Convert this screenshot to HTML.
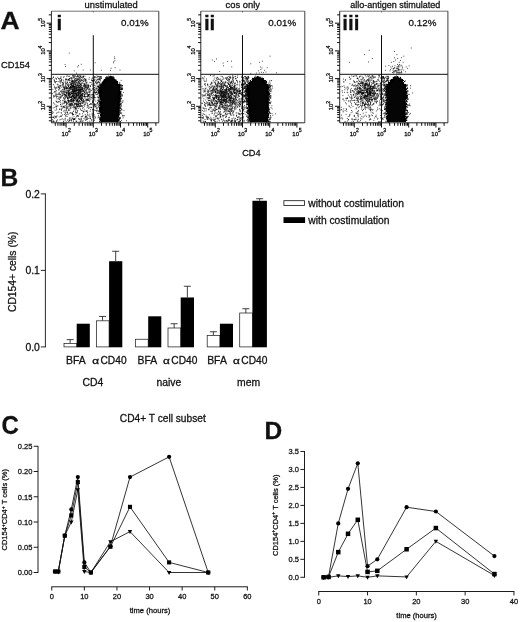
<!DOCTYPE html>
<html><head><meta charset="utf-8"><title>figure</title>
<style>html,body{margin:0;padding:0;background:#fff;}svg{display:block;will-change:transform;filter:blur(0.3px);}text{font-family:'Liberation Sans', sans-serif;fill:#111;}.t text{stroke:#111;stroke-width:0.28px;}</style>
</head><body>
<svg width="520" height="622" viewBox="0 0 520 622">
<rect width="520" height="622" fill="#fff"/>
<g class="t">
<text transform="translate(0.5 28.8) scale(1.09 1)" font-size="24.3" font-weight="bold" fill="#000">A</text>
<text x="0.4" y="186.2" font-size="24.6" text-anchor="start" font-weight="bold" fill="#000">B</text>
<text transform="translate(1.6 434.2) scale(0.945 1)" font-size="25.4" font-weight="bold" fill="#000">C</text>
<text transform="translate(264.6 438.8) scale(1.04 1)" font-size="23.5" font-weight="bold" fill="#000">D</text>
<path d="M111 77.5h1M106 78.5h1M108 78.5h6M104 79.5h11M104 80.5h12M103 81.5h15M102 82.5h16M102 83.5h16M101 84.5h18M101 85.5h19M101 86.5h19M100 87.5h20M99 88.5h21M100 89.5h19M100 90.5h20M100 91.5h20M99 92.5h22M100 93.5h20M100 94.5h20M99 95.5h21M100 96.5h19M100 97.5h20M100 98.5h20M100 99.5h20M101 100.5h18M100 101.5h20M100 102.5h19M100 103.5h19M100 104.5h20M100 105.5h20M101 106.5h18M99 107.5h20M99 108.5h20M101 109.5h18M100 110.5h19M100 111.5h19M101 112.5h18M101 113.5h18M100 114.5h19M101 115.5h18M101 116.5h18M101 117.5h17M100 118.5h18M100 119.5h19M100 120.5h19M101 121.5h17" stroke="#050505" stroke-width="1" fill="none" shape-rendering="crispEdges"/>
<path d="M89.5 92.3h0M73.2 88.2h0M71.6 87.5h0M54.3 96.1h0M75.4 80.6h0M71.2 86.9h0M78.0 93.9h0M67.0 103.6h0M68.4 92.2h0M71.7 96.6h0M81.0 83.8h0M80.0 91.0h0M65.1 107.9h0M66.5 108.3h0M81.4 97.1h0M88.1 88.9h0M75.3 90.5h0M70.0 103.4h0M84.3 85.0h0M73.0 83.0h0M81.3 90.2h0M87.9 99.7h0M80.5 81.6h0M76.1 94.6h0M81.4 94.7h0M70.4 92.5h0M74.1 89.9h0M70.9 99.8h0M73.9 96.5h0M71.6 78.0h0M74.0 105.8h0M72.5 95.4h0M76.2 94.1h0M76.0 87.9h0M77.9 88.5h0M63.1 89.0h0M85.9 96.4h0M73.6 96.6h0M65.6 84.8h0M76.2 80.7h0M84.0 88.1h0M67.0 102.6h0M77.2 76.2h0M76.4 91.1h0M62.0 96.3h0M66.0 96.6h0M80.3 90.1h0M84.2 96.5h0M79.8 92.1h0M78.7 95.9h0M76.5 82.4h0M85.2 86.6h0M68.8 104.7h0M74.4 90.2h0M78.6 91.0h0M62.9 84.6h0M86.0 102.6h0M69.2 76.2h0M74.9 86.4h0M92.8 95.1h0M68.9 90.9h0M71.3 99.3h0M88.0 95.1h0M66.9 104.4h0M72.0 89.3h0M79.6 90.2h0M79.1 93.9h0M78.5 104.3h0M86.3 83.2h0M83.6 101.8h0M80.3 104.7h0M70.0 100.8h0M69.8 93.4h0M60.2 85.8h0M60.9 96.8h0M82.5 89.5h0M90.3 107.3h0M67.0 89.0h0M70.0 97.4h0M71.7 88.0h0M82.1 95.6h0M68.6 88.5h0M74.5 90.2h0M73.5 85.2h0M85.8 90.3h0M67.8 103.4h0M76.1 94.2h0M77.7 80.6h0M82.4 106.2h0M65.4 95.0h0M84.4 101.9h0M79.0 83.5h0M76.1 84.7h0M62.4 82.4h0M70.3 94.2h0M82.0 77.6h0M75.8 83.6h0M75.1 79.2h0M89.8 93.0h0M93.1 83.3h0M75.2 104.3h0M91.0 99.0h0M59.6 99.5h0M59.1 89.9h0M82.4 94.0h0M73.4 99.8h0M80.1 84.1h0M79.6 103.3h0M74.8 91.2h0M81.0 103.5h0M76.7 112.5h0M63.2 106.2h0M77.3 82.1h0M77.0 103.1h0M90.2 89.1h0M66.5 88.1h0M75.6 89.8h0M72.1 81.2h0M74.4 94.2h0M88.8 85.4h0M78.5 102.1h0M71.8 94.9h0M81.6 83.1h0M67.5 82.7h0M73.4 85.6h0M87.8 85.8h0M82.3 93.8h0M75.1 90.4h0M71.7 81.9h0M74.3 95.9h0M63.1 100.2h0M83.0 92.0h0M78.2 102.6h0M76.6 95.8h0M65.1 86.8h0M69.8 88.3h0M79.6 91.9h0M77.6 96.7h0M71.5 93.5h0M79.5 100.8h0M83.0 102.4h0M70.1 82.7h0M71.3 81.3h0M68.5 90.9h0M66.3 96.0h0M81.9 100.2h0M79.6 97.8h0M78.2 97.5h0M66.1 83.4h0M67.1 95.3h0M75.0 86.0h0M72.2 95.7h0M76.5 100.1h0M69.9 85.8h0M80.7 89.7h0M89.9 114.2h0M87.9 85.1h0M88.4 87.3h0M76.1 82.0h0M82.9 78.8h0M72.5 101.0h0M82.9 85.8h0M72.5 86.3h0M71.6 84.6h0M81.1 98.7h0M77.7 86.9h0M77.0 91.4h0M66.4 104.3h0M76.6 90.6h0M64.0 93.0h0M87.3 93.5h0M74.4 103.5h0M77.1 79.6h0M74.7 86.8h0M64.5 92.1h0M75.3 97.8h0M87.4 88.1h0M66.6 110.1h0M69.9 100.9h0M75.1 109.8h0M62.0 93.6h0M61.9 108.6h0M72.2 87.5h0M75.1 96.0h0M72.4 93.4h0M87.8 88.4h0M74.2 107.3h0M78.4 104.3h0M88.3 86.1h0M89.1 98.7h0M62.8 93.3h0M72.5 93.9h0M84.8 98.0h0M64.5 88.0h0M68.1 94.3h0M65.1 95.3h0M64.6 87.1h0M66.4 88.0h0M76.9 100.5h0M85.7 92.9h0M87.7 114.1h0M75.6 112.0h0M59.7 85.9h0M75.0 95.3h0M78.3 86.4h0M74.5 84.1h0M61.1 85.2h0M59.0 94.5h0M70.0 93.4h0M78.0 84.7h0M78.3 91.3h0M88.1 100.4h0M56.6 106.6h0M78.2 79.9h0M81.0 106.4h0M72.9 76.4h0M80.6 84.5h0M66.7 88.4h0M80.8 106.0h0M79.8 97.5h0M67.6 97.3h0M70.2 106.1h0M74.0 94.0h0M70.3 87.9h0M83.9 105.3h0M76.9 90.0h0M86.0 80.4h0M84.9 76.2h0M76.0 93.4h0M74.0 108.9h0M67.9 98.7h0M69.1 92.4h0M69.1 103.0h0M78.3 78.4h0M68.4 95.9h0M76.1 87.1h0M77.0 104.5h0M71.5 84.3h0M74.0 99.2h0M87.1 93.8h0M88.4 92.1h0M69.2 98.3h0M73.9 90.8h0M72.5 105.0h0M73.3 90.1h0M81.0 105.1h0M85.6 104.1h0M89.7 96.6h0M72.0 104.6h0M74.0 98.2h0M75.8 84.4h0M74.8 82.5h0M80.7 89.4h0M84.8 96.7h0M84.8 79.0h0M79.1 83.7h0M69.2 105.7h0M63.1 85.6h0M84.5 85.3h0M79.2 83.3h0M68.0 106.7h0M71.5 99.1h0M71.9 100.0h0M62.1 106.9h0M77.5 100.7h0M69.2 104.1h0M73.1 95.3h0M81.4 99.9h0M74.7 97.7h0M79.8 98.3h0M78.9 81.3h0M75.8 90.0h0M75.9 88.6h0M90.4 86.0h0M74.1 91.5h0M88.5 108.3h0M68.2 100.5h0M81.3 92.8h0M76.9 95.0h0M69.7 104.7h0M54.3 80.9h0M88.3 95.4h0M66.3 106.9h0M67.8 108.2h0M76.5 100.0h0M76.0 96.9h0M77.7 75.4h0M73.5 85.4h0M63.5 91.4h0M82.4 95.3h0M68.3 95.5h0M80.1 86.9h0M85.0 94.3h0M73.8 84.8h0M73.1 89.7h0M73.6 96.4h0M60.7 94.5h0M69.5 93.4h0M67.5 98.4h0M66.3 102.0h0M76.8 89.1h0M73.0 82.3h0M88.3 85.5h0M87.4 87.3h0M60.4 91.4h0M76.5 78.2h0M67.5 84.9h0M79.9 89.5h0M76.8 104.1h0M82.9 96.5h0M78.0 90.5h0M81.6 99.8h0M73.1 93.5h0M55.4 94.0h0M66.0 101.5h0M68.7 94.9h0M71.6 93.3h0M67.4 98.4h0M88.6 87.0h0M74.2 92.3h0M72.8 88.1h0M88.7 105.8h0M65.9 88.7h0M80.3 91.9h0M64.9 88.1h0M79.0 82.7h0M88.2 96.4h0M62.4 91.8h0M68.5 101.8h0M77.5 84.0h0M74.0 92.3h0M64.5 88.9h0M84.8 86.7h0M75.9 101.7h0M85.8 85.4h0M78.0 85.5h0M66.3 114.8h0M71.7 91.4h0M86.6 90.2h0M64.4 96.2h0M71.8 83.0h0M80.3 95.2h0M83.6 81.4h0M82.1 87.7h0M63.7 86.9h0M92.2 104.2h0M74.2 97.7h0M75.6 108.7h0M75.5 107.1h0M73.6 85.9h0M67.8 96.8h0M72.9 88.1h0M86.1 86.3h0M64.6 102.8h0M56.0 105.0h0M79.8 93.2h0M78.2 95.1h0M81.3 94.7h0M89.3 95.0h0M69.7 95.2h0M76.9 82.9h0M79.5 97.6h0M85.4 85.9h0M83.7 81.3h0M68.8 90.8h0M64.5 94.5h0M73.3 99.6h0M62.6 95.5h0M84.4 94.7h0M72.3 86.0h0M72.7 95.6h0M68.4 93.9h0M87.7 94.6h0M77.8 85.3h0M72.2 107.3h0M80.4 98.8h0M74.8 98.1h0M80.2 92.9h0M86.1 89.4h0M73.4 100.4h0M79.6 80.1h0M79.3 87.8h0M84.6 89.4h0M80.3 97.1h0M75.8 89.2h0M70.4 104.8h0M77.9 76.1h0M67.1 106.1h0M80.7 94.8h0M76.0 100.4h0M79.9 87.3h0M71.3 101.3h0M69.1 89.0h0M68.2 94.3h0M84.4 78.6h0M73.7 96.9h0M73.7 93.0h0M75.0 91.0h0M86.4 99.3h0M73.6 85.8h0M75.7 93.7h0M64.1 103.6h0M66.7 84.0h0M80.3 108.9h0M73.8 94.1h0M78.9 89.9h0M85.7 79.6h0M80.8 75.9h0M60.3 100.5h0M67.6 87.7h0M66.4 86.3h0M68.2 101.5h0M58.9 98.0h0M59.1 93.0h0M69.5 78.6h0M79.6 100.4h0M72.9 91.5h0M86.9 89.5h0M60.9 109.2h0M64.4 88.1h0M77.5 95.2h0M73.3 111.4h0M67.6 97.5h0M81.6 87.0h0M84.2 84.3h0M86.0 103.0h0M72.3 80.8h0M75.4 99.5h0M77.3 106.6h0M75.9 91.1h0M83.6 99.5h0M71.6 92.7h0M78.4 104.9h0M57.8 94.6h0M81.5 85.7h0M88.6 95.3h0M75.3 93.4h0M83.8 86.5h0M62.2 89.9h0M72.8 81.2h0M63.1 84.5h0M78.0 97.9h0M79.7 75.4h0M64.5 94.6h0M68.7 92.2h0M70.8 86.8h0M94.9 104.8h0M74.9 98.3h0M76.4 86.7h0M78.4 93.9h0M77.9 100.4h0M73.6 77.9h0M64.8 94.0h0M70.1 89.9h0M88.6 95.7h0M77.5 111.2h0M72.5 86.2h0M64.7 89.0h0M75.0 81.2h0M75.7 94.1h0M70.3 97.7h0M70.8 105.4h0M74.1 106.5h0M77.3 78.4h0M84.5 96.4h0M73.7 93.0h0M72.0 102.8h0M79.2 89.6h0M77.2 103.9h0M85.0 79.8h0M78.7 96.0h0M75.3 88.3h0M79.1 88.0h0M80.7 76.2h0M66.5 88.6h0M74.4 104.7h0M72.8 86.4h0M85.1 90.2h0M71.6 93.5h0M84.0 83.6h0M65.4 94.7h0M75.1 97.4h0M84.0 90.2h0M73.4 75.5h0M84.7 106.2h0M59.3 92.8h0M75.7 92.2h0M76.8 90.5h0M74.5 87.0h0M63.4 77.3h0M80.8 92.0h0M56.9 93.8h0M83.1 101.4h0M77.8 107.2h0M83.4 85.8h0M73.5 107.0h0M66.6 93.2h0M71.4 97.7h0M71.8 83.2h0M80.3 95.6h0M73.0 83.9h0M78.8 98.6h0M79.4 81.1h0M86.9 92.8h0M59.6 88.7h0M72.3 95.7h0M81.0 94.8h0M81.1 93.9h0M71.1 87.9h0M73.5 100.3h0M74.8 97.7h0M76.6 85.5h0M71.1 99.3h0M70.5 86.7h0M66.7 93.4h0M72.6 91.7h0M86.7 91.8h0M68.0 99.8h0M83.3 76.3h0M91.2 104.2h0M77.3 76.6h0M94.5 103.9h0M74.6 97.8h0M89.0 79.3h0M75.3 96.0h0M66.0 89.9h0M78.5 82.1h0M90.8 103.8h0M71.1 103.0h0M79.6 96.3h0M67.8 108.1h0M68.7 94.3h0M79.4 90.5h0M74.3 104.9h0M80.3 86.3h0M86.0 100.3h0M66.4 103.2h0M70.4 95.1h0M76.2 94.0h0M94.4 97.5h0M73.3 95.3h0M72.0 86.8h0M92.8 88.5h0M71.3 79.8h0M73.5 102.0h0M76.3 89.0h0M82.0 95.3h0M93.5 100.0h0M66.1 102.5h0M62.8 84.7h0M77.3 112.8h0M80.4 101.6h0M58.3 99.0h0M71.2 84.9h0M83.8 111.6h0M71.9 99.2h0M80.0 103.4h0M77.6 90.5h0M81.4 110.5h0M79.7 106.6h0M78.3 92.3h0M86.2 111.4h0M71.7 83.5h0M77.2 101.1h0M85.3 99.1h0M71.8 99.4h0M73.3 86.6h0M70.3 89.7h0M68.8 101.7h0M92.5 102.6h0M80.1 92.4h0M91.3 90.4h0M82.2 88.0h0M77.0 104.9h0M74.1 91.3h0M78.5 87.6h0M83.6 76.2h0M69.4 82.2h0M80.0 88.5h0M74.5 89.4h0M74.5 83.0h0M80.7 88.2h0M80.8 91.2h0M75.5 76.0h0M76.2 98.5h0M80.8 109.8h0M75.4 78.5h0M63.8 92.3h0M73.8 88.7h0M81.2 95.4h0M78.5 85.1h0M69.2 96.9h0M82.1 77.6h0M81.0 98.9h0M81.1 89.4h0M88.4 95.4h0M73.5 101.3h0M80.9 81.1h0M74.1 86.5h0M84.0 85.1h0M85.4 91.0h0M80.0 93.5h0M82.0 98.6h0M69.5 93.9h0M81.0 90.5h0M66.5 96.9h0M93.3 101.3h0M85.2 100.8h0M63.7 111.1h0M54.6 86.2h0M86.3 94.1h0M69.0 79.7h0M80.1 85.7h0M65.4 97.6h0M76.3 103.4h0M70.6 87.5h0M80.5 96.3h0M73.0 92.7h0M87.6 96.6h0M69.6 94.0h0M85.9 87.7h0M79.8 78.4h0M62.9 95.5h0M61.6 91.2h0M84.0 111.0h0M65.8 92.5h0M72.9 100.3h0M73.0 81.3h0M68.4 79.3h0M77.2 93.9h0M64.3 107.2h0M66.1 95.7h0M83.0 89.1h0M69.1 95.7h0M81.5 97.6h0M80.9 96.1h0M87.7 92.2h0M79.2 82.4h0M60.9 81.7h0M70.3 87.4h0M72.2 90.8h0M85.4 80.1h0M78.3 106.5h0M71.6 97.4h0M79.0 87.2h0M72.7 99.0h0M79.9 114.1h0M76.7 94.3h0M84.4 94.1h0M78.2 101.4h0M83.5 79.8h0M75.4 86.9h0M81.2 85.1h0M74.3 99.0h0M80.6 76.8h0M77.3 95.0h0M74.5 87.7h0M72.1 89.5h0M73.3 87.0h0M79.3 105.4h0M57.2 84.3h0M85.4 81.2h0M56.6 94.8h0M74.0 86.8h0M72.9 96.7h0M81.4 91.5h0M77.4 92.4h0M75.2 92.5h0M76.2 76.7h0M94.2 110.2h0M78.5 81.4h0M59.0 96.7h0M72.1 81.8h0M78.9 91.2h0M69.4 105.1h0M72.5 90.1h0M80.0 78.1h0M78.1 79.1h0M64.9 94.7h0M83.1 99.8h0M65.0 110.1h0M73.4 111.2h0M86.1 79.1h0M64.9 90.9h0M72.7 80.9h0M88.9 94.5h0M73.4 99.2h0M67.1 75.4h0M70.8 99.7h0M82.2 98.5h0M62.9 89.7h0M70.4 86.5h0M63.8 107.0h0M66.2 90.6h0M85.8 82.1h0M74.8 93.0h0M72.0 101.3h0M78.9 98.2h0M65.9 79.7h0M84.7 88.2h0M82.5 93.3h0M68.7 93.3h0M81.1 80.6h0M87.2 100.2h0M79.4 96.2h0M79.5 77.7h0M65.5 83.3h0M74.4 90.9h0M60.5 78.2h0M84.4 92.2h0M74.1 93.5h0M86.1 88.0h0M69.3 97.2h0M82.5 108.3h0M62.8 86.0h0M72.2 96.3h0M79.9 87.9h0M78.3 105.9h0M75.0 103.3h0M62.2 92.0h0M86.1 86.4h0M80.8 99.1h0M84.7 91.4h0M84.6 80.9h0M72.5 82.9h0M78.6 90.5h0M96.8 111.6h0M68.7 101.9h0M78.8 104.5h0M71.0 100.5h0M89.6 104.5h0M76.9 105.6h0M67.1 82.0h0M70.6 97.5h0M64.1 97.7h0M57.1 96.5h0M53.6 95.8h0M66.3 93.7h0M76.7 79.8h0M68.8 100.7h0M77.3 87.3h0M89.8 89.5h0M66.0 91.5h0M83.4 90.4h0M94.5 80.5h0M68.4 100.6h0M61.8 87.2h0M73.1 81.7h0M72.2 103.2h0M81.2 89.3h0M66.9 83.2h0M73.3 91.0h0M72.9 90.2h0M62.7 94.1h0M62.7 82.9h0M79.1 101.6h0M79.9 94.9h0M69.0 106.6h0M88.1 97.0h0M83.0 83.1h0M79.2 101.5h0M80.4 89.7h0M78.3 92.9h0M82.5 80.7h0M76.0 104.4h0M58.8 101.9h0M74.1 76.2h0M68.7 95.0h0M65.8 95.1h0M80.3 103.3h0M61.0 82.2h0M82.2 76.3h0M70.2 94.8h0M65.4 86.1h0M68.3 86.7h0M94.4 84.0h0M87.4 103.3h0M73.1 84.3h0M84.1 100.8h0M89.9 97.7h0M68.3 86.2h0M73.1 100.9h0M82.9 103.5h0M78.7 95.4h0M72.4 90.0h0M88.7 99.0h0M79.6 85.4h0M81.9 96.6h0M95.0 106.0h0M79.4 80.0h0M97.0 75.9h0M77.9 98.7h0M74.1 84.2h0M76.5 88.0h0M82.6 93.5h0M80.8 86.5h0M78.5 93.3h0M63.3 83.3h0M66.5 87.3h0M73.3 91.3h0M81.4 97.1h0M87.2 88.4h0M55.8 95.2h0M74.2 97.6h0M71.7 96.7h0M74.5 91.1h0M77.1 103.9h0M68.4 85.2h0M64.6 101.6h0M83.7 101.1h0M81.5 100.2h0M72.0 87.5h0M74.4 100.9h0M69.7 96.5h0M63.8 82.1h0M80.7 89.4h0M69.9 80.4h0M66.2 95.6h0M70.4 104.8h0M88.8 100.5h0M79.0 83.2h0M77.3 83.2h0M76.1 90.5h0M82.4 90.9h0M81.3 98.9h0M64.7 89.3h0M73.4 102.4h0M70.0 87.5h0M77.1 101.6h0M74.8 79.2h0M59.0 87.3h0M84.7 92.6h0M77.4 99.7h0M61.1 97.0h0M84.6 84.5h0M76.3 80.6h0M79.1 92.1h0M75.5 91.5h0M76.6 88.8h0M71.1 92.1h0M61.6 80.4h0M70.1 96.9h0M76.6 101.2h0M75.5 84.3h0M80.5 84.6h0M74.3 103.4h0M56.8 101.9h0M81.1 85.2h0M68.5 86.2h0M64.1 76.6h0M72.4 96.7h0M63.9 94.1h0M77.9 92.6h0M67.4 112.6h0M90.8 90.7h0M72.9 91.3h0M70.4 94.6h0M69.6 90.6h0M57.3 102.3h0M67.8 90.8h0M68.7 93.5h0M72.2 112.6h0M56.8 87.2h0M75.2 81.6h0M85.4 93.8h0M71.4 86.8h0M74.5 86.7h0M78.4 94.4h0M68.4 100.0h0M71.4 78.6h0M82.8 90.6h0M65.0 100.6h0M60.5 83.0h0M93.7 98.0h0M78.7 108.4h0M62.2 104.3h0M76.4 96.0h0M76.2 109.1h0M59.9 88.4h0M90.0 99.3h0M80.1 87.6h0M73.7 89.9h0M80.9 106.6h0M73.5 77.1h0M72.6 81.0h0M82.6 89.4h0M59.2 101.6h0M78.6 103.4h0M81.6 88.3h0M82.9 98.3h0M88.1 115.7h0M87.2 96.7h0M82.7 101.9h0M72.4 104.5h0M81.2 89.4h0M71.7 93.4h0M67.8 90.6h0M79.3 94.0h0M78.5 89.4h0M85.3 87.4h0M58.2 86.6h0M80.5 99.0h0M81.1 80.1h0M76.6 93.0h0M87.8 104.4h0M68.6 79.5h0M78.5 76.2h0M72.7 98.1h0M75.6 84.8h0M67.9 85.4h0M74.6 97.8h0M81.3 94.8h0M76.8 85.9h0M78.6 89.0h0M69.6 78.7h0M88.7 86.7h0M70.1 91.3h0M76.0 97.0h0M80.6 97.3h0M74.3 107.7h0M82.0 91.4h0M77.4 101.0h0M89.7 94.5h0M80.3 83.2h0M79.1 94.9h0M69.3 95.2h0M79.6 98.1h0M84.0 96.5h0M79.2 93.2h0M68.3 84.0h0M71.4 89.3h0M73.9 94.6h0M76.0 97.9h0M64.6 99.4h0M91.0 95.3h0M75.0 97.8h0M76.7 104.9h0M72.2 93.9h0M75.4 87.2h0M91.3 79.2h0M68.0 92.3h0M71.5 97.6h0M67.3 88.6h0M71.2 105.3h0M88.1 84.2h0M70.6 88.6h0M72.0 91.6h0M61.0 80.8h0M72.7 101.0h0M77.5 85.1h0M71.7 81.2h0M72.4 75.4h0M82.1 100.1h0M79.9 103.3h0M74.8 82.7h0M69.3 78.9h0M63.5 87.7h0M89.2 91.6h0M63.2 86.9h0M80.9 96.0h0M74.1 82.1h0M69.8 110.3h0M82.8 95.0h0M69.7 100.9h0M85.8 88.1h0M67.4 100.4h0M79.7 106.8h0M86.0 85.3h0M67.9 93.0h0M92.6 100.9h0M82.6 95.6h0M57.9 84.3h0M86.9 87.7h0M91.1 97.2h0M73.6 94.9h0M74.1 86.0h0M78.7 94.9h0M76.9 92.6h0M83.2 100.6h0M71.3 100.3h0M84.6 88.1h0M93.4 94.2h0M59.9 94.0h0M61.1 90.8h0M70.0 84.5h0M80.8 78.9h0M78.7 86.2h0M68.3 80.4h0M69.8 101.9h0M89.3 77.7h0M68.0 84.7h0M71.0 84.6h0M73.5 93.0h0M87.2 105.7h0M78.4 77.0h0M70.1 82.4h0M72.6 88.0h0M83.2 88.2h0M72.8 89.4h0M77.8 99.7h0M82.9 102.1h0M83.8 111.8h0M61.0 80.9h0M71.8 101.6h0M73.1 98.4h0M76.6 89.7h0M82.0 80.6h0M85.2 114.4h0M72.2 103.6h0M66.9 76.5h0M77.4 106.5h0M71.1 97.0h0M89.8 94.9h0M78.8 99.9h0M76.4 87.2h0M83.9 91.5h0M70.6 101.4h0M73.2 82.1h0M74.5 80.2h0M81.2 77.2h0M86.4 99.4h0M82.3 82.9h0M82.0 89.3h0M74.2 87.9h0M79.0 97.8h0M74.1 95.6h0M85.3 85.0h0M70.9 105.1h0M75.4 96.2h0M77.9 95.5h0M82.3 88.4h0M70.1 89.2h0M74.1 90.0h0M69.4 92.4h0M65.2 96.1h0M84.7 96.2h0M79.6 89.9h0M63.9 91.1h0M68.1 98.6h0M80.4 103.1h0M71.1 103.6h0M67.5 92.0h0M86.0 80.7h0M72.0 93.7h0M72.9 93.7h0M80.4 93.0h0M70.2 96.9h0M76.0 87.7h0M77.2 93.3h0M69.9 108.3h0M84.5 92.5h0M78.6 89.3h0M90.2 96.9h0M77.6 89.9h0M71.5 85.5h0M71.5 99.7h0M66.7 92.7h0M75.7 85.9h0M75.2 98.4h0M82.9 96.1h0M76.4 95.5h0M69.0 89.4h0M84.0 101.9h0M72.2 83.9h0M77.8 99.7h0M87.4 105.9h0M85.9 83.8h0M69.8 94.1h0M74.7 75.8h0M86.4 92.3h0M83.6 76.5h0M80.0 79.9h0M82.8 93.8h0M58.3 101.8h0M73.2 96.6h0M64.0 90.0h0M70.4 84.9h0M72.4 92.1h0M79.3 113.9h0M84.9 104.8h0M81.8 79.9h0M77.6 85.5h0M72.5 78.9h0M85.6 97.0h0M77.5 89.3h0M61.1 78.0h0M74.7 90.3h0M79.3 87.5h0M67.5 82.3h0M77.0 88.7h0M87.4 99.8h0M73.1 83.5h0M74.7 88.6h0M74.8 79.0h0M67.2 88.2h0M71.2 104.3h0M66.9 96.9h0M72.7 85.5h0M68.5 86.5h0M82.7 103.4h0M74.0 90.8h0M81.8 87.4h0M64.8 102.5h0M74.8 88.5h0M79.6 85.6h0M80.5 95.9h0M69.9 80.5h0M74.1 88.4h0M78.4 86.9h0M55.9 88.2h0M58.1 85.2h0M91.4 107.4h0M82.5 110.8h0M73.6 92.4h0M76.1 96.8h0M92.3 78.1h0M69.6 120.9h0M92.6 116.7h0M90.5 109.7h0M82.3 116.4h0M84.5 86.4h0M77.7 100.2h0M61.7 113.1h0M86.5 119.7h0M58.9 78.6h0M78.9 86.5h0M71.8 121.1h0M76.2 113.2h0M93.4 97.4h0M72.4 113.6h0M83.2 120.9h0M53.1 117.0h0M67.3 80.1h0M57.9 112.4h0M65.7 113.6h0M81.7 84.1h0M71.1 113.3h0M90.2 116.6h0M81.1 118.4h0M72.8 113.4h0M81.9 116.6h0M88.8 106.9h0M90.4 118.7h0M61.1 115.6h0M82.5 88.0h0M73.4 121.3h0M56.4 81.5h0M80.8 93.0h0M88.1 100.0h0M60.8 97.8h0M65.8 102.7h0M61.8 79.7h0M71.1 119.8h0M72.0 77.5h0M73.5 87.7h0M52.6 78.2h0M63.7 97.8h0M94.3 91.6h0M89.8 121.2h0M76.5 93.9h0M81.5 118.9h0M58.9 112.1h0M79.3 119.0h0M94.6 99.9h0M77.5 104.8h0M84.7 83.7h0M62.9 100.7h0M78.8 96.2h0M85.5 116.2h0M63.2 83.5h0M75.9 108.1h0M74.5 118.6h0M76.0 109.0h0M65.5 101.2h0M65.3 81.1h0M60.4 104.5h0M65.2 118.3h0M55.7 91.7h0M77.0 115.8h0M56.3 79.1h0M84.5 95.8h0M93.6 93.0h0M55.1 110.2h0M58.4 89.7h0M71.3 119.1h0M90.1 85.8h0M86.2 119.1h0M64.7 101.7h0M69.6 118.8h0M95.3 117.2h0M59.3 97.9h0M87.5 112.7h0M56.0 92.0h0M95.2 118.0h0M76.7 116.4h0M63.8 119.9h0M74.7 77.1h0M84.3 109.2h0M59.8 87.6h0M71.7 85.1h0M87.2 117.3h0M60.0 86.0h0M56.0 101.0h0M91.7 119.6h0M94.7 115.0h0M86.2 116.0h0M77.5 115.9h0M68.2 91.7h0M58.8 86.9h0M92.8 109.8h0M87.8 122.0h0M56.4 101.6h0M59.5 109.6h0M86.3 111.3h0M77.0 102.1h0M66.0 105.5h0M66.2 121.9h0M89.7 101.1h0M89.1 89.7h0M82.4 97.5h0M80.8 98.9h0M77.4 115.5h0M54.5 91.6h0M71.0 106.8h0M90.0 117.9h0M75.0 93.5h0M65.2 85.8h0M87.4 95.8h0M92.0 114.9h0M65.0 110.8h0M80.9 119.8h0M71.0 100.7h0M86.9 84.4h0M75.1 118.8h0M64.5 114.4h0M59.6 79.2h0M91.2 94.4h0M68.4 97.4h0M82.3 121.2h0M76.2 106.2h0M74.8 86.6h0M63.3 94.1h0M79.3 119.6h0M80.4 121.0h0M55.4 82.9h0M83.3 94.1h0M89.7 116.0h0M86.1 110.8h0M81.8 121.2h0M70.9 77.6h0M76.9 80.2h0M53.3 121.0h0M58.6 78.6h0M56.5 113.2h0M88.8 94.5h0M66.3 92.2h0M60.5 104.3h0M91.7 107.7h0M83.5 90.9h0M65.0 112.4h0M94.5 77.3h0M70.2 78.5h0M53.4 77.5h0M52.4 93.7h0M76.0 110.8h0M84.4 85.0h0M80.7 87.0h0M68.3 102.2h0M56.7 116.6h0M78.1 105.8h0M74.0 116.7h0M57.1 96.3h0M82.0 100.5h0M57.0 98.8h0M53.5 103.0h0M76.7 91.1h0M72.5 114.9h0M90.9 82.5h0M76.7 105.6h0M53.9 96.2h0M56.4 108.1h0M81.2 116.9h0M85.1 117.6h0M66.3 79.8h0M87.1 82.2h0M65.1 119.0h0M56.7 109.8h0M70.3 86.8h0M68.0 79.5h0M69.9 120.6h0M85.8 117.1h0M86.7 100.9h0M60.4 116.3h0M68.3 110.2h0M76.2 121.6h0M54.5 118.2h0M67.0 107.3h0M85.0 119.2h0M74.6 95.8h0M64.3 101.5h0M59.2 116.9h0M66.7 94.9h0M75.6 112.1h0M66.5 109.9h0M67.3 120.1h0M81.4 105.7h0M70.1 118.9h0M64.8 107.1h0M56.5 78.9h0M56.5 120.7h0M61.4 106.2h0M56.3 90.6h0M87.1 110.3h0M59.3 81.9h0M64.9 106.0h0M73.6 100.6h0M89.8 91.0h0M87.9 98.9h0M77.6 87.5h0M55.3 78.1h0M70.3 83.5h0M63.3 103.0h0M72.5 85.9h0M62.2 103.2h0M67.9 93.5h0M75.5 103.5h0M93.0 97.3h0M69.3 113.2h0M56.1 117.7h0M56.9 121.7h0M86.3 116.7h0M74.6 119.5h0M81.3 101.0h0M93.3 114.2h0M86.1 85.3h0M60.5 86.0h0M73.4 114.6h0M57.0 106.1h0M68.1 119.9h0M81.1 119.8h0M79.1 121.9h0M90.1 111.3h0M55.3 89.7h0M77.7 110.7h0M83.1 93.4h0M64.5 91.9h0M54.4 80.9h0M56.1 96.1h0M67.7 113.9h0M79.6 97.1h0M61.7 109.7h0M70.6 107.6h0M61.2 92.3h0M93.2 114.7h0M81.2 79.9h0M68.7 110.2h0M68.1 114.6h0M80.2 76.7h0M63.4 98.2h0M66.7 108.1h0M65.1 88.3h0M88.1 85.2h0M82.5 113.7h0M87.2 107.4h0M55.4 81.7h0M73.4 119.9h0M83.1 91.2h0M67.1 112.0h0M77.0 104.3h0M87.5 99.2h0M83.4 111.8h0M66.0 78.4h0M87.9 86.5h0M92.9 117.4h0M52.4 111.9h0M79.0 97.2h0M78.3 102.2h0M90.3 92.0h0M53.4 76.9h0M86.8 96.7h0M54.3 87.7h0M95.1 94.2h0M71.0 103.5h0M60.4 102.1h0M58.7 94.0h0M59.9 80.6h0M73.7 83.1h0M86.6 82.4h0M94.8 116.6h0M71.2 103.9h0M61.3 79.4h0M87.6 119.1h0M65.8 116.3h0M57.9 105.7h0M70.0 117.6h0M72.1 117.4h0M65.1 98.7h0M68.1 90.2h0M70.4 112.6h0M71.5 120.4h0M76.1 120.9h0M74.7 119.6h0M74.3 77.1h0M54.1 92.6h0M78.5 118.7h0M61.5 110.3h0M83.2 107.6h0M91.5 84.2h0M78.4 92.1h0M79.9 106.1h0M69.0 76.5h0M93.9 106.6h0M79.7 89.3h0M53.9 97.1h0M65.2 120.2h0M67.9 98.3h0M79.6 85.2h0M77.3 95.2h0M60.2 98.2h0M63.8 107.2h0M91.5 120.8h0M54.3 81.1h0M66.0 112.2h0M64.9 98.6h0M67.4 112.2h0M77.1 100.1h0M55.5 116.5h0M61.0 119.4h0M78.4 115.9h0M61.3 116.5h0M91.8 97.6h0M75.8 114.3h0M75.3 83.0h0M93.1 96.8h0M92.2 113.1h0M93.4 114.3h0M63.4 122.1h0M56.4 97.2h0M78.3 116.3h0M53.5 117.5h0M90.5 118.3h0M91.5 80.5h0M69.8 120.3h0M89.8 100.9h0M58.6 87.7h0M82.5 87.9h0M73.4 80.9h0M89.9 82.4h0M68.9 109.4h0M79.3 91.1h0M75.0 107.7h0M56.2 121.8h0M90.5 86.5h0M88.5 89.9h0M86.5 118.0h0M68.8 87.4h0M57.0 115.8h0M74.7 119.3h0M73.5 119.4h0M53.7 122.0h0M80.6 90.6h0M94.3 120.4h0M76.0 80.7h0M61.0 76.6h0M54.1 121.4h0M55.9 106.6h0M85.6 120.3h0M65.4 115.3h0M76.6 97.3h0M74.8 81.4h0M87.8 115.0h0M83.1 115.8h0M73.7 119.0h0M57.0 87.9h0M80.2 91.6h0M93.7 109.0h0M53.2 112.3h0M84.3 104.2h0M62.8 108.0h0M92.8 115.4h0M83.5 77.3h0M75.9 117.9h0M59.9 94.8h0M80.0 100.0h0M53.2 117.3h0M61.2 95.4h0M63.4 106.6h0M76.9 108.7h0M87.0 100.6h0M89.5 88.2h0M69.7 87.5h0M70.9 108.6h0M77.6 79.3h0M54.4 104.0h0M54.2 116.0h0M78.4 93.1h0M89.8 107.9h0M86.6 87.2h0M73.3 97.5h0M66.3 79.5h0M88.9 118.5h0M72.0 105.7h0M87.7 118.9h0M52.9 117.4h0M79.2 77.1h0M59.9 119.8h0M73.9 119.2h0M63.4 80.2h0M52.9 121.4h0M94.3 118.9h0M92.5 109.8h0M93.2 113.7h0M75.7 107.6h0M52.7 119.6h0M70.3 104.5h0M77.1 76.6h0M53.2 107.9h0M72.5 118.7h0M87.7 111.9h0M82.4 88.7h0M70.8 88.0h0M69.6 88.5h0M72.6 114.5h0M71.2 88.1h0M60.2 78.5h0M66.1 92.6h0M94.4 104.1h0M54.8 107.4h0M67.1 116.5h0M55.0 82.5h0M73.6 105.1h0M52.7 113.6h0M74.7 100.5h0M74.1 80.6h0M80.3 104.9h0M85.3 116.6h0M77.0 98.4h0M55.0 96.0h0M73.8 119.3h0M57.6 119.9h0M62.3 118.9h0M53.5 84.7h0M82.2 105.9h0M65.7 87.4h0M76.1 107.8h0M78.6 79.5h0M72.9 118.8h0M76.1 106.6h0M65.3 82.2h0M94.0 105.1h0M72.1 113.2h0M91.1 103.7h0M55.7 117.2h0M60.7 97.0h0M83.9 118.6h0M93.1 94.2h0M58.1 81.5h0M76.8 121.4h0M60.9 106.3h0M52.9 89.3h0M54.1 79.4h0M65.6 79.3h0M85.5 79.4h0M67.0 87.8h0M61.1 112.7h0M94.0 97.5h0M84.4 95.9h0M80.6 121.8h0M59.7 109.0h0M62.6 114.9h0M81.4 102.7h0M63.7 121.6h0M73.7 114.7h0M90.5 104.0h0M76.9 96.1h0M55.2 87.8h0M93.6 112.4h0M57.8 77.3h0M68.5 121.4h0M53.0 121.1h0M55.8 88.2h0M93.0 113.8h0M101.3 88.5h0M120.0 113.0h0M118.7 87.2h0M100.4 115.0h0M98.5 89.9h0M119.3 89.9h0M99.0 95.8h0M101.6 112.5h0M101.4 86.8h0M117.2 115.6h0M100.7 112.8h0M118.2 114.6h0M120.9 89.5h0M97.8 110.6h0M118.2 107.0h0M101.3 108.9h0M118.4 87.2h0M99.4 121.7h0M101.0 96.7h0M120.5 96.2h0M120.2 92.0h0M118.0 121.5h0M117.9 111.5h0M101.3 119.0h0M99.3 96.6h0M120.2 93.9h0M101.5 93.1h0M117.9 101.1h0M101.5 118.3h0M117.3 115.9h0M118.7 107.2h0M117.7 109.3h0M120.0 106.8h0M119.1 121.4h0M119.1 105.3h0M118.3 103.2h0M99.1 84.7h0M100.9 104.5h0M100.9 89.3h0M98.5 100.2h0M118.9 91.8h0M118.7 114.3h0M120.3 99.3h0M119.2 104.9h0M100.0 90.3h0M100.9 115.2h0M101.2 101.8h0M100.7 105.3h0M119.4 84.3h0M118.9 94.6h0M119.6 114.0h0M120.2 93.5h0M98.6 113.4h0M100.1 91.0h0M117.4 117.3h0M119.5 94.1h0M100.7 104.9h0M100.8 92.1h0M101.9 116.5h0M120.1 101.4h0M101.3 106.8h0M118.6 93.9h0M101.3 95.7h0M120.9 89.2h0M118.3 103.8h0M119.6 94.3h0M100.1 84.4h0M101.1 101.8h0M100.2 101.2h0M120.4 85.1h0M101.5 112.6h0M118.4 101.1h0M99.3 87.2h0M121.6 89.6h0M120.7 93.6h0M99.9 97.7h0M101.3 93.5h0M100.5 89.0h0M100.9 112.1h0M101.1 107.3h0M101.6 104.7h0M99.3 110.1h0M100.6 113.2h0M117.1 120.6h0M99.0 93.6h0M100.3 93.0h0M99.7 90.6h0M100.7 111.0h0M119.6 113.0h0M118.3 108.0h0M118.5 100.9h0M100.5 99.7h0M100.0 105.5h0M117.7 121.5h0M118.8 107.6h0M117.9 115.0h0M100.5 91.9h0M120.7 92.3h0M119.8 98.9h0M120.5 89.7h0M101.7 107.4h0M119.3 84.7h0M120.0 88.2h0M118.9 101.1h0M98.6 91.1h0M118.6 85.9h0M99.8 103.9h0M99.5 103.2h0M100.4 89.4h0M117.7 119.0h0M120.4 113.3h0M99.7 98.2h0M121.1 108.3h0M118.5 118.1h0M119.1 102.2h0M122.4 88.2h0M120.6 108.0h0M119.0 103.3h0M118.8 92.5h0M118.2 100.2h0M99.8 121.5h0M117.7 107.7h0M118.3 101.0h0M99.5 95.0h0M118.7 91.4h0M101.6 118.2h0M118.8 97.6h0M121.0 103.5h0M119.3 96.6h0M119.8 104.4h0M99.5 92.7h0M117.5 121.3h0M117.3 112.7h0M100.1 89.0h0M101.3 92.5h0M120.3 87.1h0M119.8 94.3h0M118.1 107.5h0M121.2 88.5h0M99.7 88.1h0M100.4 97.1h0M100.1 94.9h0M118.4 86.5h0M101.4 119.6h0M100.7 93.9h0M117.9 103.0h0M118.9 98.0h0M101.2 87.8h0M120.7 110.6h0M101.2 88.4h0M122.6 89.1h0M118.3 111.9h0M98.1 99.2h0M101.0 85.4h0M120.8 91.5h0M99.3 111.4h0M118.8 84.7h0M119.3 100.3h0M101.8 111.7h0M119.2 107.8h0M117.1 121.8h0M100.4 115.7h0M118.7 90.5h0M117.5 111.8h0M121.0 85.4h0M100.5 115.4h0M99.4 90.6h0M118.8 104.5h0M118.8 108.2h0M100.5 85.4h0M120.4 101.0h0M98.0 107.5h0M119.0 91.7h0M117.5 121.9h0M100.5 115.8h0M119.4 115.0h0M117.1 121.2h0M100.1 91.5h0M101.2 98.9h0M101.6 116.1h0M100.2 119.2h0M119.1 85.5h0M99.8 117.4h0M101.1 85.0h0M119.3 108.3h0M99.5 88.9h0M120.6 85.0h0M118.9 107.8h0M118.9 93.7h0M118.7 86.4h0M101.0 100.6h0M100.2 85.3h0M100.2 119.1h0M121.5 109.2h0M101.8 117.1h0M120.4 94.4h0M100.5 102.5h0M101.4 99.7h0M119.1 100.7h0M119.8 101.9h0M101.8 105.1h0M101.0 90.1h0M101.1 87.1h0M101.3 121.8h0M119.9 98.5h0M119.3 102.8h0M118.4 97.0h0M101.4 115.5h0M118.6 109.5h0M118.9 98.6h0M99.6 113.3h0M100.3 112.1h0M117.9 108.8h0M101.5 102.4h0M99.6 118.6h0M117.9 119.0h0M121.0 101.4h0M117.9 115.5h0M120.0 103.9h0M98.8 106.7h0M119.2 108.3h0M118.1 98.4h0M118.0 108.5h0M119.1 84.7h0M119.7 88.2h0M120.3 122.1h0M117.4 111.7h0M101.6 107.7h0M119.8 107.0h0M99.6 105.3h0M101.4 92.7h0M119.0 111.2h0M118.4 97.5h0M101.0 102.8h0M99.5 89.5h0M117.4 119.9h0M100.8 86.1h0M119.5 117.4h0M122.0 109.6h0M118.6 107.0h0M121.6 106.1h0M120.4 104.3h0M101.7 121.4h0M117.9 121.1h0M119.7 102.4h0M99.3 96.6h0M119.7 90.7h0M119.5 93.0h0M118.5 91.8h0M118.4 117.4h0M120.8 99.9h0M100.6 118.1h0M101.2 94.8h0M120.1 106.7h0M118.3 107.0h0M119.9 96.2h0M101.0 111.8h0M119.0 90.5h0M100.0 101.3h0M100.6 87.0h0M119.0 85.3h0M117.5 113.4h0M98.6 115.7h0M117.4 114.7h0M100.6 105.4h0M118.9 89.5h0M99.4 100.8h0M96.0 106.4h0M120.4 98.2h0M117.6 119.7h0M101.3 92.3h0M117.2 114.6h0M98.9 101.6h0M101.9 112.3h0M117.5 114.9h0M118.8 97.0h0M117.6 106.0h0M119.1 97.2h0M101.5 103.7h0M99.2 94.5h0M117.3 119.4h0M119.8 97.9h0M118.3 99.1h0M119.0 105.7h0M101.2 107.3h0M101.3 115.4h0M99.3 90.7h0M121.5 103.2h0M122.1 88.4h0M101.4 90.8h0M118.5 111.2h0M99.1 91.3h0M120.4 98.7h0M99.7 110.1h0M101.8 106.5h0M121.5 89.6h0M122.1 88.0h0M101.2 107.4h0M120.0 95.7h0M117.0 120.6h0M118.6 84.4h0M120.0 110.8h0M100.3 101.9h0M97.6 102.7h0M100.2 108.7h0M99.0 105.0h0M102.0 120.0h0M101.0 98.7h0M120.7 108.5h0M118.2 111.7h0M100.0 105.9h0M118.2 109.8h0M99.9 121.3h0M117.1 122.0h0M101.9 113.3h0M99.6 88.8h0M118.6 108.1h0M118.4 91.3h0M101.9 113.6h0M117.5 118.8h0M101.0 112.5h0M120.3 121.5h0M122.5 85.6h0M98.9 89.6h0M119.4 97.6h0M101.4 87.7h0M101.1 111.8h0M100.9 95.5h0M119.7 98.1h0M100.2 91.9h0M121.1 89.6h0M100.6 96.5h0M99.5 87.8h0M120.4 117.4h0M100.9 121.9h0M100.5 110.1h0M98.1 91.8h0M101.6 91.8h0M119.5 84.4h0M119.8 111.3h0M98.3 93.1h0M117.9 115.0h0M117.2 120.0h0M120.3 96.8h0M118.4 96.9h0M96.9 105.3h0M101.3 116.7h0M101.6 115.2h0M120.1 105.3h0M118.4 120.8h0M119.4 107.4h0M101.0 102.8h0M117.8 115.8h0M101.1 118.1h0M119.6 112.7h0M119.1 94.3h0M98.7 98.0h0M99.5 92.8h0M117.8 105.2h0M100.3 95.8h0M118.2 114.2h0M118.7 98.9h0M119.7 102.9h0M101.4 116.9h0M99.1 93.4h0M119.4 92.7h0M118.9 117.5h0M101.0 85.3h0M100.7 105.4h0M119.7 119.4h0M118.6 100.0h0M119.5 109.2h0M121.3 98.7h0M101.5 85.0h0M120.8 95.1h0M118.7 87.6h0M117.6 112.1h0M98.2 93.1h0M117.7 118.8h0M118.2 96.4h0M97.9 102.6h0M120.0 88.4h0M121.7 112.8h0M100.5 109.1h0M101.2 104.9h0M101.2 91.9h0M98.2 116.9h0M117.6 108.0h0M120.9 87.1h0M118.9 88.6h0M121.2 91.8h0M101.6 121.1h0M100.2 97.5h0M99.8 99.6h0M100.7 106.6h0M100.3 102.5h0M119.1 99.8h0M98.1 89.9h0M98.9 113.9h0M101.1 85.1h0M118.2 108.9h0M118.4 114.1h0M100.2 86.0h0M120.4 108.0h0M121.2 93.9h0M118.5 92.0h0M101.3 111.0h0M118.4 116.8h0M118.4 102.2h0M120.0 91.8h0M121.5 120.6h0M99.5 111.9h0M100.2 101.1h0M119.8 90.8h0M117.6 120.7h0M100.0 86.6h0M100.5 87.6h0M118.8 106.8h0M101.6 117.6h0M118.8 96.5h0M101.1 94.6h0M119.7 84.6h0M118.9 106.9h0M120.1 85.9h0M118.8 84.8h0M101.1 98.5h0M119.5 99.9h0M119.1 91.6h0M95.1 107.2h0M100.6 111.1h0M102.0 120.8h0M100.6 114.3h0M100.8 103.7h0M121.8 86.9h0M99.4 110.4h0M101.9 122.0h0M101.4 103.3h0M121.1 110.1h0M120.5 100.8h0M100.3 101.8h0M120.0 102.9h0M99.5 111.9h0M100.2 97.7h0M118.5 110.8h0M119.2 97.4h0M118.6 99.8h0M100.8 116.4h0M119.3 100.0h0M100.7 93.6h0M100.5 103.8h0M119.1 88.8h0M120.7 85.2h0M117.1 121.9h0M119.8 89.6h0M99.7 90.9h0M120.0 93.4h0M101.1 106.6h0M119.9 99.5h0M118.2 120.8h0M120.8 104.5h0M99.5 92.8h0M99.5 91.4h0M101.1 97.0h0M119.9 87.2h0M99.7 103.4h0M118.4 105.8h0M118.4 84.6h0M99.8 95.8h0M119.0 118.4h0M98.1 87.5h0M119.7 119.0h0M97.9 86.5h0M101.2 108.3h0M100.4 97.6h0M117.6 107.9h0M101.7 106.5h0M118.1 108.4h0M121.5 105.1h0M101.4 86.4h0M119.2 90.1h0M117.6 107.5h0M118.8 87.7h0M118.7 89.4h0M100.8 84.5h0M100.8 110.3h0M99.6 107.6h0M101.0 91.1h0M118.3 119.8h0M118.9 101.7h0M101.5 105.1h0M101.9 121.6h0M101.3 90.1h0M119.7 84.7h0M99.6 93.7h0M96.7 92.4h0M120.0 94.4h0M118.4 114.7h0M97.9 100.5h0M119.0 116.9h0M119.0 91.7h0M98.7 92.3h0M101.6 110.4h0M99.2 117.2h0M101.3 110.3h0M100.1 96.7h0M118.8 94.8h0M120.2 112.2h0M100.9 95.1h0M100.0 109.3h0M101.0 117.7h0M120.2 96.2h0M101.5 113.3h0M121.3 96.2h0M117.9 115.8h0M100.7 94.5h0M120.0 105.0h0M101.6 118.0h0M120.2 99.8h0M100.1 102.8h0M101.3 108.3h0M101.3 101.0h0M121.8 88.7h0M101.2 95.6h0M100.0 87.5h0M101.8 121.8h0M122.9 102.0h0M118.3 106.5h0M101.1 97.8h0M119.0 90.6h0M118.0 103.8h0M100.6 122.1h0M117.6 106.5h0M101.7 106.9h0M119.1 90.8h0M98.9 101.2h0M99.0 110.7h0M118.0 119.3h0M101.2 106.8h0M120.0 111.9h0M117.0 118.0h0M99.4 90.6h0M119.6 99.0h0M119.9 118.0h0M100.2 108.8h0M100.1 86.9h0M100.6 109.5h0M99.4 103.9h0M101.0 109.8h0M100.5 85.4h0M118.0 104.9h0M120.3 93.1h0M99.1 106.4h0M118.8 108.8h0M117.8 111.5h0M119.3 106.3h0M122.3 96.0h0M101.4 109.1h0M118.8 111.7h0M101.1 114.0h0M121.9 85.3h0M120.3 97.1h0M101.1 114.6h0M118.3 99.8h0M100.8 108.6h0M121.7 85.0h0M98.6 89.5h0M120.5 121.7h0M122.6 89.4h0M100.8 112.7h0M119.2 86.4h0M100.7 96.8h0M120.5 94.9h0M100.6 117.5h0M117.8 115.0h0M118.7 106.2h0M122.5 85.9h0M99.9 84.9h0M119.4 103.8h0M101.4 102.5h0M119.8 110.0h0M119.4 101.3h0M100.7 115.0h0M99.5 109.4h0M119.2 109.7h0M118.9 84.4h0M119.6 90.5h0M101.6 104.3h0M120.6 104.0h0M118.5 98.8h0M101.4 110.2h0M99.3 94.0h0M100.6 93.5h0M99.8 85.5h0M101.1 112.5h0M97.5 90.5h0M117.5 111.8h0M119.1 89.9h0M121.9 94.3h0M100.8 87.3h0M118.8 120.4h0M119.9 86.6h0M98.2 117.8h0M118.3 112.8h0M101.5 120.7h0M99.5 95.5h0M98.7 111.6h0M119.0 103.3h0M99.6 109.5h0M101.5 91.4h0M99.4 108.8h0M100.8 95.7h0M123.3 92.4h0M99.5 119.9h0M119.2 105.3h0M99.2 87.9h0M100.0 99.7h0M118.0 111.0h0M101.4 88.6h0M121.6 98.6h0M99.7 105.2h0M119.2 111.0h0M101.8 110.7h0M117.4 117.5h0M119.0 108.9h0M98.2 104.0h0M101.5 115.4h0M101.6 111.9h0M117.2 117.3h0M101.3 118.7h0M100.9 96.6h0M100.8 92.5h0M98.9 101.9h0M101.0 103.5h0M118.9 100.2h0M117.9 115.3h0M117.1 116.5h0M117.8 103.6h0M117.7 121.8h0M119.8 96.4h0M119.0 114.5h0M100.4 106.3h0M100.3 89.8h0M118.4 96.4h0M101.1 121.0h0M120.1 87.9h0M101.0 95.3h0M100.1 97.8h0M119.5 89.4h0M119.0 102.8h0M118.2 97.9h0M120.0 106.9h0M99.6 101.7h0M101.3 109.2h0M119.5 99.9h0M119.4 120.8h0M118.9 85.7h0M101.4 92.5h0M120.3 94.2h0M100.8 95.8h0M99.7 110.5h0M98.9 92.7h0M99.9 108.6h0M118.4 99.6h0M99.7 87.7h0M117.9 115.6h0M119.0 119.2h0M99.5 105.3h0M100.5 119.9h0M120.7 92.0h0M99.4 119.3h0M120.1 96.3h0M120.1 93.5h0M101.0 86.2h0M118.9 90.8h0M117.6 110.4h0M112.2 78.9h0M112.0 77.1h0M106.3 78.4h0M113.7 77.8h0M102.5 82.5h0M101.7 83.2h0M113.9 79.5h0M113.3 79.2h0M112.0 76.8h0M117.9 84.8h0M117.9 85.0h0M110.3 79.2h0M105.5 77.5h0M116.6 81.9h0M113.3 78.6h0M107.5 77.5h0M109.0 77.6h0M108.9 78.3h0M105.9 79.3h0M107.5 79.3h0M110.8 77.7h0M109.6 78.7h0M115.6 81.8h0M117.0 81.8h0M115.6 82.0h0M116.8 83.8h0M113.8 79.5h0M116.0 82.4h0M103.9 82.3h0M114.9 80.7h0M110.3 77.2h0M111.5 77.3h0M109.0 77.7h0M106.6 79.7h0M107.3 78.4h0M117.2 83.6h0M107.3 77.8h0M102.9 83.0h0M117.8 82.7h0M109.6 78.2h0M106.9 79.7h0M111.6 77.8h0M104.9 81.4h0M110.2 76.4h0M110.5 78.7h0M111.5 78.2h0M106.3 80.0h0M118.0 85.4h0M108.6 79.0h0M102.5 84.9h0M111.6 76.5h0M107.9 79.0h0M104.6 81.2h0M111.9 77.1h0M113.1 79.5h0M114.0 77.6h0M105.1 80.8h0M105.1 80.9h0M111.7 78.7h0M103.9 80.7h0M104.2 81.0h0M108.0 79.2h0M116.2 82.6h0M112.0 77.5h0M113.9 78.1h0M113.8 79.4h0M110.5 77.6h0M116.4 82.7h0M101.6 86.3h0M116.8 82.2h0M110.7 78.1h0M104.6 81.3h0M115.4 80.9h0M102.6 83.7h0M112.9 79.5h0M104.3 80.9h0M102.2 84.0h0M113.0 79.1h0M116.5 80.1h0M108.5 79.0h0M110.1 76.7h0M107.3 78.5h0M102.3 85.1h0M102.1 82.9h0M117.6 84.3h0M117.7 84.2h0M103.9 82.6h0M106.6 79.9h0M112.3 78.1h0M117.9 85.2h0M111.7 78.1h0M113.4 78.1h0M102.6 82.8h0M101.9 85.6h0M109.4 77.9h0M108.4 78.4h0M107.0 79.5h0M102.5 84.5h0M106.4 79.0h0M103.4 82.8h0M111.9 78.8h0M114.6 80.0h0M111.9 77.8h0M108.8 78.6h0M117.0 83.5h0M110.0 78.2h0M106.4 79.8h0M106.4 78.6h0M113.4 78.0h0M110.8 79.0h0M106.4 76.7h0M107.0 79.5h0M111.8 78.9h0M110.2 79.0h0M115.4 80.5h0M115.4 81.7h0M107.3 76.8h0M113.2 79.8h0M104.5 80.5h0M108.4 79.3h0M107.3 79.5h0M105.0 79.7h0M109.8 78.2h0M115.4 79.9h0M104.5 80.0h0M114.7 80.8h0M115.5 81.7h0M114.1 79.7h0M107.0 78.1h0M112.3 78.7h0M103.7 82.7h0M110.3 76.6h0M106.9 78.8h0M111.5 79.2h0M111.4 77.9h0M111.1 77.4h0M114.8 80.8h0M102.8 82.4h0M111.4 79.1h0M105.3 78.7h0M110.8 79.1h0M109.2 78.8h0M110.0 77.0h0M112.7 79.3h0M109.4 78.8h0M108.4 76.1h0M110.5 78.3h0M111.7 78.2h0M112.0 78.6h0M106.8 77.5h0M106.7 78.4h0M104.0 81.9h0M115.7 81.8h0M102.5 83.9h0M107.9 77.3h0M116.1 81.9h0M102.4 84.0h0M104.5 80.9h0M111.5 78.6h0M105.4 78.9h0M114.5 78.9h0M110.1 77.5h0M107.3 78.5h0M110.9 78.2h0M112.6 79.0h0M117.3 82.9h0M101.7 85.0h0M110.6 76.9h0M102.6 81.8h0M112.6 77.8h0M108.6 79.0h0M111.5 78.7h0M116.2 81.9h0M113.8 79.5h0M104.1 79.9h0M102.6 84.7h0M106.6 79.8h0M110.7 78.1h0M108.2 78.1h0M116.0 81.9h0M105.2 80.8h0M114.6 79.5h0M107.9 77.9h0M103.6 81.7h0M111.8 78.2h0M113.3 78.6h0M110.3 76.1h0M103.2 83.4h0M107.7 79.4h0M112.0 78.3h0M102.7 84.1h0M109.3 78.5h0M107.0 79.5h0M109.0 78.7h0M111.9 76.4h0M110.2 78.6h0M104.6 81.4h0M110.1 78.7h0M116.3 80.6h0M104.6 80.4h0M115.6 80.3h0M110.8 77.1h0M106.7 78.9h0M109.7 76.6h0M106.3 79.9h0M116.8 81.6h0M109.8 78.1h0M105.8 80.0h0M108.4 79.3h0M106.5 78.7h0M114.2 80.5h0M102.9 84.1h0M118.1 84.5h0M118.1 85.6h0M105.2 80.8h0M108.7 77.2h0M103.3 82.2h0M110.5 78.0h0M103.7 82.7h0M104.8 80.6h0M107.3 79.3h0M113.6 79.3h0M113.7 76.4h0M109.5 77.7h0M102.1 83.6h0M109.0 79.2h0M115.4 81.8h0M117.8 84.0h0M102.3 82.5h0M112.5 79.4h0M109.6 77.0h0M118.0 84.7h0M102.8 83.5h0M115.3 79.9h0M114.3 79.7h0M102.2 84.4h0M106.7 79.9h0M112.3 77.4h0M112.8 79.5h0M101.9 85.6h0M113.4 79.1h0M103.8 80.4h0M112.7 78.7h0M106.5 77.4h0M108.4 78.6h0M104.2 82.2h0M114.1 79.7h0M113.3 78.5h0M116.3 81.3h0M106.4 79.5h0M111.9 78.6h0M106.1 79.0h0M114.5 80.5h0M110.1 79.0h0M110.5 77.8h0M109.0 79.2h0M106.7 79.4h0M115.2 81.5h0M107.5 78.8h0M112.3 77.2h0M98.3 79.6h0M93.0 78.1h0M99.1 76.6h0M95.9 82.7h0M93.1 80.3h0M98.2 101.0h0M95.7 104.5h0M94.3 95.7h0M98.3 87.2h0M97.1 77.8h0M96.7 91.7h0M99.1 78.4h0M100.2 88.8h0M98.4 87.8h0M97.4 113.4h0M97.0 92.5h0M94.5 89.5h0M97.2 83.0h0M96.3 88.9h0M96.8 81.2h0M93.1 111.5h0M99.7 78.8h0M95.1 77.3h0M97.5 94.4h0M93.0 89.6h0M99.2 88.9h0M99.8 93.0h0M98.2 82.5h0M99.9 79.9h0M96.5 88.2h0M93.7 95.2h0M98.3 97.5h0M94.4 85.5h0M95.9 79.7h0M100.4 102.8h0M100.3 77.1h0M93.5 95.6h0M98.5 90.8h0M94.2 79.5h0M92.9 102.1h0M95.7 106.3h0M94.6 104.5h0M94.5 87.6h0M101.3 95.0h0M100.4 78.9h0M96.1 82.8h0M101.2 78.0h0M100.4 78.1h0M93.8 94.9h0M99.9 83.1h0M95.7 89.1h0M93.7 85.1h0M99.2 82.6h0M97.3 86.3h0M99.1 96.1h0M99.7 90.1h0M98.3 86.4h0M93.0 86.1h0M100.1 83.5h0M100.3 76.6h0M99.5 79.6h0M94.1 97.0h0M100.9 85.2h0M100.6 96.1h0M101.5 96.7h0M93.2 94.4h0M97.1 85.9h0M93.3 109.6h0M99.1 76.9h0M98.2 76.4h0M99.4 94.7h0M95.8 97.5h0M101.3 76.9h0M96.6 94.6h0M97.5 88.7h0M95.2 110.3h0M99.3 102.4h0M98.9 89.1h0M93.7 93.8h0M98.4 92.2h0M99.2 82.2h0M94.3 96.3h0M100.4 80.8h0M100.1 85.9h0M96.0 77.6h0M95.4 92.5h0M98.4 86.0h0M96.4 83.8h0M94.0 106.2h0M93.7 88.1h0M101.3 88.8h0M98.6 86.7h0M94.8 98.8h0M97.1 83.8h0M97.6 103.6h0M92.4 94.6h0M101.6 96.1h0M92.9 96.9h0M98.0 79.7h0M99.0 78.9h0M97.6 97.0h0M96.9 107.9h0M95.7 81.8h0M96.9 110.2h0M98.1 86.6h0M99.1 87.8h0M95.1 90.5h0M94.3 92.0h0M94.5 92.5h0M98.4 97.6h0M100.4 88.4h0M101.3 76.9h0M93.7 82.2h0M93.5 93.8h0M93.6 84.0h0M98.5 91.7h0M97.1 108.7h0M101.2 88.3h0M92.6 101.2h0M101.2 118.8h0M92.8 80.5h0M95.3 86.0h0M100.1 79.7h0M95.2 93.6h0M96.0 88.0h0M94.1 89.4h0M93.7 79.9h0M95.8 92.2h0M92.7 84.9h0M101.6 78.4h0M96.2 103.9h0M101.4 94.7h0M94.0 87.9h0M96.7 108.1h0M96.2 110.4h0M92.9 80.9h0M95.8 101.1h0M98.2 104.9h0M99.9 109.5h0M99.4 101.2h0M100.5 103.8h0M95.0 76.5h0M97.7 82.7h0M98.7 81.4h0M94.1 76.7h0M100.4 91.3h0M98.1 81.9h0M93.3 92.8h0M97.9 76.7h0M99.4 77.1h0M99.3 91.9h0M94.8 105.4h0M100.8 87.1h0M94.7 90.8h0M94.3 78.1h0M92.8 81.1h0M92.4 80.8h0M96.1 92.5h0M93.9 81.5h0M97.4 79.3h0M100.4 95.5h0M92.5 98.7h0M100.4 97.7h0M99.8 88.3h0M97.2 94.0h0M92.9 102.1h0M95.7 82.2h0M96.8 90.1h0M96.8 80.4h0M99.6 86.0h0M119.5 110.6h0M120.0 96.8h0M121.7 113.8h0M119.6 114.8h0M119.9 113.2h0M120.0 85.3h0M119.5 82.9h0M123.0 100.6h0M123.1 117.9h0M118.6 109.8h0M118.5 116.3h0M121.0 97.7h0M119.9 104.5h0M119.9 118.6h0M126.6 120.7h0M122.6 115.3h0M122.5 95.1h0M121.1 80.4h0M120.7 92.2h0M121.4 86.0h0M121.8 95.4h0M120.7 96.5h0M124.3 115.7h0M118.5 97.2h0M122.3 102.3h0M123.5 115.8h0M119.9 82.9h0M119.9 118.3h0M118.9 107.9h0M120.0 118.4h0M121.4 88.4h0M121.1 87.8h0M119.0 100.3h0M124.0 110.6h0M122.3 116.1h0M69.2 53.1h0M65.1 64.6h0M65.4 66.5h0M74.2 70.8h0M77.7 66.9h0M78.5 65.7h0M81.2 64.3h0M83.1 70.0h0M90.3 70.0h0M95.1 62.8h0M101.2 70.3h0M110.5 70.3h0M111.1 68.2h0M113.5 62.8h0M114.9 60.3h0M114.6 56.9h0M115.1 67.7h0M120.0 70.0h0M76.5 73.1h0M113.9 61.6h0M114.8 58.5h0" stroke="#000" stroke-width="0.95" stroke-linecap="round" fill="none" opacity="0.9"/>
<path d="M51.4 11.2H158.8" stroke="#444" stroke-width="0.75" fill="none"/>
<path d="M158.8 11.2V122.8" stroke="#1a1a1a" stroke-width="0.85" fill="none"/>
<path d="M51.4 11.2V122.8H158.8" stroke="#111" stroke-width="0.9" fill="none"/>
<path d="M51.4 74.3L158.8 74.3" stroke="#000" stroke-width="0.95" fill="none"/>
<path d="M93.3 35.2L93.3 122.8" stroke="#000" stroke-width="0.95" fill="none"/>
<path d="M93.3 11.2L93.3 12.4" stroke="#333" stroke-width="0.8" fill="none"/>
<path d="M51.4 120.78h-2.6M55.28 122.8v3M51.4 117.32h-2.6M57.91 122.8v3M51.4 114.64h-2.6M60.07 122.8v3M51.4 112.45h-2.6M61.89 122.8v3M51.4 110.59h-2.6M63.46 122.8v3M51.4 108.98h-2.6M64.86 122.8v3M51.4 107.57h-2.6M66.1 122.8v4.7M51.4 106.3h-4.7M74.29 122.8v3M51.4 97.96h-2.6M79.08 122.8v3M51.4 93.08h-2.6M82.48 122.8v3M51.4 89.62h-2.6M85.11 122.8v3M51.4 86.94h-2.6M87.27 122.8v3M51.4 84.75h-2.6M89.09 122.8v3M51.4 82.89h-2.6M90.66 122.8v3M51.4 81.28h-2.6M92.06 122.8v3M51.4 79.87h-2.6M93.3 122.8v4.7M51.4 78.6h-4.7M101.49 122.8v3M51.4 70.26h-2.6M106.28 122.8v3M51.4 65.38h-2.6M109.68 122.8v3M51.4 61.92h-2.6M112.31 122.8v3M51.4 59.24h-2.6M114.47 122.8v3M51.4 57.05h-2.6M116.29 122.8v3M51.4 55.19h-2.6M117.86 122.8v3M51.4 53.58h-2.6M119.26 122.8v3M51.4 52.17h-2.6M120.5 122.8v4.7M51.4 50.9h-4.7M128.69 122.8v3M51.4 42.56h-2.6M133.48 122.8v3M51.4 37.68h-2.6M136.88 122.8v3M51.4 34.22h-2.6M139.51 122.8v3M51.4 31.54h-2.6M141.67 122.8v3M51.4 29.35h-2.6M143.49 122.8v3M51.4 27.49h-2.6M145.06 122.8v3M51.4 25.88h-2.6M146.46 122.8v3M51.4 24.47h-2.6M147.7 122.8v4.7M51.4 23.2h-4.7M155.89 122.8v3M51.4 14.86h-2.6" stroke="#000" stroke-width="0.95" fill="none"/>
<text x="64.9" y="136.2" font-size="6" text-anchor="middle" font-weight="normal" stroke="#111" stroke-width="0.25">10</text>
<text x="67.9" y="132" font-size="5.2" text-anchor="start" font-weight="normal" stroke="#111" stroke-width="0.1">2</text>
<g transform="translate(45.1 106.9) rotate(-90)" stroke="#111" stroke-width="0.25">
<text x="0" y="0" font-size="6" text-anchor="middle" font-weight="normal">10</text>
<text x="3.1" y="-3.6" font-size="5.2" text-anchor="start" font-weight="normal" stroke-width="0.1">2</text>
</g>
<text x="92.1" y="136.2" font-size="6" text-anchor="middle" font-weight="normal" stroke="#111" stroke-width="0.25">10</text>
<text x="95.1" y="132" font-size="5.2" text-anchor="start" font-weight="normal" stroke="#111" stroke-width="0.1">3</text>
<g transform="translate(45.1 79.2) rotate(-90)" stroke="#111" stroke-width="0.25">
<text x="0" y="0" font-size="6" text-anchor="middle" font-weight="normal">10</text>
<text x="3.1" y="-3.6" font-size="5.2" text-anchor="start" font-weight="normal" stroke-width="0.1">3</text>
</g>
<text x="119.3" y="136.2" font-size="6" text-anchor="middle" font-weight="normal" stroke="#111" stroke-width="0.25">10</text>
<text x="122.3" y="132" font-size="5.2" text-anchor="start" font-weight="normal" stroke="#111" stroke-width="0.1">4</text>
<g transform="translate(45.1 51.5) rotate(-90)" stroke="#111" stroke-width="0.25">
<text x="0" y="0" font-size="6" text-anchor="middle" font-weight="normal">10</text>
<text x="3.1" y="-3.6" font-size="5.2" text-anchor="start" font-weight="normal" stroke-width="0.1">4</text>
</g>
<text x="146.5" y="136.2" font-size="6" text-anchor="middle" font-weight="normal" stroke="#111" stroke-width="0.25">10</text>
<text x="149.5" y="132" font-size="5.2" text-anchor="start" font-weight="normal" stroke="#111" stroke-width="0.1">5</text>
<g transform="translate(45.1 23.8) rotate(-90)" stroke="#111" stroke-width="0.25">
<text x="0" y="0" font-size="6" text-anchor="middle" font-weight="normal">10</text>
<text x="3.1" y="-3.6" font-size="5.2" text-anchor="start" font-weight="normal" stroke-width="0.1">5</text>
</g>
<text x="56.6" y="30.3" font-size="20.5" text-anchor="start" font-weight="bold" stroke="#000" stroke-width="0.25" fill="#000">i</text>
<text x="148.8" y="25.8" font-size="9.8" text-anchor="end" font-weight="normal">0.01%</text>
<text x="111.2" y="8.3" font-size="9.4" text-anchor="middle" font-weight="normal">unstimulated</text>
<path d="M257 76.5h1M257 77.5h1M259 77.5h1M252 78.5h2M255 78.5h5M262 78.5h2M254 79.5h9M250 80.5h1M252 80.5h14M251 81.5h14M266 81.5h1M249 82.5h18M248 83.5h18M249 84.5h19M247 85.5h20M247 86.5h21M247 87.5h22M247 88.5h22M247 89.5h21M247 90.5h21M246 91.5h23M247 92.5h22M247 93.5h22M247 94.5h20M268 94.5h2M248 95.5h21M248 96.5h20M248 97.5h20M247 98.5h21M248 99.5h21M248 100.5h20M247 101.5h21M248 102.5h20M248 103.5h20M247 104.5h21M249 105.5h19M248 106.5h20M249 107.5h19M247 108.5h1M249 108.5h20M249 109.5h20M248 110.5h20M249 111.5h19M249 112.5h18M248 113.5h20M249 114.5h19M249 115.5h20M249 116.5h19M250 117.5h19M249 118.5h18M249 119.5h19M250 120.5h18M250 121.5h17M268 121.5h1" stroke="#050505" stroke-width="1" fill="none" shape-rendering="crispEdges"/>
<path d="M224.6 100.7h0M211.6 101.8h0M235.8 89.8h0M223.2 96.4h0M220.8 89.7h0M216.0 97.7h0M234.2 84.0h0M215.0 97.5h0M231.5 82.0h0M220.2 112.9h0M225.8 81.3h0M223.3 95.9h0M231.1 106.5h0M232.6 93.6h0M215.4 100.4h0M235.5 85.3h0M232.6 103.5h0M235.6 106.7h0M239.9 106.0h0M211.4 92.1h0M243.2 108.3h0M210.3 98.9h0M219.4 96.1h0M228.7 89.6h0M235.4 102.4h0M231.5 100.1h0M228.9 90.6h0M230.8 88.3h0M215.2 95.7h0M225.7 82.4h0M201.8 103.3h0M223.3 105.4h0M224.6 92.2h0M217.1 121.8h0M224.2 99.7h0M226.5 109.3h0M223.1 102.7h0M224.8 105.7h0M215.2 89.1h0M231.2 108.4h0M219.4 91.8h0M215.0 82.2h0M245.5 94.6h0M220.1 109.4h0M220.9 103.2h0M207.2 98.9h0M229.3 86.2h0M215.5 106.3h0M218.9 99.0h0M232.6 88.7h0M230.6 101.8h0M218.5 90.9h0M230.8 86.9h0M229.6 97.2h0M224.2 98.4h0M216.6 85.4h0M230.1 111.7h0M210.9 90.2h0M229.3 99.6h0M225.6 90.6h0M213.8 89.7h0M215.5 92.3h0M206.1 93.6h0M226.4 98.2h0M222.5 84.1h0M230.2 100.7h0M228.9 101.8h0M234.5 93.2h0M232.7 101.0h0M225.6 100.1h0M212.4 104.0h0M222.9 97.4h0M230.7 91.9h0M230.6 89.8h0M236.5 93.6h0M223.9 94.5h0M214.3 101.9h0M220.3 89.2h0M228.1 90.6h0M234.8 92.0h0M235.1 108.8h0M232.9 120.7h0M213.6 87.1h0M221.5 83.9h0M230.7 82.3h0M228.6 96.0h0M233.7 97.8h0M213.8 98.0h0M231.4 93.3h0M220.8 99.6h0M226.2 120.8h0M222.2 96.0h0M233.8 101.7h0M223.4 91.9h0M225.7 97.4h0M232.1 98.1h0M217.1 118.4h0M239.7 88.1h0M219.4 93.3h0M231.2 88.3h0M227.5 98.9h0M221.5 96.5h0M226.5 85.9h0M228.5 97.5h0M221.1 97.5h0M246.4 95.9h0M215.9 92.4h0M225.5 102.3h0M236.2 96.9h0M230.3 96.9h0M235.8 96.7h0M210.9 90.7h0M223.3 94.3h0M225.9 95.8h0M237.5 89.9h0M217.7 101.8h0M225.0 85.2h0M243.4 101.4h0M229.1 90.6h0M229.6 88.6h0M224.9 95.1h0M236.8 93.3h0M207.7 102.4h0M217.8 87.4h0M220.1 86.5h0M226.7 96.8h0M225.5 110.8h0M205.3 85.6h0M226.6 106.0h0M217.4 115.1h0M222.9 106.9h0M235.6 95.2h0M220.2 91.7h0M223.2 92.8h0M217.4 92.8h0M233.6 87.2h0M238.1 95.3h0M213.5 90.4h0M230.4 112.8h0M232.9 108.1h0M238.7 95.3h0M221.0 95.2h0M240.6 104.4h0M215.2 119.5h0M228.9 110.7h0M222.4 102.6h0M224.2 111.7h0M237.4 81.7h0M232.1 82.0h0M226.3 88.9h0M220.0 96.5h0M238.3 94.3h0M229.5 97.8h0M222.9 99.1h0M239.6 93.1h0M241.0 92.5h0M213.0 104.1h0M223.5 95.4h0M238.5 93.4h0M219.9 93.1h0M243.3 88.9h0M225.9 86.4h0M231.2 108.9h0M228.8 84.5h0M216.7 97.4h0M225.6 95.5h0M220.5 94.3h0M223.1 99.7h0M237.5 119.8h0M233.5 111.8h0M224.9 93.6h0M229.8 81.8h0M241.6 98.2h0M226.8 94.6h0M223.2 88.1h0M234.1 102.8h0M221.7 93.1h0M215.3 91.8h0M245.0 111.8h0M216.4 104.9h0M228.5 93.9h0M231.2 109.6h0M224.0 98.4h0M245.2 91.8h0M245.6 91.1h0M231.1 92.6h0M212.3 93.2h0M230.8 87.8h0M210.3 91.8h0M232.5 83.4h0M235.2 82.9h0M230.1 98.7h0M239.2 101.2h0M228.8 94.4h0M218.1 85.2h0M222.5 92.8h0M237.4 82.8h0M205.4 83.8h0M228.8 89.0h0M213.7 98.8h0M211.0 100.7h0M203.2 90.8h0M234.3 86.0h0M233.5 99.7h0M217.6 102.9h0M222.9 91.4h0M211.1 103.2h0M222.3 104.6h0M232.3 94.1h0M227.0 94.4h0M223.6 87.3h0M218.4 81.8h0M235.4 92.9h0M242.4 95.0h0M239.2 89.0h0M212.5 89.4h0M227.4 101.6h0M217.6 92.3h0M222.5 115.5h0M230.0 97.9h0M229.3 91.3h0M226.4 91.1h0M221.3 89.0h0M232.2 85.6h0M210.3 105.8h0M233.4 102.1h0M235.1 89.6h0M217.2 96.6h0M242.2 96.6h0M218.9 95.7h0M234.4 87.0h0M221.8 95.2h0M219.7 100.7h0M234.8 92.9h0M229.9 105.3h0M213.8 100.7h0M211.5 82.2h0M228.6 97.3h0M212.3 93.3h0M213.8 91.8h0M223.9 83.1h0M221.6 101.8h0M230.2 86.4h0M246.1 101.4h0M214.0 99.9h0M241.1 105.1h0M212.8 90.8h0M227.0 104.4h0M237.0 87.3h0M209.9 98.2h0M243.3 94.7h0M225.6 96.2h0M228.1 102.4h0M232.0 87.7h0M245.3 95.8h0M230.7 95.2h0M220.7 88.5h0M218.8 95.7h0M204.7 102.8h0M210.9 87.7h0M236.9 94.8h0M209.2 104.4h0M213.9 98.4h0M220.4 105.0h0M219.1 84.0h0M217.2 87.8h0M215.9 95.8h0M220.0 104.9h0M240.3 90.7h0M233.1 103.9h0M227.4 87.5h0M219.1 108.4h0M227.4 86.6h0M228.9 108.8h0M217.6 90.6h0M214.8 92.0h0M228.6 87.6h0M218.8 93.5h0M218.4 114.5h0M225.6 99.8h0M225.1 93.0h0M216.0 91.1h0M241.7 102.1h0M228.8 83.6h0M224.0 100.1h0M233.0 99.7h0M239.5 92.8h0M226.0 97.2h0M213.6 99.8h0M225.0 95.4h0M227.0 102.3h0M239.6 91.2h0M230.8 98.1h0M223.0 95.5h0M234.0 88.4h0M219.6 86.4h0M235.4 104.7h0M210.4 75.5h0M224.2 101.5h0M234.3 103.5h0M223.5 103.1h0M212.1 109.3h0M223.7 100.5h0M226.2 103.0h0M228.1 96.1h0M227.0 100.5h0M229.8 111.3h0M220.3 99.4h0M209.1 87.1h0M221.4 84.1h0M212.2 102.7h0M223.9 83.9h0M222.9 89.5h0M226.3 88.5h0M220.5 114.8h0M231.9 92.9h0M231.5 91.7h0M232.6 102.1h0M229.6 97.0h0M233.3 77.7h0M235.1 90.6h0M204.4 95.3h0M219.8 100.0h0M241.6 92.8h0M204.8 110.2h0M220.3 107.1h0M240.5 91.3h0M230.0 95.4h0M223.5 88.7h0M226.3 93.9h0M209.8 97.5h0M245.6 82.5h0M233.3 88.7h0M217.4 85.5h0M220.6 84.6h0M231.7 97.5h0M219.6 92.4h0M218.1 99.4h0M234.6 93.0h0M225.1 96.1h0M230.3 114.3h0M235.5 103.6h0M218.5 86.1h0M241.7 87.6h0M235.6 97.9h0M216.4 101.7h0M214.0 88.7h0M227.7 83.2h0M229.7 92.7h0M219.5 107.1h0M224.0 97.9h0M224.4 90.8h0M223.2 93.5h0M230.2 88.3h0M241.5 100.1h0M245.0 81.5h0M218.9 91.8h0M226.2 99.5h0M221.0 91.2h0M226.1 101.4h0M222.8 102.5h0M239.9 109.5h0M236.0 94.2h0M221.1 85.3h0M239.8 82.9h0M220.1 94.0h0M228.1 78.8h0M232.4 104.1h0M223.3 86.2h0M219.5 86.0h0M230.0 89.3h0M234.6 96.5h0M225.4 89.5h0M244.0 96.6h0M233.7 90.9h0M221.6 99.0h0M233.9 106.6h0M223.9 87.5h0M231.3 94.4h0M233.3 80.4h0M231.9 93.5h0M242.1 108.7h0M228.8 102.8h0M231.7 111.5h0M224.1 96.7h0M212.4 86.2h0M221.3 103.9h0M227.9 113.3h0M201.8 94.8h0M229.7 88.5h0M230.4 83.3h0M237.3 97.2h0M230.2 107.0h0M237.2 84.8h0M226.4 91.3h0M222.2 89.2h0M231.6 101.9h0M216.3 92.1h0M239.2 106.8h0M215.1 87.8h0M240.2 93.7h0M220.7 94.8h0M221.5 92.6h0M215.8 96.1h0M224.0 94.8h0M227.1 101.2h0M211.6 93.3h0M209.0 94.7h0M225.6 90.2h0M211.5 102.8h0M231.8 100.6h0M237.0 80.6h0M220.6 101.9h0M225.4 85.3h0M215.3 92.0h0M243.6 101.8h0M230.1 98.9h0M220.6 93.4h0M225.1 108.9h0M239.1 93.8h0M241.2 99.5h0M225.4 109.1h0M215.4 92.2h0M220.4 101.8h0M232.3 87.3h0M226.0 91.3h0M229.0 97.5h0M229.1 91.7h0M240.9 93.1h0M222.4 93.5h0M224.4 89.6h0M205.3 100.0h0M224.1 109.5h0M208.6 91.3h0M218.1 78.4h0M226.3 90.0h0M219.6 90.0h0M224.3 101.3h0M203.8 98.7h0M221.5 84.0h0M227.2 97.2h0M225.6 82.3h0M229.5 100.1h0M218.7 107.2h0M232.0 85.2h0M220.1 99.3h0M222.9 91.0h0M235.1 89.6h0M239.4 96.4h0M233.7 98.6h0M214.9 90.9h0M222.5 89.6h0M221.0 91.0h0M226.5 99.8h0M241.1 113.5h0M236.8 102.9h0M214.1 75.6h0M229.0 96.4h0M228.2 76.5h0M219.4 105.4h0M222.0 100.3h0M237.0 104.2h0M224.3 104.8h0M224.3 97.2h0M221.4 94.7h0M226.9 93.7h0M234.7 101.4h0M245.6 89.3h0M216.5 101.2h0M225.9 93.4h0M220.9 91.9h0M228.8 100.5h0M228.7 84.2h0M232.3 93.6h0M232.1 107.6h0M229.8 102.7h0M235.8 100.0h0M223.9 90.3h0M221.9 99.2h0M225.4 93.0h0M223.1 82.0h0M229.6 86.2h0M236.1 112.8h0M224.9 96.4h0M209.4 95.7h0M209.9 103.2h0M230.0 103.6h0M231.7 96.6h0M231.0 95.3h0M233.4 115.0h0M225.7 98.0h0M223.8 97.7h0M236.7 89.2h0M218.9 107.4h0M215.8 118.1h0M237.4 91.1h0M216.8 97.8h0M232.5 112.8h0M220.8 95.7h0M223.0 85.8h0M217.2 79.7h0M230.7 101.6h0M225.3 94.1h0M224.4 103.8h0M221.6 88.0h0M220.3 104.3h0M236.4 95.6h0M233.8 82.6h0M235.2 100.2h0M214.7 97.2h0M229.9 85.4h0M209.7 100.5h0M240.8 90.8h0M243.1 87.6h0M239.3 90.0h0M230.5 89.6h0M231.3 96.7h0M224.3 91.6h0M217.9 88.9h0M234.3 91.2h0M235.8 97.1h0M221.6 98.3h0M212.2 89.9h0M220.3 95.0h0M221.5 88.1h0M218.8 78.9h0M207.5 94.9h0M210.9 108.2h0M225.4 95.2h0M243.1 95.3h0M211.1 85.1h0M226.6 89.9h0M221.9 103.1h0M228.2 88.2h0M225.7 91.7h0M235.8 88.7h0M225.5 113.4h0M218.5 108.4h0M227.0 105.5h0M226.1 112.0h0M233.2 101.1h0M230.6 98.6h0M230.8 100.5h0M225.3 102.8h0M223.4 107.0h0M222.5 82.4h0M227.0 78.3h0M236.8 102.6h0M239.6 93.5h0M219.3 98.8h0M223.3 100.1h0M242.9 95.2h0M217.0 89.6h0M226.2 88.1h0M202.8 88.7h0M228.8 120.9h0M216.4 95.6h0M225.3 86.3h0M234.3 103.6h0M212.2 100.7h0M203.0 107.8h0M229.3 93.0h0M219.2 102.3h0M230.4 87.6h0M239.7 103.2h0M215.8 91.7h0M212.7 97.6h0M216.9 90.2h0M208.5 90.3h0M217.4 95.6h0M235.7 92.9h0M217.3 85.8h0M210.7 111.2h0M229.1 96.1h0M230.4 87.7h0M204.9 81.2h0M226.1 95.9h0M220.3 100.0h0M229.1 79.8h0M217.6 91.1h0M221.0 97.2h0M214.4 90.1h0M246.8 91.2h0M230.9 102.6h0M232.8 81.2h0M232.8 77.7h0M227.0 86.4h0M238.6 88.8h0M231.3 102.6h0M234.7 86.5h0M241.7 94.2h0M213.2 88.7h0M220.8 90.5h0M221.8 104.6h0M211.8 87.7h0M220.9 103.3h0M221.3 94.1h0M215.1 103.2h0M233.8 88.9h0M220.4 80.8h0M227.1 111.5h0M211.2 120.2h0M223.8 112.3h0M218.5 98.0h0M218.6 98.9h0M236.0 99.5h0M229.8 98.5h0M215.9 116.5h0M216.9 103.4h0M233.4 112.0h0M218.5 99.7h0M223.9 108.5h0M239.4 91.3h0M238.1 91.6h0M226.3 90.0h0M225.7 105.6h0M228.4 111.5h0M224.2 94.6h0M226.4 99.0h0M238.0 90.6h0M230.0 90.8h0M228.5 83.2h0M224.5 107.4h0M235.2 88.7h0M221.7 86.6h0M230.8 92.2h0M215.6 91.2h0M222.9 92.0h0M229.0 89.0h0M220.1 106.6h0M228.4 95.3h0M226.8 97.3h0M221.4 94.0h0M232.1 87.4h0M228.3 94.7h0M221.8 91.5h0M227.4 98.3h0M234.1 96.1h0M216.2 88.4h0M214.0 98.4h0M234.1 90.0h0M216.1 101.2h0M219.8 87.8h0M203.9 92.2h0M222.3 92.0h0M227.0 87.5h0M211.1 93.9h0M228.2 89.7h0M212.4 90.8h0M220.7 109.0h0M235.7 98.4h0M239.8 85.9h0M223.3 97.4h0M236.9 88.7h0M218.5 83.2h0M233.6 86.7h0M209.5 103.2h0M229.1 80.3h0M222.2 87.2h0M214.9 86.4h0M222.7 89.6h0M221.4 102.5h0M223.2 93.7h0M231.0 103.9h0M217.2 89.7h0M217.5 103.4h0M224.2 92.5h0M219.4 101.2h0M224.0 92.4h0M212.8 105.6h0M232.0 110.2h0M215.1 89.5h0M233.1 90.7h0M232.6 100.7h0M217.8 97.6h0M230.9 83.5h0M237.7 92.0h0M222.3 99.9h0M228.8 110.3h0M216.1 89.8h0M235.0 87.1h0M226.8 98.2h0M239.8 93.4h0M234.0 90.0h0M224.9 92.4h0M216.6 88.4h0M233.5 99.6h0M235.9 78.4h0M222.1 92.8h0M234.2 98.6h0M229.3 96.3h0M218.1 91.1h0M224.4 84.2h0M234.3 108.4h0M216.2 107.0h0M223.9 97.2h0M224.0 91.5h0M218.2 101.3h0M215.9 100.5h0M228.9 78.9h0M235.0 107.2h0M222.6 95.0h0M214.0 82.0h0M225.1 102.1h0M221.6 81.6h0M227.0 96.9h0M214.2 105.1h0M231.8 105.9h0M219.4 97.6h0M234.4 87.7h0M223.4 102.0h0M219.3 101.9h0M221.8 107.5h0M229.0 82.9h0M228.8 93.9h0M233.2 95.0h0M211.9 90.8h0M217.8 90.7h0M222.2 94.1h0M204.4 84.3h0M220.5 92.7h0M228.8 97.5h0M218.2 79.4h0M224.2 94.8h0M219.1 90.3h0M224.1 96.8h0M214.8 105.9h0M234.3 90.0h0M232.8 84.8h0M227.2 106.0h0M242.1 94.8h0M229.6 79.4h0M223.9 99.8h0M206.1 97.1h0M215.5 83.3h0M231.4 94.2h0M239.9 98.8h0M220.4 83.8h0M233.3 95.8h0M218.6 92.5h0M222.6 97.1h0M219.3 103.6h0M221.7 93.3h0M220.7 91.6h0M228.1 102.3h0M214.1 97.9h0M240.7 111.2h0M231.8 90.9h0M207.5 84.1h0M211.2 107.5h0M246.4 94.5h0M215.5 91.6h0M230.8 96.1h0M215.9 109.2h0M241.6 84.9h0M229.7 84.5h0M221.9 101.2h0M222.4 89.9h0M216.6 95.2h0M205.4 91.7h0M230.8 82.4h0M244.0 102.5h0M222.9 96.3h0M230.1 106.0h0M234.3 92.5h0M211.9 82.6h0M221.1 97.9h0M210.7 105.4h0M231.8 95.2h0M215.8 84.1h0M239.8 91.5h0M234.7 104.7h0M217.1 105.8h0M230.1 86.0h0M227.8 89.4h0M224.2 93.7h0M226.7 94.8h0M237.1 94.2h0M219.7 108.4h0M218.1 96.2h0M231.8 89.7h0M216.4 101.3h0M241.4 107.9h0M236.9 84.7h0M226.3 98.9h0M239.6 103.9h0M241.3 84.9h0M222.6 96.8h0M208.6 95.4h0M211.5 99.8h0M219.8 112.8h0M234.3 89.6h0M232.7 89.3h0M226.3 101.6h0M246.2 97.5h0M225.0 95.6h0M233.7 77.6h0M216.2 96.4h0M220.8 95.5h0M227.5 93.6h0M236.7 90.1h0M204.8 91.2h0M239.4 91.0h0M216.4 106.3h0M236.6 99.3h0M224.9 101.6h0M213.4 98.0h0M218.3 101.0h0M246.3 89.7h0M225.1 107.6h0M222.0 100.5h0M212.2 105.2h0M216.0 95.9h0M238.6 99.2h0M241.1 101.4h0M245.5 96.0h0M231.2 88.1h0M222.1 98.1h0M215.5 108.1h0M239.9 101.5h0M221.6 88.1h0M213.0 99.6h0M222.7 104.0h0M224.9 99.5h0M236.7 90.9h0M224.3 85.4h0M239.0 105.7h0M234.0 99.1h0M227.7 121.5h0M203.5 101.1h0M204.7 102.6h0M226.3 90.9h0M232.4 101.3h0M242.4 111.3h0M209.3 98.2h0M232.5 94.5h0M231.6 81.9h0M235.5 96.1h0M224.1 100.9h0M225.5 103.6h0M229.5 86.3h0M236.8 91.2h0M217.6 93.3h0M220.7 79.1h0M217.6 84.1h0M226.0 90.5h0M239.1 100.7h0M226.7 100.2h0M215.5 94.5h0M222.9 100.3h0M221.6 81.5h0M218.9 95.1h0M223.7 96.2h0M205.3 94.9h0M226.5 102.7h0M227.7 92.2h0M213.2 80.7h0M221.6 92.5h0M221.5 91.5h0M224.0 84.2h0M208.8 98.6h0M212.7 103.4h0M233.0 102.7h0M231.0 98.6h0M232.0 97.2h0M231.5 82.8h0M214.6 86.9h0M230.9 102.2h0M221.2 80.4h0M233.5 89.6h0M222.1 106.5h0M230.3 84.9h0M216.8 96.7h0M238.1 104.4h0M223.7 85.7h0M227.6 77.6h0M216.1 84.8h0M238.0 97.7h0M233.6 91.5h0M239.7 106.4h0M215.8 106.7h0M230.3 86.0h0M223.9 99.9h0M221.6 95.7h0M228.5 99.1h0M220.4 90.8h0M236.4 88.4h0M212.9 92.5h0M215.8 103.3h0M216.3 95.7h0M230.9 98.7h0M214.5 99.7h0M207.5 97.7h0M226.5 92.6h0M235.0 83.6h0M216.8 96.0h0M226.4 100.7h0M218.8 97.4h0M225.8 91.2h0M227.8 106.2h0M205.0 90.0h0M240.0 102.6h0M222.0 106.2h0M232.9 102.8h0M231.9 103.2h0M213.2 98.7h0M238.9 92.1h0M219.6 83.5h0M214.4 98.9h0M228.6 100.1h0M245.3 83.8h0M238.8 113.8h0M220.1 101.1h0M224.8 99.3h0M218.8 97.3h0M214.7 103.1h0M218.0 100.9h0M213.1 88.3h0M238.6 96.2h0M225.7 102.0h0M213.6 94.3h0M225.6 108.2h0M238.4 102.7h0M220.3 101.7h0M235.1 101.3h0M211.8 105.6h0M225.0 92.7h0M211.7 86.7h0M239.0 90.3h0M222.2 87.0h0M235.0 76.5h0M224.0 99.8h0M209.5 104.0h0M241.9 95.4h0M224.5 85.6h0M209.7 88.4h0M237.3 107.1h0M226.4 92.3h0M236.9 101.0h0M228.3 106.4h0M208.7 100.5h0M208.6 97.2h0M223.1 94.8h0M209.5 89.8h0M226.0 93.0h0M235.2 97.5h0M229.6 90.0h0M239.4 103.5h0M234.5 95.6h0M229.4 100.9h0M221.1 102.3h0M217.2 81.9h0M221.9 102.1h0M225.0 96.3h0M237.3 106.2h0M222.2 96.1h0M215.9 95.5h0M214.9 86.0h0M214.1 79.2h0M215.8 96.8h0M243.8 96.3h0M235.9 92.9h0M227.0 109.3h0M230.2 95.3h0M222.3 96.3h0M215.0 112.8h0M211.5 94.3h0M226.5 89.4h0M236.3 105.7h0M219.1 114.1h0M230.4 92.9h0M213.4 101.1h0M227.5 108.3h0M221.6 90.7h0M228.6 93.4h0M209.0 91.3h0M225.5 104.9h0M223.6 93.1h0M220.2 91.0h0M234.8 88.2h0M230.3 93.6h0M232.2 106.8h0M240.2 81.8h0M215.8 101.8h0M233.1 102.8h0M207.3 95.5h0M223.3 91.5h0M213.1 92.2h0M216.8 109.5h0M229.0 106.8h0M234.4 102.1h0M230.7 100.5h0M234.7 90.2h0M233.6 81.7h0M223.8 91.8h0M230.7 97.8h0M222.9 101.7h0M215.4 80.7h0M234.9 83.8h0M221.7 85.4h0M208.5 103.0h0M209.4 95.1h0M228.2 94.2h0M224.1 84.7h0M221.4 99.4h0M227.6 91.3h0M221.0 87.8h0M220.3 86.9h0M213.4 89.1h0M228.5 105.9h0M237.6 90.9h0M215.9 84.5h0M217.0 94.0h0M230.1 100.4h0M225.3 78.3h0M211.1 95.6h0M223.6 115.6h0M220.6 116.8h0M214.0 115.1h0M225.0 109.8h0M234.5 85.7h0M206.5 116.1h0M229.7 90.2h0M237.3 75.9h0M237.6 117.5h0M212.4 95.8h0M213.0 91.4h0M227.5 80.4h0M231.5 89.3h0M213.0 76.2h0M226.2 107.0h0M216.9 93.5h0M218.8 111.7h0M226.3 116.5h0M240.7 93.9h0M238.4 121.9h0M233.2 79.0h0M216.0 109.8h0M220.3 96.1h0M230.3 92.8h0M207.3 89.8h0M218.2 99.1h0M243.6 113.6h0M233.9 92.8h0M218.8 111.1h0M230.0 94.9h0M216.1 97.7h0M221.1 76.3h0M231.8 120.4h0M242.7 115.3h0M234.3 101.1h0M223.8 120.5h0M243.8 113.9h0M230.8 105.5h0M235.1 118.7h0M203.9 114.2h0M210.6 105.0h0M226.0 121.0h0M231.7 98.4h0M205.1 90.0h0M223.8 78.9h0M231.1 88.4h0M202.6 115.5h0M208.3 117.9h0M203.9 111.5h0M229.7 77.4h0M213.1 110.6h0M216.8 80.2h0M211.0 120.6h0M209.3 118.9h0M208.9 98.1h0M210.9 93.2h0M235.3 121.4h0M240.5 102.2h0M205.6 106.0h0M234.0 92.4h0M209.4 104.6h0M214.8 110.9h0M205.7 103.9h0M220.3 82.5h0M241.5 113.3h0M202.7 110.5h0M203.0 118.7h0M234.7 100.0h0M207.6 93.9h0M207.2 103.1h0M235.3 121.8h0M209.6 102.9h0M242.4 78.4h0M225.1 89.5h0M231.7 121.1h0M233.8 101.9h0M236.4 80.3h0M208.2 92.6h0M232.5 79.0h0M221.1 101.4h0M236.9 92.6h0M226.4 79.3h0M224.8 111.3h0M218.0 95.9h0M242.7 82.5h0M226.7 115.9h0M215.5 92.9h0M212.2 101.9h0M220.4 116.0h0M202.8 77.6h0M240.4 101.2h0M216.7 98.2h0M232.1 87.7h0M226.4 114.3h0M214.7 121.6h0M213.8 117.8h0M221.4 104.8h0M240.5 120.6h0M221.7 114.2h0M205.1 108.4h0M244.4 96.1h0M209.2 114.8h0M212.4 113.2h0M225.4 100.4h0M213.2 110.0h0M230.9 122.1h0M232.3 98.6h0M235.9 78.6h0M218.9 118.7h0M210.5 88.0h0M205.2 95.2h0M216.4 88.7h0M214.6 108.8h0M213.5 109.2h0M211.6 120.6h0M238.2 116.4h0M219.7 79.6h0M213.9 95.7h0M230.7 114.9h0M205.6 121.7h0M210.8 117.3h0M242.7 111.4h0M218.2 118.2h0M225.4 97.4h0M205.5 121.6h0M203.4 108.2h0M217.5 113.1h0M239.8 104.0h0M243.3 84.4h0M206.1 110.9h0M202.6 95.0h0M239.4 119.8h0M230.0 103.8h0M240.1 104.6h0M244.3 100.5h0M211.0 83.8h0M206.6 79.0h0M231.0 109.8h0M232.8 110.4h0M236.9 103.9h0M243.2 121.2h0M235.9 98.0h0M204.4 104.5h0M217.9 109.3h0M236.1 108.8h0M240.0 90.5h0M219.3 93.8h0M228.1 96.1h0M222.6 83.2h0M217.7 86.8h0M235.4 76.4h0M244.2 82.2h0M236.5 115.8h0M206.1 88.1h0M207.8 84.5h0M225.1 83.4h0M225.9 77.7h0M232.0 118.5h0M221.5 86.5h0M208.2 104.3h0M238.2 105.1h0M240.4 114.8h0M243.1 92.9h0M208.5 105.0h0M207.8 104.3h0M203.9 80.1h0M239.1 114.2h0M218.3 97.3h0M229.3 79.5h0M223.4 119.1h0M207.2 118.9h0M230.9 122.1h0M231.5 110.8h0M238.3 122.0h0M232.9 91.9h0M224.9 122.1h0M232.0 111.4h0M241.4 117.7h0M242.7 101.9h0M242.2 118.6h0M209.0 109.4h0M208.0 94.5h0M242.1 101.8h0M217.6 118.2h0M218.7 82.2h0M221.9 92.8h0M230.6 77.1h0M234.9 107.4h0M207.9 85.8h0M233.5 100.3h0M229.8 108.6h0M226.9 120.4h0M232.7 105.0h0M203.4 121.9h0M243.5 80.9h0M231.9 120.3h0M215.0 82.3h0M227.5 85.6h0M212.3 111.3h0M227.3 104.9h0M228.4 91.0h0M239.5 110.9h0M239.6 121.4h0M230.9 114.1h0M244.4 105.5h0M227.0 110.2h0M214.6 110.8h0M217.1 86.6h0M222.9 116.9h0M209.8 100.8h0M206.7 117.7h0M215.6 110.2h0M208.3 100.7h0M229.0 119.9h0M234.0 110.8h0M214.4 95.4h0M232.7 79.9h0M224.9 92.5h0M224.0 108.1h0M222.4 107.9h0M239.9 121.1h0M236.2 93.9h0M208.7 98.8h0M232.7 122.0h0M213.5 87.3h0M243.6 97.2h0M222.7 106.2h0M203.1 121.0h0M216.4 78.6h0M240.2 117.6h0M236.7 80.7h0M227.7 114.2h0M208.1 92.1h0M221.3 100.9h0M214.4 107.3h0M243.3 116.9h0M240.2 118.7h0M236.8 119.9h0M220.7 103.1h0M204.3 76.8h0M239.5 122.1h0M220.4 111.4h0M237.3 100.7h0M213.5 88.9h0M235.5 120.7h0M214.4 113.9h0M209.6 107.9h0M233.9 99.0h0M201.9 117.5h0M210.0 97.0h0M238.3 117.4h0M225.6 94.4h0M216.1 116.7h0M242.5 106.4h0M230.4 109.2h0M205.4 106.1h0M227.1 82.5h0M221.4 96.4h0M242.6 120.8h0M203.4 116.9h0M229.3 117.3h0M224.6 109.9h0M235.2 105.0h0M228.0 89.3h0M232.5 108.0h0M205.9 116.1h0M202.6 103.3h0M226.9 108.2h0M211.8 102.3h0M217.4 99.4h0M239.8 113.4h0M229.9 120.2h0M202.3 117.7h0M229.7 111.7h0M214.8 77.8h0M207.3 91.1h0M222.6 121.2h0M232.8 88.1h0M234.9 87.7h0M223.1 116.0h0M229.1 113.6h0M224.0 106.1h0M243.3 117.9h0M236.9 90.7h0M205.4 88.4h0M222.3 106.9h0M239.3 117.0h0M215.8 105.5h0M206.2 103.4h0M235.3 78.8h0M219.2 106.1h0M231.8 92.5h0M230.5 78.2h0M232.1 108.7h0M212.3 103.0h0M206.5 101.9h0M223.1 77.7h0M222.2 91.2h0M233.3 118.0h0M231.8 115.3h0M228.3 84.5h0M218.8 108.2h0M219.4 120.8h0M213.6 104.2h0M230.7 91.5h0M214.5 103.8h0M228.1 120.3h0M210.6 96.4h0M205.0 119.5h0M243.0 101.3h0M214.8 90.2h0M229.7 77.3h0M218.8 99.4h0M226.8 79.3h0M235.7 122.0h0M211.9 113.2h0M228.9 117.7h0M240.1 118.6h0M237.9 119.2h0M216.5 96.2h0M221.9 119.7h0M224.0 107.6h0M232.9 76.2h0M220.6 102.5h0M216.5 98.6h0M226.3 101.7h0M231.4 87.5h0M229.1 101.0h0M240.7 111.0h0M216.3 104.4h0M220.4 114.4h0M229.7 105.5h0M242.3 110.1h0M223.4 101.1h0M240.7 104.1h0M207.7 84.9h0M216.6 109.4h0M239.6 81.3h0M203.0 113.8h0M202.8 96.7h0M210.5 119.3h0M242.1 114.8h0M208.3 117.4h0M231.3 86.8h0M207.8 119.5h0M242.9 98.5h0M239.7 99.0h0M221.4 119.3h0M228.7 119.3h0M232.5 120.0h0M228.8 81.3h0M232.8 113.7h0M208.9 109.9h0M239.2 84.8h0M234.2 93.2h0M242.2 79.9h0M211.7 111.4h0M203.0 117.4h0M235.8 92.1h0M230.5 98.8h0M239.5 109.3h0M215.0 110.9h0M224.5 94.0h0M234.7 120.8h0M226.9 93.1h0M229.0 120.4h0M226.1 107.7h0M224.5 121.0h0M225.9 117.2h0M229.3 108.9h0M218.5 111.7h0M221.6 104.2h0M234.8 85.7h0M225.0 96.6h0M204.1 108.7h0M224.7 100.9h0M234.5 119.9h0M217.0 103.1h0M238.4 113.1h0M216.4 115.8h0M208.8 94.1h0M204.8 84.1h0M224.1 82.2h0M213.8 120.4h0M211.3 121.2h0M236.6 116.0h0M204.7 105.7h0M226.8 121.1h0M224.3 115.2h0M210.3 84.6h0M203.5 95.4h0M227.4 92.1h0M234.6 121.7h0M226.9 110.5h0M217.6 77.4h0M210.7 94.7h0M218.0 84.0h0M222.3 97.5h0M211.5 90.8h0M211.8 119.5h0M203.8 78.6h0M237.4 119.5h0M243.6 109.6h0M230.6 98.3h0M207.8 118.1h0M204.9 121.3h0M225.6 85.9h0M244.4 121.1h0M230.0 113.2h0M230.2 104.5h0M211.3 83.4h0M219.8 114.9h0M233.9 115.1h0M216.4 86.4h0M231.7 121.1h0M227.7 95.8h0M203.9 88.9h0M211.0 104.6h0M229.4 96.5h0M213.0 85.8h0M212.0 83.4h0M242.1 83.5h0M225.8 113.6h0M232.1 77.9h0M223.5 95.6h0M202.0 86.6h0M215.1 104.1h0M220.1 117.3h0M217.0 77.4h0M229.1 120.0h0M207.0 116.7h0M230.9 86.2h0M230.0 76.2h0M214.9 98.5h0M220.3 116.7h0M222.0 85.3h0M237.1 107.2h0M229.3 90.5h0M227.9 98.7h0M237.2 92.2h0M232.2 89.0h0M203.1 118.2h0M215.7 115.9h0M234.0 93.0h0M217.7 83.9h0M242.7 91.6h0M223.7 100.1h0M213.0 119.3h0M207.2 117.2h0M225.3 105.9h0M221.5 98.3h0M217.4 103.9h0M207.6 91.9h0M218.1 119.9h0M212.8 97.7h0M242.4 110.4h0M244.0 120.2h0M221.9 80.3h0M214.8 120.5h0M202.2 78.6h0M243.5 80.7h0M210.9 101.3h0M231.5 81.1h0M238.1 102.1h0M215.1 83.8h0M230.2 110.3h0M220.1 90.1h0M238.7 91.6h0M225.3 99.3h0M214.7 119.4h0M244.2 95.0h0M213.7 104.4h0M244.2 106.9h0M209.8 86.5h0M204.6 91.2h0M213.3 120.1h0M225.5 114.8h0M225.4 117.3h0M235.2 118.3h0M243.1 110.9h0M227.2 107.7h0M229.7 99.7h0M242.3 97.7h0M213.9 105.5h0M222.8 79.3h0M219.9 113.2h0M241.3 94.3h0M230.3 113.1h0M219.1 99.9h0M222.4 76.6h0M216.0 89.1h0M228.3 80.0h0M222.3 105.2h0M222.2 102.4h0M207.7 105.7h0M244.0 109.5h0M204.1 96.0h0M220.8 86.0h0M206.3 108.8h0M231.5 104.9h0M230.3 77.7h0M218.3 82.5h0M237.0 113.1h0M230.8 99.3h0M235.2 92.7h0M234.4 93.5h0M209.4 105.4h0M237.5 77.5h0M208.6 109.4h0M226.9 87.9h0M238.9 95.9h0M204.8 114.6h0M205.0 81.3h0M217.9 102.4h0M239.4 114.4h0M210.3 107.3h0M229.6 86.1h0M215.4 121.7h0M226.6 77.9h0M206.6 81.0h0M240.6 120.8h0M241.3 98.3h0M236.6 99.8h0M232.6 75.8h0M214.8 86.9h0M230.0 109.5h0M207.1 118.9h0M211.2 118.4h0M231.2 97.6h0M242.9 116.6h0M209.5 96.1h0M234.9 109.4h0M231.8 121.3h0M216.4 103.2h0M241.0 119.7h0M232.0 104.4h0M236.5 115.2h0M224.9 95.6h0M220.9 116.9h0M230.9 121.3h0M223.0 86.6h0M209.6 93.7h0M207.9 117.3h0M226.6 89.0h0M216.1 113.0h0M268.4 102.9h0M267.7 107.0h0M270.5 91.5h0M267.3 92.5h0M248.8 91.3h0M249.4 97.8h0M267.8 112.5h0M246.9 92.8h0M249.2 94.6h0M266.1 112.2h0M268.3 116.8h0M248.2 119.0h0M250.3 117.2h0M250.0 112.7h0M246.7 103.9h0M267.2 86.2h0M269.3 93.3h0M266.8 114.6h0M250.1 114.9h0M267.0 112.9h0M267.1 116.0h0M269.4 85.3h0M249.8 103.5h0M246.8 116.4h0M248.7 100.2h0M267.6 99.0h0M268.6 99.7h0M249.3 107.0h0M249.3 112.8h0M268.0 113.6h0M250.0 103.1h0M245.7 93.1h0M248.4 116.9h0M247.8 88.6h0M267.3 107.6h0M267.9 97.5h0M266.7 108.3h0M249.2 117.7h0M247.0 100.7h0M266.8 99.4h0M249.2 109.5h0M250.0 108.9h0M249.1 107.6h0M249.0 121.0h0M244.5 101.2h0M250.2 115.4h0M269.5 94.8h0M247.1 96.9h0M248.2 115.4h0M248.1 107.5h0M266.8 113.2h0M266.5 122.1h0M248.3 92.2h0M247.9 96.6h0M270.8 95.6h0M250.0 106.9h0M247.8 103.0h0M268.3 120.4h0M266.9 116.2h0M247.5 87.1h0M269.2 119.3h0M249.8 106.8h0M247.3 98.8h0M267.8 105.5h0M246.1 87.0h0M266.6 106.0h0M250.1 117.9h0M269.5 90.7h0M267.1 103.9h0M251.1 115.2h0M267.5 112.7h0M249.5 108.7h0M267.0 92.1h0M245.1 97.2h0M267.6 94.6h0M267.2 121.6h0M267.7 102.3h0M250.1 116.2h0M269.5 93.6h0M267.0 109.2h0M246.3 96.0h0M248.6 90.9h0M266.7 102.0h0M269.1 102.3h0M269.2 99.5h0M248.2 88.5h0M269.1 102.6h0M266.6 104.9h0M251.6 121.6h0M268.7 84.8h0M266.9 88.0h0M248.6 99.4h0M249.1 93.6h0M269.3 102.9h0M247.5 87.3h0M247.2 109.0h0M248.2 111.4h0M250.9 117.3h0M248.5 101.2h0M268.0 98.9h0M268.2 98.0h0M267.4 117.3h0M250.5 110.1h0M267.4 96.4h0M249.0 103.7h0M267.3 91.6h0M266.6 101.7h0M268.4 115.9h0M248.8 93.4h0M269.4 84.6h0M268.6 107.3h0M246.6 89.7h0M247.4 91.3h0M266.9 97.0h0M267.9 90.3h0M248.9 88.9h0M246.1 95.1h0M268.2 88.7h0M247.9 85.8h0M267.3 92.8h0M268.0 115.7h0M270.0 98.5h0M268.1 114.0h0M269.4 112.6h0M244.2 88.4h0M248.2 85.7h0M267.8 88.3h0M248.2 106.6h0M246.8 98.0h0M266.4 106.8h0M268.7 105.4h0M248.6 89.2h0M267.0 91.7h0M247.9 90.1h0M268.6 109.6h0M247.1 112.2h0M267.3 110.2h0M247.4 88.2h0M245.3 87.4h0M267.9 113.8h0M249.6 99.7h0M247.3 111.8h0M267.1 98.2h0M268.4 95.4h0M266.5 116.5h0M268.2 114.6h0M246.6 98.2h0M249.2 94.2h0M266.4 115.1h0M249.2 111.4h0M267.1 106.0h0M248.5 93.1h0M267.5 89.7h0M267.1 116.3h0M267.9 106.2h0M268.5 121.4h0M267.6 114.3h0M248.5 89.3h0M269.0 110.3h0M268.4 85.3h0M269.3 121.4h0M266.9 86.8h0M268.9 113.9h0M245.8 89.1h0M244.3 88.0h0M249.1 103.0h0M266.5 110.9h0M269.3 112.6h0M267.6 95.4h0M267.6 108.5h0M267.3 102.1h0M266.4 121.2h0M248.4 117.6h0M267.0 104.6h0M266.4 104.1h0M266.1 118.2h0M266.3 107.2h0M250.4 114.3h0M244.9 108.6h0M266.7 101.0h0M267.9 119.5h0M247.1 104.6h0M266.8 85.6h0M269.0 105.7h0M267.0 108.2h0M245.6 98.7h0M247.3 99.9h0M248.1 89.7h0M248.3 119.0h0M268.6 91.8h0M266.8 97.3h0M250.8 115.8h0M267.6 111.3h0M246.6 98.9h0M246.1 98.2h0M267.1 92.1h0M266.5 115.3h0M267.1 107.8h0M250.3 112.0h0M266.5 111.9h0M248.7 103.8h0M248.5 95.2h0M269.3 121.1h0M247.5 95.4h0M247.5 116.1h0M267.1 95.2h0M267.5 120.8h0M267.0 102.4h0M246.7 92.2h0M268.2 108.2h0M248.2 99.2h0M269.2 87.3h0M245.2 98.7h0M268.6 95.5h0M269.0 101.9h0M266.8 104.4h0M267.3 91.8h0M268.6 105.1h0M266.9 107.7h0M268.2 87.0h0M249.7 117.8h0M247.9 99.9h0M249.1 115.5h0M268.1 86.4h0M249.2 108.4h0M249.7 112.8h0M246.2 102.2h0M249.3 105.9h0M251.2 120.1h0M249.0 96.5h0M250.2 107.0h0M268.8 110.9h0M269.8 85.8h0M266.7 109.9h0M247.3 93.6h0M266.1 111.2h0M267.4 98.1h0M268.0 118.0h0M250.9 120.4h0M247.1 95.2h0M244.4 95.4h0M268.5 104.0h0M267.7 103.1h0M249.9 105.5h0M249.4 107.9h0M267.5 87.4h0M246.1 86.5h0M266.9 84.6h0M268.0 117.1h0M267.1 92.9h0M267.5 112.8h0M248.2 94.8h0M266.5 115.2h0M249.8 101.3h0M247.9 92.6h0M266.2 121.7h0M248.0 117.4h0M249.7 106.2h0M267.6 90.1h0M249.5 99.4h0M247.3 102.3h0M248.7 106.3h0M247.8 98.5h0M246.7 112.5h0M267.9 121.1h0M267.4 89.7h0M268.9 90.8h0M248.4 95.8h0M246.7 84.7h0M266.9 96.2h0M268.4 94.2h0M249.5 110.6h0M268.1 107.8h0M247.3 94.8h0M246.9 90.8h0M246.5 99.5h0M266.5 114.5h0M246.4 100.6h0M267.6 95.4h0M269.0 96.5h0M247.4 110.6h0M269.7 118.2h0M269.6 92.9h0M247.5 104.2h0M247.5 101.4h0M247.2 104.2h0M267.5 121.8h0M267.1 115.4h0M248.8 116.3h0M249.0 102.6h0M267.8 101.1h0M267.8 94.0h0M249.5 114.7h0M267.7 90.4h0M270.2 117.4h0M267.8 93.2h0M266.3 118.6h0M246.4 89.6h0M250.3 109.2h0M244.3 87.9h0M249.3 99.1h0M248.6 95.1h0M267.5 93.5h0M267.5 118.5h0M248.8 102.9h0M250.1 105.6h0M268.9 86.8h0M248.8 93.6h0M248.3 120.0h0M268.7 98.0h0M267.5 101.3h0M266.9 112.1h0M267.1 86.0h0M248.0 87.0h0M249.7 118.6h0M249.3 105.2h0M268.0 117.0h0M268.1 93.6h0M248.5 87.5h0M268.0 114.8h0M268.4 101.3h0M250.3 111.6h0M249.5 109.8h0M269.7 119.5h0M267.2 119.4h0M248.4 106.1h0M248.8 106.1h0M248.0 113.0h0M245.8 101.6h0M249.1 102.6h0M270.7 96.8h0M267.2 85.2h0M266.5 112.6h0M246.6 101.9h0M270.2 113.0h0M266.9 94.6h0M244.2 86.6h0M267.8 96.4h0M249.0 103.4h0M249.2 118.5h0M248.4 98.5h0M267.3 88.7h0M266.5 106.8h0M247.5 89.4h0M246.7 87.5h0M267.0 107.0h0M247.3 84.4h0M248.0 91.2h0M270.3 115.9h0M267.8 104.9h0M267.2 94.1h0M249.1 106.5h0M266.6 106.4h0M247.5 117.6h0M249.6 121.0h0M266.6 106.9h0M249.2 102.5h0M270.5 121.7h0M268.5 102.1h0M246.9 93.7h0M249.5 120.1h0M248.5 114.5h0M272.2 86.2h0M249.3 112.0h0M266.3 113.4h0M268.7 89.3h0M248.7 118.1h0M270.5 115.7h0M248.5 90.5h0M248.3 99.7h0M268.4 97.5h0M269.3 86.8h0M266.7 113.2h0M248.7 102.7h0M250.0 112.0h0M251.4 119.3h0M249.7 116.4h0M248.4 89.3h0M249.4 99.9h0M247.1 100.3h0M246.5 95.6h0M267.5 90.2h0M248.8 85.9h0M268.9 98.7h0M247.7 111.3h0M268.1 113.0h0M246.0 101.0h0M248.0 88.2h0M267.0 97.1h0M247.0 94.6h0M268.6 100.8h0M268.0 114.5h0M246.6 116.0h0M250.3 109.7h0M249.0 109.1h0M248.0 121.1h0M266.1 117.2h0M247.1 108.3h0M266.5 105.9h0M250.4 112.9h0M271.8 85.5h0M267.6 98.6h0M267.8 86.6h0M246.8 104.3h0M246.6 86.3h0M249.1 96.4h0M266.5 108.3h0M246.0 90.8h0M246.2 88.3h0M270.5 118.3h0M267.3 98.3h0M248.9 96.9h0M249.5 111.6h0M267.6 97.2h0M268.5 93.5h0M248.2 88.5h0M250.0 120.7h0M267.1 88.5h0M267.2 101.4h0M266.9 89.4h0M267.2 106.1h0M249.6 102.9h0M268.5 111.3h0M268.8 100.5h0M267.9 90.9h0M269.3 87.5h0M267.0 101.4h0M250.1 114.0h0M247.7 87.6h0M268.2 91.9h0M245.1 90.8h0M246.9 92.8h0M251.0 119.8h0M248.8 104.9h0M268.3 103.5h0M249.7 105.0h0M246.0 91.3h0M267.8 112.4h0M268.8 107.6h0M268.9 96.4h0M246.3 102.2h0M269.4 100.3h0M267.2 92.7h0M249.7 106.2h0M250.2 114.6h0M250.8 113.7h0M248.9 109.7h0M266.5 105.1h0M267.5 84.7h0M268.5 102.2h0M267.0 89.7h0M268.9 89.1h0M268.2 110.4h0M249.3 119.1h0M268.3 91.1h0M267.8 86.2h0M267.8 94.9h0M250.4 111.4h0M270.3 97.4h0M267.2 100.6h0M266.3 120.8h0M248.0 122.0h0M248.6 98.9h0M247.3 100.3h0M247.7 98.3h0M248.4 95.3h0M267.0 90.2h0M247.6 98.8h0M268.4 110.9h0M248.6 91.2h0M267.4 110.5h0M249.7 111.2h0M268.0 114.6h0M268.2 93.2h0M267.4 95.1h0M267.3 86.8h0M247.6 98.3h0M267.1 88.1h0M248.6 105.1h0M249.4 120.8h0M267.9 94.3h0M267.8 94.7h0M247.6 91.9h0M267.1 120.9h0M268.8 85.2h0M269.0 121.8h0M267.2 121.1h0M267.6 95.4h0M268.6 104.5h0M250.8 117.6h0M265.8 117.5h0M267.2 102.1h0M271.0 96.0h0M246.2 107.5h0M266.7 104.0h0M265.8 120.5h0M266.8 102.8h0M250.9 117.9h0M247.3 93.6h0M267.9 114.6h0M249.9 115.2h0M248.3 88.5h0M268.8 92.1h0M251.1 119.9h0M249.2 105.4h0M266.9 116.8h0M250.7 121.4h0M268.0 93.6h0M270.5 87.8h0M250.0 112.1h0M266.7 120.4h0M268.6 106.9h0M269.2 86.0h0M249.3 96.5h0M247.3 100.8h0M249.7 103.3h0M271.0 89.4h0M267.5 87.5h0M268.1 85.0h0M247.0 97.3h0M249.0 101.1h0M266.8 93.7h0M270.4 119.3h0M249.7 105.6h0M267.5 99.6h0M248.3 87.2h0M267.5 97.1h0M249.4 116.1h0M249.0 102.4h0M270.6 102.6h0M270.8 90.7h0M268.1 95.4h0M248.2 90.4h0M248.6 99.1h0M247.5 86.3h0M247.7 91.4h0M267.5 110.8h0M266.5 112.0h0M248.7 102.3h0M267.1 95.7h0M247.5 113.7h0M247.9 103.6h0M268.2 109.5h0M268.3 121.3h0M266.9 86.2h0M245.9 114.4h0M267.2 87.4h0M250.3 111.3h0M268.6 109.8h0M269.7 109.5h0M268.7 111.7h0M248.5 111.6h0M246.9 95.8h0M267.5 104.2h0M267.1 108.5h0M267.2 100.6h0M266.7 105.1h0M267.5 111.2h0M268.3 113.6h0M247.9 113.2h0M268.7 89.8h0M269.1 87.6h0M268.3 98.5h0M246.2 106.7h0M266.8 96.6h0M249.1 98.6h0M248.4 94.9h0M250.7 115.0h0M248.4 105.9h0M266.3 113.3h0M250.7 114.2h0M249.8 106.7h0M268.2 95.1h0M250.7 118.0h0M246.9 90.2h0M248.0 98.9h0M248.6 105.9h0M250.7 117.3h0M248.2 86.0h0M267.0 122.0h0M251.3 119.6h0M267.3 99.4h0M267.1 87.0h0M268.6 94.7h0M250.7 111.7h0M247.7 89.5h0M249.4 110.3h0M266.8 104.7h0M248.6 97.0h0M267.8 114.5h0M269.3 111.5h0M267.5 84.9h0M266.7 96.2h0M269.5 90.1h0M267.2 95.3h0M249.0 112.8h0M248.7 101.9h0M248.1 92.0h0M267.6 96.2h0M245.9 86.6h0M248.2 102.6h0M248.5 96.4h0M247.6 107.5h0M267.8 113.6h0M246.7 91.8h0M250.3 115.9h0M248.6 100.6h0M250.2 121.5h0M270.7 97.3h0M269.4 89.0h0M248.9 92.5h0M269.0 91.8h0M248.0 88.0h0M267.6 109.7h0M271.0 89.0h0M268.8 114.4h0M268.8 99.3h0M250.6 120.2h0M249.7 102.7h0M270.7 86.3h0M270.3 89.0h0M267.3 102.9h0M266.4 110.1h0M267.0 98.3h0M267.8 87.7h0M270.6 85.4h0M266.8 97.4h0M250.0 113.3h0M270.3 113.5h0M267.4 92.7h0M249.1 112.3h0M249.2 110.8h0M248.2 109.6h0M267.5 98.9h0M250.4 110.0h0M249.4 96.3h0M269.3 96.2h0M269.0 113.4h0M250.1 117.5h0M248.4 110.2h0M267.1 92.7h0M247.0 120.6h0M267.6 96.5h0M248.2 94.0h0M267.0 84.9h0M248.6 104.9h0M268.5 106.4h0M268.2 119.8h0M267.3 98.3h0M268.1 95.7h0M248.3 108.3h0M250.8 121.8h0M267.0 119.8h0M267.2 116.5h0M247.9 94.9h0M247.5 88.2h0M271.0 101.8h0M246.2 98.2h0M247.1 95.2h0M248.8 112.6h0M248.6 90.4h0M266.5 114.1h0M267.3 87.0h0M268.7 109.9h0M244.9 100.0h0M266.9 85.5h0M247.9 112.7h0M267.1 120.1h0M268.4 88.4h0M267.7 99.2h0M267.1 114.6h0M268.4 98.6h0M267.7 111.4h0M267.4 103.9h0M266.7 114.0h0M266.0 120.5h0M266.0 119.8h0M269.7 99.9h0M267.3 97.5h0M266.7 113.2h0M268.9 93.8h0M267.7 86.2h0M250.8 112.0h0M266.5 101.8h0M247.2 91.9h0M250.4 119.5h0M247.1 110.8h0M268.4 87.1h0M244.9 91.7h0M251.3 120.6h0M269.0 103.3h0M266.9 110.2h0M248.5 117.1h0M250.0 118.1h0M245.4 87.0h0M250.1 112.8h0M247.6 91.6h0M267.9 116.2h0M267.1 85.8h0M249.2 109.3h0M267.0 99.3h0M269.1 94.5h0M268.4 88.5h0M249.8 115.0h0M267.0 92.4h0M247.3 99.0h0M266.7 99.0h0M267.4 118.5h0M267.4 109.5h0M267.9 99.1h0M248.2 98.7h0M248.7 120.4h0M250.6 117.6h0M246.6 112.0h0M267.6 120.1h0M247.8 104.9h0M248.8 121.4h0M246.7 108.5h0M267.4 114.6h0M266.6 98.1h0M250.1 109.6h0M268.5 114.8h0M248.2 86.4h0M248.5 105.4h0M248.6 108.0h0M269.7 112.4h0M269.2 96.0h0M268.2 104.1h0M249.8 101.8h0M249.8 106.9h0M249.2 105.5h0M267.6 105.3h0M248.1 101.2h0M248.9 117.4h0M266.9 108.9h0M268.6 86.7h0M267.0 116.8h0M266.8 116.9h0M266.2 113.9h0M266.0 117.0h0M270.1 95.4h0M248.9 111.6h0M248.9 95.8h0M270.6 86.4h0M247.8 92.4h0M250.7 119.7h0M244.5 95.9h0M266.4 113.2h0M267.6 118.8h0M247.9 88.6h0M249.0 100.4h0M249.5 106.7h0M249.6 105.8h0M249.1 94.9h0M267.2 96.8h0M266.4 112.9h0M249.4 99.4h0M267.8 109.3h0M266.0 112.7h0M247.0 92.4h0M251.0 117.6h0M250.4 122.1h0M267.2 106.9h0M268.6 99.4h0M271.7 91.0h0M248.3 109.3h0M266.8 108.3h0M247.9 113.8h0M266.7 115.5h0M248.8 110.9h0M246.9 93.3h0M267.3 99.0h0M245.7 95.9h0M247.7 95.6h0M247.3 108.1h0M250.7 121.1h0M267.9 99.9h0M250.0 116.0h0M264.2 81.5h0M254.9 77.0h0M255.4 77.8h0M256.4 79.2h0M259.2 78.9h0M254.8 78.9h0M255.0 79.2h0M264.4 82.7h0M262.2 77.4h0M254.9 78.3h0M250.9 81.9h0M264.4 82.4h0M261.8 79.3h0M250.3 81.3h0M255.6 79.1h0M258.6 77.8h0M264.0 81.9h0M252.6 78.8h0M263.0 79.8h0M253.3 80.3h0M259.8 78.7h0M256.1 79.5h0M250.1 83.4h0M265.0 83.6h0M254.8 79.1h0M260.4 77.2h0M258.9 77.0h0M263.4 80.5h0M261.2 79.4h0M262.0 79.1h0M259.3 77.7h0M260.9 79.4h0M250.9 83.4h0M251.8 81.8h0M261.0 79.2h0M257.2 78.3h0M253.2 80.9h0M262.0 79.6h0M263.8 81.6h0M260.3 78.1h0M254.9 79.5h0M253.4 79.0h0M263.7 81.5h0M256.8 78.6h0M262.7 79.6h0M250.7 83.7h0M264.4 80.5h0M263.6 81.1h0M256.8 78.9h0M263.8 79.9h0M254.4 80.1h0M258.5 78.7h0M257.6 77.0h0M265.8 84.1h0M259.6 79.1h0M252.6 80.8h0M264.3 80.6h0M259.1 79.3h0M252.1 82.0h0M260.3 78.5h0M256.3 76.8h0M266.7 86.8h0M259.4 77.8h0M250.3 83.8h0M253.4 79.3h0M257.5 79.1h0M259.1 79.0h0M252.8 81.0h0M256.5 78.8h0M262.7 78.8h0M249.3 85.0h0M258.0 78.5h0M258.7 78.9h0M253.5 79.0h0M255.0 79.5h0M253.3 79.4h0M255.7 79.4h0M259.9 77.3h0M258.1 79.2h0M250.2 84.1h0M258.6 79.2h0M263.5 81.4h0M265.3 83.8h0M253.8 80.2h0M249.2 84.2h0M256.3 79.3h0M262.8 80.0h0M254.2 79.9h0M250.8 83.5h0M262.6 79.0h0M256.5 79.0h0M260.2 78.7h0M253.3 78.7h0M258.8 78.3h0M265.2 84.1h0M265.0 83.1h0M260.3 78.1h0M264.6 81.3h0M256.0 79.0h0M258.4 77.7h0M253.7 79.8h0M251.5 81.8h0M266.7 84.9h0M265.0 81.6h0M253.4 80.8h0M261.6 79.1h0M266.0 84.3h0M258.4 76.9h0M263.0 78.8h0M264.3 82.5h0M252.8 80.6h0M252.0 79.6h0M249.4 85.5h0M266.0 80.9h0M265.8 83.5h0M249.6 85.4h0M258.9 78.4h0M264.2 81.7h0M260.6 79.7h0M250.9 81.4h0M255.3 79.1h0M254.2 79.9h0M258.2 79.3h0M254.0 80.1h0M255.8 79.0h0M255.0 78.3h0M265.2 84.1h0M262.1 80.4h0M264.1 82.2h0M266.1 82.9h0M261.4 80.1h0M250.9 81.4h0M258.4 79.0h0M258.3 78.3h0M254.1 79.9h0M256.1 78.4h0M255.4 79.4h0M253.9 78.8h0M262.4 80.6h0M258.2 77.9h0M256.6 77.7h0M255.2 78.9h0M263.4 80.5h0M256.6 77.5h0M263.6 79.6h0M251.3 82.5h0M258.6 78.4h0M249.6 84.1h0M265.5 84.5h0M254.7 77.4h0M266.0 82.4h0M257.9 77.0h0M264.0 80.8h0M257.4 77.9h0M249.3 86.2h0M250.4 84.1h0M254.4 79.9h0M256.3 78.3h0M250.6 82.0h0M249.7 85.3h0M258.1 78.1h0M249.9 83.8h0M265.3 83.6h0M260.0 77.8h0M259.0 78.2h0M249.7 84.6h0M252.6 79.7h0M264.8 80.8h0M252.3 81.8h0M255.8 78.7h0M260.1 79.0h0M261.6 79.5h0M254.3 79.9h0M252.6 80.8h0M261.1 79.0h0M250.5 83.8h0M264.8 82.4h0M265.5 82.7h0M265.9 84.2h0M260.7 79.6h0M261.4 79.2h0M255.0 77.8h0M259.2 79.3h0M259.7 78.7h0M255.8 78.3h0M249.7 84.8h0M265.7 83.9h0M266.0 85.2h0M252.9 80.2h0M262.6 80.9h0M260.8 79.8h0M256.6 79.2h0M262.3 80.7h0M252.8 80.2h0M264.4 81.9h0M258.8 78.9h0M255.7 79.5h0M249.8 85.2h0M258.6 78.0h0M258.6 79.3h0M261.9 78.8h0M252.7 81.1h0M257.7 77.1h0M263.5 81.8h0M250.0 84.6h0M254.7 78.4h0M255.4 79.2h0M251.2 81.7h0M259.2 78.5h0M263.3 79.4h0M259.0 78.4h0M249.6 84.4h0M261.9 80.0h0M261.4 78.3h0M254.3 79.6h0M257.4 79.3h0M255.3 79.0h0M257.9 78.6h0M266.6 85.9h0M266.2 85.3h0M265.9 83.4h0M260.0 77.6h0M263.2 78.9h0M256.5 78.5h0M252.3 80.1h0M259.9 78.6h0M250.3 84.0h0M249.5 85.8h0M254.3 79.0h0M253.6 80.3h0M256.2 78.8h0M252.9 78.1h0M266.4 85.7h0M253.1 80.7h0M251.8 81.6h0M256.5 79.0h0M266.1 84.3h0M256.9 78.1h0M261.9 79.2h0M250.9 82.4h0M264.9 82.2h0M257.0 78.2h0M264.9 82.4h0M250.0 84.4h0M250.8 82.8h0M255.6 79.3h0M249.8 85.3h0M257.9 77.5h0M255.7 78.8h0M263.9 81.0h0M254.6 78.1h0M265.0 81.2h0M254.1 79.8h0M258.3 79.3h0M259.5 78.6h0M258.1 76.8h0M265.2 81.6h0M255.6 76.1h0M258.8 78.5h0M265.7 83.6h0M245.2 76.5h0M247.7 110.8h0M244.8 80.4h0M246.7 88.3h0M248.9 80.7h0M248.4 90.5h0M247.6 78.7h0M244.0 86.9h0M246.5 106.0h0M241.6 106.3h0M242.4 90.6h0M245.7 88.8h0M246.2 88.4h0M244.1 84.1h0M248.8 97.4h0M243.1 84.9h0M246.4 85.5h0M246.0 85.6h0M243.1 77.7h0M247.3 87.7h0M241.8 89.7h0M246.7 89.4h0M244.9 76.5h0M247.1 84.7h0M246.0 97.3h0M245.5 90.8h0M244.3 82.3h0M244.1 96.4h0M245.5 83.6h0M244.8 101.4h0M246.5 78.6h0M247.2 80.0h0M247.8 102.3h0M245.6 93.7h0M247.4 88.3h0M242.9 85.4h0M248.4 82.0h0M246.3 77.5h0M244.9 86.6h0M248.9 88.8h0M243.1 79.1h0M241.6 77.4h0M247.4 79.2h0M245.6 94.8h0M248.0 78.8h0M243.1 110.3h0M244.8 101.6h0M247.6 81.4h0M243.2 90.8h0M241.5 94.1h0M246.8 77.2h0M241.9 76.3h0M246.5 104.2h0M248.6 76.4h0M247.8 93.3h0M246.2 78.1h0M245.6 86.1h0M247.4 84.8h0M246.9 100.6h0M248.7 85.4h0M241.8 84.6h0M248.9 81.8h0M248.1 83.3h0M244.0 92.5h0M247.4 85.4h0M245.0 90.6h0M243.7 99.3h0M244.6 87.8h0M248.6 78.1h0M248.1 77.0h0M242.7 84.5h0M244.6 83.7h0M248.2 89.8h0M246.0 78.9h0M247.2 79.5h0M244.0 85.9h0M244.2 80.8h0M248.0 82.8h0M243.8 102.6h0M247.4 78.3h0M248.5 77.3h0M248.5 84.9h0M247.5 113.2h0M248.5 97.7h0M248.0 80.2h0M247.0 99.6h0M246.0 78.2h0M241.5 87.1h0M241.9 80.4h0M246.1 84.5h0M243.7 95.6h0M248.8 88.5h0M245.0 107.5h0M244.0 84.8h0M242.7 79.7h0M247.5 96.6h0M245.5 91.3h0M246.0 86.6h0M248.7 109.9h0M242.3 93.4h0M243.0 88.3h0M248.3 93.2h0M246.9 89.4h0M247.4 87.4h0M248.8 78.0h0M248.4 88.2h0M247.3 82.6h0M243.5 89.3h0M242.0 83.2h0M242.6 85.0h0M246.8 80.5h0M246.8 89.9h0M244.5 88.5h0M246.5 94.6h0M248.4 94.7h0M245.1 78.0h0M248.0 96.4h0M247.6 101.8h0M248.8 77.3h0M243.6 107.1h0M249.0 100.9h0M247.5 101.8h0M242.8 103.7h0M241.9 108.2h0M243.2 88.6h0M247.5 92.9h0M243.9 78.9h0M246.2 77.9h0M248.2 96.0h0M242.8 81.2h0M241.8 84.7h0M245.3 83.1h0M243.1 85.0h0M248.0 107.5h0M247.0 93.9h0M242.3 81.6h0M247.6 76.9h0M243.3 80.3h0M248.0 93.5h0M242.7 92.6h0M247.5 119.5h0M242.6 93.2h0M248.0 91.7h0M245.1 91.9h0M245.2 93.8h0M244.3 92.1h0M245.3 96.1h0M244.6 84.0h0M241.7 103.7h0M242.1 85.3h0M248.9 84.5h0M242.0 118.9h0M246.9 89.6h0M243.4 77.6h0M242.3 87.0h0M246.5 92.3h0M245.8 91.7h0M243.6 84.2h0M246.5 84.5h0M245.1 76.7h0M246.6 89.3h0M246.4 90.7h0M245.9 98.0h0M246.3 81.6h0M244.9 88.5h0M243.5 84.0h0M246.0 79.3h0M242.2 76.6h0M243.1 81.1h0M248.8 94.0h0M267.8 87.6h0M266.9 119.2h0M272.3 88.1h0M267.3 107.9h0M271.9 105.8h0M271.7 80.6h0M271.1 117.3h0M272.0 113.6h0M268.7 117.1h0M272.9 115.3h0M270.9 98.2h0M268.1 110.7h0M269.5 108.9h0M269.1 96.6h0M270.5 103.7h0M270.8 93.3h0M268.2 83.1h0M266.9 96.1h0M275.7 113.8h0M267.0 87.0h0M269.9 82.7h0M271.0 107.6h0M267.6 106.8h0M272.1 108.8h0M268.6 107.4h0M269.3 97.5h0M268.7 103.8h0M269.9 103.1h0M270.3 83.9h0M268.5 97.2h0M267.2 114.8h0M269.5 81.1h0M266.8 116.6h0M271.1 80.6h0M269.4 93.8h0M212.3 60.0h0M214.6 61.5h0M216.5 58.9h0M223.1 63.1h0M223.5 65.8h0M227.7 61.5h0M231.5 61.2h0M231.8 66.9h0M219.7 71.5h0M250.8 63.8h0M259.7 62.3h0M262.3 61.2h0M270.0 56.2h0M260.5 66.9h0M262.0 68.0h0M267.2 67.7h0M258.5 70.8h0M264.6 70.3h0M261.5 72.3h0M276.5 72.8h0M250.8 73.4h0M259.2 72.9h0M263.4 72.6h0M256.3 73.0h0M266.0 72.0h0M260.9 69.5h0" stroke="#000" stroke-width="0.95" stroke-linecap="round" fill="none" opacity="0.9"/>
<path d="M200.8 11.2H304.8" stroke="#444" stroke-width="0.75" fill="none"/>
<path d="M304.8 11.2V122.8" stroke="#1a1a1a" stroke-width="0.85" fill="none"/>
<path d="M200.8 11.2V122.8H304.8" stroke="#111" stroke-width="0.9" fill="none"/>
<path d="M200.8 74.3L304.8 74.3" stroke="#000" stroke-width="0.95" fill="none"/>
<path d="M242.5 35.2L242.5 122.8" stroke="#000" stroke-width="0.95" fill="none"/>
<path d="M242.5 11.2L242.5 12.4" stroke="#333" stroke-width="0.8" fill="none"/>
<path d="M200.8 120.78h-2.6M204.48 122.8v3M200.8 117.32h-2.6M207.11 122.8v3M200.8 114.64h-2.6M209.27 122.8v3M200.8 112.45h-2.6M211.09 122.8v3M200.8 110.59h-2.6M212.66 122.8v3M200.8 108.98h-2.6M214.06 122.8v3M200.8 107.57h-2.6M215.3 122.8v4.7M200.8 106.3h-4.7M223.49 122.8v3M200.8 97.96h-2.6M228.28 122.8v3M200.8 93.08h-2.6M231.68 122.8v3M200.8 89.62h-2.6M234.31 122.8v3M200.8 86.94h-2.6M236.47 122.8v3M200.8 84.75h-2.6M238.29 122.8v3M200.8 82.89h-2.6M239.86 122.8v3M200.8 81.28h-2.6M241.26 122.8v3M200.8 79.87h-2.6M242.5 122.8v4.7M200.8 78.6h-4.7M250.69 122.8v3M200.8 70.26h-2.6M255.48 122.8v3M200.8 65.38h-2.6M258.88 122.8v3M200.8 61.92h-2.6M261.51 122.8v3M200.8 59.24h-2.6M263.67 122.8v3M200.8 57.05h-2.6M265.49 122.8v3M200.8 55.19h-2.6M267.06 122.8v3M200.8 53.58h-2.6M268.46 122.8v3M200.8 52.17h-2.6M269.7 122.8v4.7M200.8 50.9h-4.7M277.89 122.8v3M200.8 42.56h-2.6M282.68 122.8v3M200.8 37.68h-2.6M286.08 122.8v3M200.8 34.22h-2.6M288.71 122.8v3M200.8 31.54h-2.6M290.87 122.8v3M200.8 29.35h-2.6M292.69 122.8v3M200.8 27.49h-2.6M294.26 122.8v3M200.8 25.88h-2.6M295.66 122.8v3M200.8 24.47h-2.6M296.9 122.8v4.7M200.8 23.2h-4.7M200.8 14.86h-2.6" stroke="#000" stroke-width="0.95" fill="none"/>
<text x="214.1" y="136.2" font-size="6" text-anchor="middle" font-weight="normal" stroke="#111" stroke-width="0.25">10</text>
<text x="217.1" y="132" font-size="5.2" text-anchor="start" font-weight="normal" stroke="#111" stroke-width="0.1">2</text>
<g transform="translate(194.5 106.9) rotate(-90)" stroke="#111" stroke-width="0.25">
<text x="0" y="0" font-size="6" text-anchor="middle" font-weight="normal">10</text>
<text x="3.1" y="-3.6" font-size="5.2" text-anchor="start" font-weight="normal" stroke-width="0.1">2</text>
</g>
<text x="241.3" y="136.2" font-size="6" text-anchor="middle" font-weight="normal" stroke="#111" stroke-width="0.25">10</text>
<text x="244.3" y="132" font-size="5.2" text-anchor="start" font-weight="normal" stroke="#111" stroke-width="0.1">3</text>
<g transform="translate(194.5 79.2) rotate(-90)" stroke="#111" stroke-width="0.25">
<text x="0" y="0" font-size="6" text-anchor="middle" font-weight="normal">10</text>
<text x="3.1" y="-3.6" font-size="5.2" text-anchor="start" font-weight="normal" stroke-width="0.1">3</text>
</g>
<text x="268.5" y="136.2" font-size="6" text-anchor="middle" font-weight="normal" stroke="#111" stroke-width="0.25">10</text>
<text x="271.5" y="132" font-size="5.2" text-anchor="start" font-weight="normal" stroke="#111" stroke-width="0.1">4</text>
<g transform="translate(194.5 51.5) rotate(-90)" stroke="#111" stroke-width="0.25">
<text x="0" y="0" font-size="6" text-anchor="middle" font-weight="normal">10</text>
<text x="3.1" y="-3.6" font-size="5.2" text-anchor="start" font-weight="normal" stroke-width="0.1">4</text>
</g>
<text x="295.7" y="136.2" font-size="6" text-anchor="middle" font-weight="normal" stroke="#111" stroke-width="0.25">10</text>
<text x="298.7" y="132" font-size="5.2" text-anchor="start" font-weight="normal" stroke="#111" stroke-width="0.1">5</text>
<g transform="translate(194.5 23.8) rotate(-90)" stroke="#111" stroke-width="0.25">
<text x="0" y="0" font-size="6" text-anchor="middle" font-weight="normal">10</text>
<text x="3.1" y="-3.6" font-size="5.2" text-anchor="start" font-weight="normal" stroke-width="0.1">5</text>
</g>
<text x="203.9" y="30.3" font-size="20.5" text-anchor="start" font-weight="bold" stroke="#000" stroke-width="0.25" fill="#000">ii</text>
<text x="296.1" y="25.8" font-size="9.8" text-anchor="end" font-weight="normal">0.01%</text>
<text x="242.8" y="8.3" font-size="9.4" text-anchor="middle" font-weight="normal">cos only</text>
<path d="M397 76.5h1M393 77.5h1M395 77.5h1M397 77.5h1M400 77.5h1M393 78.5h8M391 79.5h12M390 80.5h14M390 81.5h13M404 81.5h1M388 82.5h16M388 83.5h16M386 84.5h20M387 85.5h19M386 86.5h20M387 87.5h19M386 88.5h1M388 88.5h17M386 89.5h21M387 90.5h19M387 91.5h19M386 92.5h20M387 93.5h19M386 94.5h20M386 95.5h22M388 96.5h19M387 97.5h20M387 98.5h19M386 99.5h20M386 100.5h19M388 101.5h17M406 101.5h1M387 102.5h18M387 103.5h20M387 104.5h18M406 104.5h1M387 105.5h19M387 106.5h20M386 107.5h20M387 108.5h19M387 109.5h18M387 110.5h18M386 111.5h19M387 112.5h18M386 113.5h19M388 114.5h18M387 115.5h18M386 116.5h19M387 117.5h18M386 118.5h18M405 118.5h1M387 119.5h19M387 120.5h20M387 121.5h19" stroke="#050505" stroke-width="1" fill="none" shape-rendering="crispEdges"/>
<path d="M364.4 94.7h0M354.2 82.0h0M354.7 85.3h0M362.4 97.9h0M365.3 89.2h0M369.0 92.7h0M365.8 84.2h0M383.1 82.2h0M366.2 90.6h0M370.4 86.4h0M365.2 95.5h0M361.9 86.6h0M366.9 90.2h0M375.4 97.7h0M358.3 83.0h0M349.4 96.9h0M359.4 91.9h0M373.7 87.8h0M359.0 94.8h0M369.7 105.4h0M379.4 90.1h0M372.5 90.1h0M350.6 91.8h0M369.7 82.4h0M361.9 82.4h0M365.2 87.4h0M357.2 94.2h0M368.6 103.6h0M373.6 87.3h0M363.0 85.6h0M355.7 93.8h0M357.3 87.8h0M380.9 98.5h0M365.3 95.1h0M361.1 90.6h0M373.2 93.6h0M360.8 90.1h0M363.7 81.0h0M357.8 84.1h0M369.6 90.3h0M367.0 96.8h0M378.3 94.9h0M365.8 107.3h0M362.1 102.4h0M357.5 99.0h0M370.6 94.7h0M360.3 91.6h0M365.8 83.3h0M378.9 77.4h0M358.2 98.9h0M353.8 100.4h0M366.8 83.4h0M364.1 84.6h0M363.1 102.9h0M372.9 86.8h0M371.9 100.1h0M370.9 86.4h0M361.5 94.1h0M375.4 77.1h0M362.1 93.9h0M370.5 87.5h0M344.5 92.3h0M361.8 83.4h0M371.2 88.9h0M374.5 91.3h0M366.1 77.0h0M358.0 92.4h0M374.9 88.4h0M380.0 103.2h0M351.8 97.3h0M367.5 94.4h0M370.8 93.4h0M370.0 91.6h0M354.9 100.4h0M369.3 84.8h0M367.8 91.9h0M364.7 90.5h0M373.9 77.9h0M374.5 94.7h0M363.6 93.1h0M379.7 81.2h0M358.5 93.5h0M383.8 81.6h0M358.3 90.5h0M378.9 86.1h0M358.3 102.4h0M371.8 88.6h0M374.5 85.2h0M362.0 93.6h0M373.5 91.0h0M359.8 92.3h0M363.2 98.6h0M368.8 94.1h0M368.6 93.9h0M371.3 99.2h0M372.5 99.7h0M374.3 88.0h0M368.2 89.0h0M367.1 89.0h0M367.1 100.3h0M369.6 99.3h0M362.3 93.5h0M381.0 86.6h0M369.5 93.7h0M359.8 81.5h0M360.8 94.0h0M374.0 77.0h0M370.0 107.1h0M362.0 81.2h0M359.6 93.8h0M359.8 83.5h0M370.2 95.4h0M364.3 79.9h0M353.8 95.1h0M370.6 93.8h0M346.2 100.2h0M361.1 101.1h0M379.2 75.6h0M373.0 99.3h0M348.8 100.6h0M360.9 83.5h0M359.4 81.3h0M374.4 99.7h0M369.5 84.9h0M377.7 79.8h0M372.4 76.2h0M371.8 86.4h0M358.0 88.7h0M362.6 105.1h0M362.7 94.9h0M355.3 103.8h0M377.6 90.5h0M369.8 87.0h0M351.5 95.1h0M374.2 95.3h0M359.5 87.2h0M372.7 91.4h0M361.6 92.8h0M357.6 98.8h0M357.1 93.0h0M353.4 94.9h0M360.5 85.4h0M352.2 84.2h0M370.2 97.7h0M359.4 89.2h0M364.2 96.9h0M369.2 79.1h0M355.9 104.1h0M352.8 100.6h0M380.5 84.7h0M351.5 100.0h0M359.2 84.5h0M370.1 105.0h0M369.8 91.9h0M363.4 109.6h0M356.2 85.9h0M376.5 101.1h0M371.6 90.6h0M366.2 100.8h0M365.7 96.3h0M374.2 82.1h0M377.3 98.1h0M367.9 104.6h0M367.4 93.6h0M372.7 95.9h0M347.3 90.0h0M380.5 96.9h0M357.0 88.5h0M365.5 83.1h0M371.8 95.9h0M365.7 86.9h0M377.2 90.3h0M383.6 100.8h0M367.4 95.4h0M372.9 88.8h0M371.9 79.3h0M376.8 84.4h0M367.0 89.4h0M365.8 84.0h0M364.9 92.5h0M367.9 75.9h0M375.1 99.0h0M357.8 87.9h0M373.3 93.0h0M365.6 90.4h0M364.3 97.7h0M352.0 85.4h0M359.0 96.7h0M375.2 81.7h0M361.9 105.9h0M379.1 91.2h0M358.9 98.9h0M355.4 96.7h0M368.7 81.6h0M358.0 101.3h0M370.5 88.0h0M375.0 84.9h0M370.5 89.2h0M366.8 100.1h0M358.7 79.2h0M370.9 102.4h0M370.8 109.7h0M364.6 86.6h0M365.5 95.6h0M362.0 94.4h0M368.6 79.2h0M367.3 91.1h0M365.2 83.8h0M370.5 86.6h0M371.9 76.4h0M369.9 85.5h0M367.5 91.6h0M365.1 97.4h0M374.0 87.8h0M367.5 79.9h0M376.1 98.9h0M371.7 84.4h0M381.0 87.5h0M367.1 101.6h0M366.8 98.7h0M371.0 92.9h0M370.4 87.0h0M367.3 88.9h0M368.3 95.0h0M373.0 83.7h0M367.9 96.1h0M356.6 93.7h0M360.5 92.5h0M379.8 89.0h0M362.2 103.6h0M366.2 92.5h0M364.9 83.1h0M364.9 84.8h0M367.2 89.5h0M376.0 96.0h0M367.7 85.9h0M363.8 93.6h0M368.0 85.9h0M371.9 77.5h0M354.3 89.0h0M380.6 94.5h0M357.1 99.0h0M369.6 82.9h0M378.8 75.7h0M374.6 98.5h0M376.9 81.2h0M372.8 90.2h0M364.7 97.0h0M384.7 90.4h0M373.8 82.9h0M371.0 89.7h0M370.0 96.6h0M369.9 89.7h0M368.7 80.4h0M377.6 98.0h0M363.9 87.9h0M381.2 96.3h0M362.0 96.0h0M357.2 87.2h0M364.7 98.6h0M369.0 94.4h0M365.2 106.5h0M364.4 85.9h0M362.7 100.2h0M364.9 86.1h0M358.9 104.4h0M361.7 81.1h0M364.1 88.4h0M352.2 90.6h0M380.2 90.5h0M350.7 90.6h0M365.0 81.2h0M370.6 77.6h0M367.7 91.8h0M376.1 99.1h0M369.6 94.9h0M363.4 90.1h0M370.0 90.9h0M374.8 90.8h0M379.6 76.1h0M366.4 91.3h0M374.2 81.5h0M368.4 93.0h0M357.7 78.5h0M350.7 92.5h0M361.1 79.8h0M358.2 86.9h0M347.9 87.1h0M368.0 83.5h0M372.7 96.4h0M370.8 91.6h0M355.7 95.2h0M359.9 99.5h0M354.7 100.3h0M364.3 97.6h0M363.8 93.1h0M365.2 85.9h0M363.0 105.3h0M376.5 83.4h0M367.9 85.5h0M366.8 96.4h0M367.8 102.5h0M381.3 87.1h0M366.5 98.1h0M373.8 88.8h0M361.6 96.6h0M376.6 103.0h0M369.7 100.7h0M355.0 93.7h0M377.8 95.4h0M358.2 100.9h0M360.4 91.3h0M373.5 86.3h0M374.9 84.9h0M369.6 75.8h0M368.7 100.7h0M367.0 80.1h0M368.8 100.9h0M365.5 83.5h0M379.2 85.4h0M367.7 88.8h0M380.3 95.5h0M382.5 94.1h0M376.2 88.5h0M373.7 81.6h0M360.8 91.3h0M362.8 84.2h0M362.4 83.4h0M363.8 91.8h0M374.3 97.3h0M358.6 110.5h0M374.1 86.1h0M377.9 83.9h0M373.2 81.3h0M376.8 81.5h0M347.8 89.2h0M369.0 96.2h0M372.2 90.4h0M370.5 104.2h0M370.6 103.5h0M368.1 84.5h0M366.7 84.4h0M368.2 87.9h0M377.0 94.4h0M360.2 87.1h0M366.0 84.0h0M375.5 93.1h0M366.9 104.4h0M368.1 98.6h0M359.5 87.5h0M361.6 91.2h0M370.4 95.0h0M350.1 79.5h0M360.4 88.1h0M370.4 99.4h0M369.8 100.9h0M370.1 88.8h0M372.9 90.2h0M354.2 91.7h0M354.2 81.6h0M365.2 115.1h0M357.4 94.2h0M353.3 95.0h0M366.1 112.3h0M370.8 95.1h0M372.3 104.4h0M367.9 95.3h0M364.2 79.8h0M380.9 87.9h0M364.6 108.0h0M363.9 92.6h0M364.0 96.9h0M366.8 81.7h0M366.3 91.6h0M370.1 90.8h0M362.3 102.0h0M371.5 97.3h0M374.9 83.1h0M373.5 103.7h0M368.7 86.4h0M365.9 97.4h0M382.5 92.9h0M369.7 99.4h0M382.0 102.4h0M385.1 77.8h0M354.4 82.2h0M377.5 90.7h0M371.0 91.5h0M362.1 85.6h0M374.9 92.0h0M375.2 93.6h0M372.3 93.4h0M376.2 93.7h0M369.1 93.1h0M369.5 98.1h0M383.1 89.7h0M373.0 82.9h0M362.1 100.1h0M351.6 98.8h0M363.9 101.6h0M357.4 105.0h0M361.6 98.8h0M372.7 90.4h0M365.1 90.2h0M366.4 83.2h0M383.4 84.1h0M381.5 76.9h0M370.4 107.4h0M365.3 85.4h0M371.8 92.5h0M358.7 91.3h0M357.5 91.3h0M367.1 99.0h0M362.6 87.6h0M364.3 85.6h0M367.7 96.1h0M367.4 88.0h0M372.2 75.4h0M360.4 88.3h0M367.6 91.9h0M369.3 84.4h0M373.8 95.8h0M367.6 93.0h0M358.6 92.6h0M349.3 77.6h0M363.7 93.5h0M353.9 91.4h0M364.3 105.8h0M366.0 88.5h0M357.8 97.0h0M367.8 94.6h0M369.8 93.8h0M357.0 97.1h0M363.5 93.6h0M362.3 79.2h0M348.3 95.2h0M358.6 97.8h0M367.7 99.6h0M365.2 81.2h0M371.2 88.9h0M356.2 104.6h0M362.1 105.6h0M358.5 101.2h0M361.5 96.4h0M361.0 79.3h0M367.0 93.7h0M369.1 90.6h0M369.2 99.4h0M361.8 97.6h0M368.7 88.3h0M360.4 105.5h0M366.8 95.5h0M376.9 83.4h0M378.1 90.1h0M369.6 83.8h0M357.1 78.2h0M369.8 93.4h0M381.1 86.8h0M373.5 98.4h0M371.0 97.6h0M368.3 106.0h0M365.3 84.7h0M357.3 81.8h0M364.4 88.8h0M359.3 106.7h0M371.1 85.5h0M373.8 91.2h0M364.9 104.6h0M360.7 98.4h0M360.4 97.8h0M365.5 85.0h0M372.4 87.8h0M368.3 90.8h0M345.5 79.8h0M362.5 90.4h0M381.7 102.1h0M367.6 79.9h0M368.2 107.1h0M368.9 94.0h0M360.2 96.4h0M350.8 97.8h0M373.0 83.3h0M349.8 83.8h0M370.2 92.8h0M365.2 94.4h0M366.0 84.6h0M354.0 92.5h0M367.8 101.2h0M357.5 78.6h0M357.2 100.5h0M358.8 107.4h0M363.6 95.7h0M360.2 88.9h0M365.8 104.8h0M374.7 99.1h0M370.3 94.8h0M360.6 103.9h0M373.9 103.7h0M362.0 82.6h0M360.4 99.1h0M378.8 85.3h0M367.8 94.6h0M358.3 85.8h0M373.8 86.2h0M370.0 87.9h0M373.4 94.2h0M371.1 97.8h0M356.8 95.2h0M363.1 90.6h0M377.1 101.6h0M361.3 98.6h0M362.8 94.0h0M361.5 109.0h0M360.4 95.8h0M370.1 89.3h0M368.7 104.3h0M367.1 92.4h0M366.7 80.7h0M361.7 88.7h0M372.0 99.7h0M376.6 97.3h0M372.8 112.4h0M360.5 82.2h0M370.1 104.3h0M368.0 76.0h0M364.4 84.2h0M357.2 113.3h0M362.6 102.8h0M367.5 86.9h0M363.2 86.1h0M359.8 90.6h0M365.7 85.5h0M364.5 96.4h0M359.6 92.1h0M371.2 78.3h0M371.9 88.5h0M370.0 81.7h0M356.7 97.9h0M376.9 91.1h0M374.8 84.9h0M355.6 86.9h0M365.2 75.6h0M376.5 99.1h0M375.8 98.8h0M348.3 88.2h0M362.4 93.1h0M360.6 83.4h0M363.8 88.0h0M367.4 90.4h0M377.3 90.0h0M369.2 101.5h0M369.4 99.6h0M360.0 85.1h0M373.0 75.9h0M369.2 97.0h0M365.4 109.3h0M371.2 89.0h0M364.2 91.3h0M355.7 84.9h0M358.1 104.5h0M378.1 86.2h0M369.3 88.2h0M369.0 86.4h0M365.2 95.7h0M363.5 102.8h0M359.7 88.8h0M369.1 90.8h0M365.7 88.0h0M370.1 90.6h0M347.1 87.0h0M371.8 91.9h0M373.1 113.5h0M375.3 92.8h0M364.4 104.3h0M369.4 116.0h0M360.1 102.3h0M351.2 97.9h0M382.6 94.0h0M369.3 91.6h0M367.9 91.1h0M374.3 90.6h0M357.2 89.6h0M360.7 97.6h0M380.1 92.1h0M371.4 82.8h0M384.3 82.2h0M369.9 92.2h0M381.6 88.6h0M367.5 102.0h0M369.3 91.6h0M364.9 96.1h0M371.9 80.5h0M366.7 91.2h0M359.0 91.5h0M360.5 85.7h0M373.0 88.5h0M359.4 77.2h0M364.8 88.4h0M370.2 76.9h0M364.9 98.0h0M377.7 109.7h0M368.9 88.2h0M373.6 82.1h0M359.2 92.6h0M372.5 93.3h0M349.3 106.6h0M367.6 89.7h0M375.1 101.1h0M353.2 76.6h0M366.0 96.3h0M353.0 106.4h0M364.3 105.0h0M362.3 104.1h0M358.8 93.5h0M353.8 85.7h0M371.9 86.3h0M372.9 88.5h0M365.5 103.6h0M374.3 77.3h0M368.1 98.6h0M365.5 102.2h0M363.6 82.6h0M376.7 84.1h0M362.5 110.6h0M369.1 88.4h0M366.6 81.2h0M361.1 92.3h0M371.1 95.9h0M356.8 91.4h0M347.8 92.7h0M357.4 92.8h0M362.4 82.4h0M368.3 80.5h0M360.7 85.4h0M367.3 98.8h0M362.2 98.8h0M368.9 97.6h0M375.8 97.0h0M382.6 98.7h0M373.9 93.6h0M373.7 80.7h0M357.8 94.4h0M369.6 80.2h0M361.8 83.2h0M365.2 98.9h0M366.3 107.7h0M363.4 93.4h0M358.7 80.7h0M366.2 89.9h0M366.1 86.9h0M378.6 95.6h0M361.8 106.5h0M373.9 96.5h0M380.1 91.1h0M364.1 92.8h0M351.5 105.1h0M364.1 89.8h0M380.0 94.3h0M366.5 104.0h0M369.4 83.8h0M377.8 96.9h0M368.6 104.9h0M379.7 90.1h0M358.4 83.7h0M372.6 90.1h0M372.3 86.5h0M370.5 102.4h0M355.3 90.1h0M375.1 86.9h0M365.0 95.5h0M346.0 88.2h0M361.2 89.2h0M360.5 92.3h0M370.5 92.0h0M354.8 89.2h0M352.9 90.5h0M369.9 87.1h0M370.7 92.3h0M364.5 104.5h0M367.8 92.7h0M375.1 86.9h0M360.8 89.4h0M378.2 89.9h0M381.8 90.2h0M369.3 88.7h0M386.1 93.5h0M370.7 87.6h0M370.2 95.3h0M384.3 84.4h0M362.2 93.2h0M384.1 86.7h0M361.2 93.7h0M370.1 89.1h0M375.8 87.9h0M366.6 92.1h0M367.8 96.6h0M359.4 88.5h0M369.6 109.2h0M376.5 102.3h0M369.9 77.8h0M378.3 80.7h0M368.0 96.8h0M374.3 92.8h0M368.0 85.1h0M382.6 79.0h0M364.6 105.6h0M370.5 102.0h0M376.4 90.6h0M356.4 85.7h0M379.9 102.2h0M373.4 104.2h0M371.0 112.0h0M372.3 89.2h0M374.4 93.4h0M366.0 88.1h0M371.4 99.6h0M359.7 76.4h0M365.7 96.2h0M372.5 115.6h0M365.3 92.9h0M376.7 89.0h0M361.5 90.3h0M362.2 82.2h0M367.3 82.8h0M362.0 93.1h0M380.4 99.3h0M378.4 88.6h0M350.7 89.7h0M372.8 95.2h0M366.4 85.3h0M362.1 93.1h0M371.9 92.6h0M368.8 85.2h0M374.3 86.0h0M361.0 99.3h0M357.1 100.5h0M364.0 103.4h0M356.1 75.6h0M362.0 90.7h0M377.7 108.0h0M366.3 97.0h0M368.8 78.9h0M380.0 83.7h0M381.7 99.0h0M365.7 99.5h0M364.7 87.6h0M366.9 89.3h0M360.6 76.2h0M373.0 109.6h0M367.1 92.4h0M366.1 98.2h0M366.6 96.3h0M361.9 83.8h0M371.3 115.0h0M354.2 97.0h0M360.9 101.5h0M350.4 102.0h0M354.5 102.4h0M356.3 98.6h0M364.0 97.7h0M362.3 92.2h0M377.5 101.2h0M367.8 89.3h0M364.1 97.5h0M363.2 84.2h0M358.0 90.2h0M367.7 97.3h0M374.1 95.0h0M378.4 79.2h0M381.2 87.0h0M363.6 97.1h0M358.8 92.5h0M371.6 100.8h0M368.2 94.3h0M370.5 93.0h0M377.2 86.6h0M373.8 87.2h0M371.0 93.0h0M367.6 84.6h0M356.9 89.6h0M369.7 116.0h0M363.4 83.3h0M367.8 95.5h0M363.4 86.8h0M375.0 102.1h0M357.4 85.3h0M367.1 84.3h0M367.1 89.4h0M375.0 88.7h0M375.0 101.2h0M372.9 94.1h0M359.4 92.0h0M355.4 88.6h0M370.5 80.1h0M365.4 103.1h0M373.7 95.1h0M369.7 95.0h0M364.7 104.9h0M365.3 104.5h0M370.0 107.0h0M362.7 95.8h0M347.4 98.3h0M361.1 100.3h0M370.6 92.6h0M379.3 108.8h0M352.9 119.9h0M379.6 100.9h0M379.5 122.0h0M346.3 98.6h0M379.3 93.1h0M348.2 116.5h0M354.2 119.6h0M354.9 75.9h0M364.5 97.1h0M349.6 116.0h0M342.7 118.9h0M356.8 76.2h0M356.6 113.3h0M356.0 113.0h0M341.0 118.1h0M380.8 104.3h0M350.0 114.8h0M361.8 107.6h0M341.4 109.6h0M368.6 76.8h0M357.5 115.1h0M380.5 117.9h0M349.4 114.9h0M377.4 96.9h0M371.5 95.0h0M343.8 81.7h0M371.2 97.3h0M340.8 86.8h0M361.1 98.6h0M341.7 115.1h0M345.5 102.8h0M344.7 122.0h0M381.0 113.0h0M357.9 105.8h0M372.1 98.0h0M358.6 115.9h0M342.1 90.6h0M350.6 100.8h0M360.7 118.2h0M361.9 116.4h0M347.5 98.3h0M356.1 108.9h0M375.3 84.9h0M365.4 107.9h0M347.1 97.8h0M346.1 108.6h0M365.8 92.7h0M373.4 80.8h0M357.7 120.8h0M369.3 92.9h0M354.1 115.9h0M343.2 111.9h0M351.0 92.0h0M362.3 77.9h0M365.4 98.8h0M351.3 88.4h0M378.9 122.1h0M342.0 117.9h0M377.9 85.3h0M362.4 92.6h0M373.7 92.6h0M342.2 86.5h0M348.9 101.7h0M366.6 116.3h0M345.8 121.7h0M347.1 92.3h0M367.8 107.8h0M343.0 99.4h0M379.0 87.9h0M368.8 101.5h0M376.2 115.2h0M375.5 116.4h0M373.8 97.1h0M345.3 80.2h0M346.8 111.2h0M375.3 99.3h0M363.2 117.2h0M376.5 95.2h0M354.0 86.2h0M372.5 99.7h0M345.1 110.7h0M376.3 110.9h0M358.6 114.0h0M354.5 115.9h0M353.6 121.7h0M371.8 99.4h0M343.9 82.1h0M369.3 120.0h0M368.9 108.8h0M374.5 118.0h0M370.8 108.3h0M343.5 79.1h0M381.8 113.7h0M363.8 100.0h0M378.6 121.9h0M354.4 116.1h0M377.7 119.2h0M351.8 119.1h0M351.8 96.4h0M372.9 78.3h0M342.9 95.6h0M363.2 78.6h0M367.2 104.2h0M343.1 98.8h0M369.8 119.3h0M345.8 98.3h0M359.9 121.8h0M373.7 77.0h0M346.6 103.9h0M368.3 99.2h0M354.5 119.7h0M370.5 119.1h0M352.2 119.0h0M370.0 98.4h0M348.4 119.8h0M363.5 92.7h0M357.7 78.1h0M379.8 104.3h0M362.1 76.3h0M349.0 105.8h0M347.5 121.0h0M346.5 109.5h0M377.9 93.6h0M363.1 103.4h0M381.0 88.4h0M353.3 94.3h0M376.3 117.0h0M379.1 105.7h0M344.8 89.7h0M366.5 92.2h0M380.6 121.8h0M358.1 88.4h0M341.3 107.3h0M381.5 104.8h0M356.0 89.9h0M343.1 110.9h0M355.5 104.2h0M357.9 111.5h0M351.4 103.3h0M356.5 108.0h0M356.9 113.4h0M348.5 119.5h0M362.3 85.4h0M364.1 116.2h0M347.3 118.6h0M381.2 92.9h0M349.6 77.0h0M354.4 97.5h0M361.9 118.9h0M351.9 121.9h0M356.9 102.3h0M351.5 110.5h0M360.4 120.3h0M370.8 119.1h0M344.7 87.3h0M353.7 80.8h0M371.9 93.4h0M362.8 102.7h0M352.7 91.0h0M380.8 109.2h0M346.1 114.4h0M350.8 107.7h0M368.0 102.4h0M372.8 87.4h0M363.5 77.6h0M372.0 105.4h0M371.4 109.3h0M353.7 76.3h0M370.7 86.3h0M356.7 92.9h0M358.3 91.9h0M340.9 109.9h0M377.6 93.8h0M361.2 92.5h0M362.6 83.9h0M352.7 98.3h0M371.1 87.3h0M357.3 121.3h0M355.8 117.9h0M370.5 109.7h0M351.8 75.9h0M375.0 93.9h0M378.8 96.8h0M356.9 119.3h0M355.1 82.6h0M365.8 121.9h0M381.0 86.7h0M351.1 112.8h0M370.1 95.1h0M373.9 120.4h0M352.3 111.9h0M383.0 118.0h0M358.5 119.3h0M382.1 98.9h0M362.7 89.8h0M382.9 94.6h0M360.2 114.6h0M370.6 110.5h0M366.9 100.6h0M381.4 97.9h0M350.5 94.4h0M366.2 100.6h0M358.2 122.1h0M366.2 95.4h0M358.1 116.9h0M344.0 85.9h0M362.9 90.6h0M355.3 119.6h0M363.2 113.2h0M344.1 100.8h0M372.5 101.0h0M363.2 109.3h0M380.9 110.6h0M342.5 92.2h0M368.7 85.4h0M367.5 105.7h0M368.5 89.3h0M382.3 118.8h0M350.9 78.7h0M377.9 118.3h0M357.9 112.0h0M374.7 93.8h0M365.7 87.7h0M364.7 88.2h0M369.0 117.2h0M372.3 110.0h0M343.7 108.9h0M377.1 87.8h0M366.0 96.1h0M368.9 115.2h0M356.4 81.7h0M359.0 83.5h0M352.8 84.8h0M406.9 92.9h0M407.1 110.6h0M403.8 121.7h0M404.9 111.4h0M386.3 93.6h0M403.5 111.0h0M387.6 88.8h0M405.1 118.2h0M387.1 84.5h0M387.8 88.7h0M387.8 104.7h0M404.3 111.3h0M387.9 87.9h0M406.4 95.4h0M406.1 93.7h0M405.8 103.9h0M404.0 102.6h0M387.1 106.0h0M404.6 88.4h0M388.5 103.5h0M404.2 116.2h0M404.0 103.1h0M387.8 90.5h0M387.2 91.9h0M388.2 107.5h0M389.1 104.9h0M384.9 85.3h0M405.2 86.4h0M387.5 120.6h0M389.3 108.7h0M385.8 84.9h0M388.6 121.8h0M386.7 102.4h0M404.1 97.5h0M404.5 94.2h0M403.9 101.8h0M388.1 96.5h0M388.1 91.2h0M387.6 100.8h0M404.7 107.9h0M388.2 109.8h0M387.7 101.5h0M386.5 96.2h0M405.1 102.3h0M388.8 104.8h0M405.5 102.7h0M386.9 107.8h0M404.8 91.5h0M403.9 92.5h0M388.8 85.0h0M386.7 114.7h0M384.5 107.0h0M405.3 99.6h0M388.6 93.4h0M405.7 91.3h0M406.4 98.5h0M404.7 92.7h0M403.7 101.8h0M387.8 102.6h0M404.3 112.8h0M410.4 85.8h0M386.9 87.0h0M386.3 110.8h0M387.8 93.3h0M405.5 85.9h0M405.4 98.5h0M388.0 89.4h0M388.0 113.5h0M387.9 99.6h0M406.9 98.4h0M404.3 89.3h0M405.0 116.9h0M389.1 102.6h0M407.3 97.0h0M385.7 87.2h0M405.4 119.3h0M404.7 115.3h0M388.6 116.9h0M387.1 113.3h0M385.6 91.5h0M388.3 97.2h0M403.3 111.0h0M407.4 117.8h0M388.8 91.9h0M387.6 91.9h0M388.2 111.9h0M388.9 109.0h0M385.3 97.2h0M405.8 116.6h0M387.0 92.1h0M405.1 98.6h0M386.5 121.3h0M388.3 110.3h0M403.8 100.2h0M388.0 106.7h0M388.3 89.3h0M405.9 86.3h0M387.6 120.8h0M406.5 85.0h0M404.3 113.7h0M404.6 87.7h0M404.3 103.6h0M403.5 108.9h0M405.2 88.4h0M405.1 99.9h0M388.9 111.2h0M387.9 108.9h0M407.2 97.4h0M404.0 113.9h0M406.9 91.4h0M403.3 118.3h0M385.9 114.8h0M409.7 104.0h0M405.5 98.9h0M404.6 92.0h0M409.0 105.0h0M389.2 102.6h0M385.0 95.7h0M387.8 96.3h0M383.1 119.4h0M406.5 96.5h0M386.2 106.5h0M389.2 110.5h0M404.4 111.9h0M406.7 96.8h0M388.5 93.4h0M404.0 103.6h0M403.6 114.2h0M405.7 111.1h0M388.8 108.2h0M389.6 118.8h0M403.7 113.2h0M405.5 92.9h0M387.0 117.3h0M388.9 84.8h0M388.2 90.4h0M404.4 114.8h0M406.6 118.3h0M405.5 110.2h0M385.8 106.1h0M403.3 111.7h0M386.7 117.6h0M404.2 94.9h0M388.6 87.6h0M386.9 111.5h0M405.2 118.4h0M404.6 120.5h0M403.6 110.7h0M404.9 95.7h0M387.8 118.7h0M405.1 98.6h0M406.1 95.6h0M406.6 118.1h0M386.0 112.0h0M405.3 98.0h0M403.8 96.5h0M406.7 95.3h0M404.0 107.8h0M387.8 110.3h0M388.8 97.8h0M385.5 92.4h0M404.3 118.1h0M388.9 112.4h0M387.4 91.9h0M405.1 112.9h0M403.7 107.1h0M385.1 109.2h0M387.5 109.7h0M407.2 97.7h0M405.0 96.0h0M403.7 102.5h0M406.2 101.6h0M405.5 98.2h0M404.2 107.4h0M387.5 86.5h0M388.2 100.5h0M404.4 113.8h0M407.7 107.4h0M388.2 103.1h0M387.9 97.6h0M406.6 98.7h0M404.5 116.3h0M389.0 97.3h0M384.4 109.5h0M404.0 88.3h0M388.6 116.3h0M387.8 108.5h0M388.4 114.0h0M387.8 116.1h0M386.9 99.8h0M388.4 96.6h0M386.9 91.7h0M385.6 94.2h0M403.8 96.5h0M388.3 88.8h0M386.8 103.4h0M404.0 86.6h0M407.4 85.7h0M384.2 117.5h0M405.8 109.9h0M404.8 105.5h0M408.8 105.2h0M407.8 98.6h0M407.2 114.2h0M403.4 117.0h0M388.6 85.1h0M386.6 102.2h0M385.0 109.3h0M388.5 90.4h0M388.1 116.3h0M386.2 86.4h0M387.1 93.1h0M405.5 91.4h0M407.7 99.7h0M403.9 111.0h0M386.1 102.5h0M388.4 105.5h0M389.6 120.7h0M388.2 87.4h0M407.6 84.8h0M388.7 115.0h0M405.6 90.6h0M406.4 117.0h0M406.0 94.4h0M386.9 114.9h0M387.7 109.8h0M406.6 110.6h0M405.3 101.2h0M389.3 112.3h0M403.8 99.9h0M404.5 108.3h0M387.7 91.6h0M386.7 103.3h0M389.2 115.5h0M387.3 84.6h0M404.7 102.6h0M388.4 108.5h0M387.8 96.3h0M386.5 86.4h0M404.9 111.5h0M406.0 97.7h0M388.2 90.2h0M388.3 105.8h0M404.8 99.3h0M404.0 106.8h0M403.7 107.4h0M405.3 104.4h0M389.0 118.7h0M386.2 90.8h0M387.9 98.0h0M405.7 118.5h0M388.3 84.5h0M389.4 115.6h0M405.2 102.2h0M405.1 96.9h0M387.3 114.1h0M386.7 85.3h0M384.2 100.0h0M389.1 120.5h0M403.2 116.8h0M403.9 111.9h0M405.7 85.7h0M404.4 117.1h0M405.0 109.0h0M404.7 121.0h0M404.4 95.6h0M389.1 110.8h0M404.4 92.8h0M388.9 106.1h0M407.3 95.0h0M409.8 114.4h0M387.9 103.3h0M403.5 103.2h0M407.2 91.1h0M389.3 109.5h0M406.6 117.3h0M406.1 97.4h0M407.7 99.6h0M387.9 109.5h0M404.5 109.7h0M386.3 99.9h0M405.0 92.2h0M405.0 117.2h0M404.8 101.5h0M382.4 118.7h0M404.6 111.6h0M387.7 91.4h0M388.2 109.4h0M387.0 117.1h0M403.9 87.7h0M388.3 114.2h0M404.3 101.4h0M404.3 103.5h0M404.7 91.4h0M388.0 107.1h0M405.4 105.6h0M387.6 120.0h0M405.3 108.9h0M405.4 88.5h0M389.5 119.8h0M403.9 105.5h0M387.9 111.5h0M409.3 94.4h0M386.3 100.6h0M405.3 121.3h0M404.6 91.0h0M388.9 93.3h0M404.9 96.8h0M405.6 98.5h0M405.2 97.7h0M404.2 89.7h0M404.8 88.3h0M388.3 93.5h0M387.0 100.3h0M387.1 97.2h0M407.1 113.9h0M405.6 119.9h0M387.9 111.9h0M386.1 96.2h0M406.5 113.1h0M404.5 95.7h0M387.7 102.4h0M404.3 102.7h0M405.6 116.2h0M404.0 96.4h0M404.6 91.7h0M405.8 113.8h0M385.1 113.3h0M404.8 89.6h0M387.2 104.0h0M385.6 89.5h0M405.6 84.4h0M406.0 95.8h0M385.2 94.7h0M404.1 103.6h0M388.1 86.9h0M403.2 119.9h0M403.3 115.5h0M405.2 89.6h0M386.8 88.4h0M406.5 100.3h0M387.9 87.0h0M404.7 86.0h0M403.9 112.8h0M389.0 107.0h0M387.6 107.7h0M389.5 118.2h0M388.9 119.4h0M404.6 113.2h0M386.6 104.3h0M389.0 111.1h0M405.9 89.6h0M387.8 98.0h0M405.1 86.7h0M388.9 90.8h0M387.1 111.2h0M388.6 98.4h0M404.7 85.9h0M388.3 107.5h0M406.8 95.4h0M404.1 112.3h0M386.6 113.1h0M406.5 92.3h0M386.8 114.6h0M406.0 114.6h0M387.4 91.7h0M388.5 111.2h0M387.9 90.7h0M389.4 121.2h0M388.7 97.6h0M403.6 110.8h0M405.1 84.7h0M388.7 119.3h0M387.7 103.5h0M406.0 104.5h0M388.2 99.5h0M403.3 116.5h0M403.6 119.3h0M404.0 93.5h0M386.9 108.3h0M403.5 109.4h0M407.6 112.8h0M385.7 104.8h0M404.1 105.5h0M403.0 119.5h0M387.5 96.8h0M404.1 115.0h0M386.4 119.0h0M388.8 94.1h0M387.7 112.1h0M387.5 92.7h0M387.5 101.4h0M388.9 94.2h0M388.3 105.2h0M385.6 87.2h0M389.5 114.4h0M404.1 104.0h0M406.8 107.6h0M404.6 108.6h0M405.3 104.0h0M404.6 116.6h0M387.3 113.2h0M388.2 118.0h0M386.9 93.5h0M388.6 110.5h0M386.8 88.8h0M403.3 110.6h0M405.3 102.1h0M387.5 105.9h0M406.0 88.7h0M387.1 87.6h0M388.3 84.7h0M407.2 93.3h0M405.2 97.5h0M388.0 115.6h0M386.9 116.5h0M405.5 88.1h0M407.1 97.7h0M386.6 95.4h0M388.5 95.0h0M406.5 95.7h0M404.1 95.0h0M388.4 100.5h0M403.9 101.9h0M388.8 98.7h0M405.2 87.5h0M406.3 98.4h0M386.6 110.3h0M387.3 110.9h0M383.9 101.7h0M405.5 94.8h0M404.6 90.9h0M405.7 109.9h0M406.0 103.4h0M386.6 108.5h0M385.1 94.4h0M386.0 86.1h0M388.7 107.0h0M388.6 104.6h0M388.3 104.5h0M388.3 109.9h0M385.7 86.2h0M405.3 106.6h0M387.8 111.1h0M388.8 85.8h0M407.6 87.9h0M388.2 116.6h0M387.2 97.4h0M406.5 100.8h0M386.9 91.3h0M405.3 104.8h0M404.1 92.8h0M406.0 106.4h0M388.5 100.1h0M388.4 96.5h0M405.3 93.7h0M403.9 116.9h0M384.7 113.9h0M389.5 118.4h0M403.0 117.9h0M387.0 95.5h0M387.8 97.8h0M410.1 105.7h0M384.7 88.0h0M404.0 111.1h0M404.2 107.0h0M385.4 100.5h0M388.3 90.5h0M404.3 114.8h0M388.2 91.0h0M404.0 115.3h0M385.6 93.8h0M406.6 85.7h0M386.3 94.8h0M388.8 92.5h0M386.4 88.6h0M387.7 120.9h0M389.4 117.7h0M387.1 90.2h0M388.4 91.7h0M388.0 113.5h0M388.7 120.5h0M388.4 96.0h0M405.0 98.7h0M387.9 111.4h0M404.9 103.5h0M405.4 90.8h0M403.8 121.2h0M404.9 92.6h0M402.9 121.7h0M404.1 94.7h0M388.0 100.0h0M388.4 86.0h0M403.4 121.5h0M404.9 113.4h0M388.9 105.4h0M386.6 107.7h0M404.2 95.6h0M406.3 94.4h0M387.3 98.2h0M388.0 88.9h0M405.2 121.9h0M389.1 114.8h0M387.2 87.8h0M388.6 104.0h0M388.9 94.6h0M406.5 104.4h0M403.9 104.2h0M389.1 115.7h0M388.9 113.7h0M386.3 106.7h0M406.1 114.3h0M386.5 103.8h0M404.1 105.2h0M405.2 119.1h0M388.3 120.0h0M384.6 115.8h0M387.0 95.0h0M404.5 87.8h0M403.9 119.7h0M403.9 101.7h0M406.2 109.0h0M388.3 115.0h0M404.3 121.1h0M386.8 91.0h0M387.1 109.5h0M407.6 111.1h0M384.9 90.6h0M388.5 112.8h0M389.3 113.8h0M386.3 106.9h0M404.0 95.7h0M388.2 108.4h0M404.0 104.8h0M387.5 121.4h0M388.6 105.9h0M403.6 103.1h0M389.6 121.2h0M403.6 113.5h0M404.8 100.8h0M388.3 115.6h0M407.3 106.1h0M404.4 95.4h0M388.6 112.1h0M404.5 89.0h0M404.3 93.0h0M388.4 90.7h0M387.5 99.8h0M405.0 109.6h0M405.7 89.9h0M403.7 118.6h0M388.1 110.9h0M405.9 106.2h0M386.6 102.7h0M387.4 111.3h0M403.9 88.3h0M405.3 86.9h0M387.9 105.7h0M386.5 91.2h0M388.0 100.3h0M404.7 115.5h0M405.0 105.1h0M405.9 119.8h0M388.5 106.1h0M387.6 120.6h0M385.7 112.7h0M403.0 116.5h0M404.7 103.0h0M384.2 95.1h0M387.8 86.1h0M386.5 99.4h0M405.9 86.4h0M403.2 114.7h0M406.0 113.5h0M388.7 109.1h0M389.3 109.9h0M386.5 96.6h0M404.1 116.9h0M388.8 121.6h0M403.9 107.9h0M389.0 101.5h0M406.1 96.9h0M405.4 99.4h0M403.9 99.8h0M404.8 105.5h0M387.8 121.5h0M386.7 99.6h0M388.6 104.1h0M388.9 93.7h0M403.3 119.9h0M406.3 120.0h0M404.5 106.0h0M389.2 112.0h0M407.1 110.9h0M387.8 84.5h0M404.1 114.3h0M403.9 93.7h0M408.3 94.3h0M405.2 92.6h0M403.9 94.1h0M403.3 115.0h0M404.6 103.2h0M406.3 91.0h0M386.4 105.7h0M387.1 105.5h0M385.6 108.7h0M388.1 111.9h0M388.9 95.6h0M387.3 86.2h0M403.7 100.2h0M388.2 99.2h0M405.0 115.5h0M387.6 111.8h0M389.2 105.3h0M388.1 92.3h0M389.1 106.1h0M387.1 119.6h0M388.6 120.1h0M406.8 91.7h0M404.0 119.7h0M388.9 103.9h0M405.2 92.6h0M405.3 121.0h0M383.6 101.1h0M387.8 88.1h0M387.9 107.7h0M403.7 100.6h0M385.7 86.1h0M404.9 85.8h0M403.1 118.9h0M385.7 103.9h0M407.5 88.2h0M389.0 115.1h0M388.6 93.4h0M387.8 94.4h0M405.0 93.8h0M385.4 97.8h0M386.3 118.7h0M387.5 106.6h0M405.6 96.0h0M406.8 104.9h0M407.2 91.1h0M403.0 117.5h0M387.7 118.6h0M405.5 119.5h0M404.7 85.0h0M404.6 100.5h0M403.1 117.9h0M403.7 107.9h0M403.7 119.9h0M406.4 92.0h0M404.1 109.0h0M404.2 97.9h0M387.7 94.0h0M405.7 86.2h0M387.4 113.6h0M388.7 106.7h0M389.3 109.9h0M405.9 95.9h0M403.7 113.4h0M386.7 91.1h0M389.1 118.3h0M388.0 100.0h0M407.6 96.5h0M404.5 94.3h0M389.1 99.4h0M404.7 117.8h0M404.0 93.3h0M386.1 117.9h0M388.3 121.8h0M407.1 117.1h0M389.1 108.1h0M404.6 88.0h0M387.9 99.8h0M386.0 117.0h0M406.6 91.6h0M404.0 120.6h0M389.1 118.6h0M406.4 85.9h0M386.7 97.6h0M406.3 118.4h0M386.9 92.6h0M404.4 85.1h0M404.6 102.5h0M405.7 89.7h0M403.6 106.0h0M403.5 109.8h0M404.3 98.2h0M386.8 87.8h0M386.9 94.9h0M386.1 97.9h0M387.2 86.9h0M406.2 92.3h0M403.5 109.8h0M407.0 95.6h0M404.9 98.7h0M387.8 116.7h0M384.7 108.7h0M404.0 98.8h0M388.5 93.8h0M388.2 94.2h0M404.5 104.0h0M405.8 114.3h0M406.5 92.3h0M386.4 111.1h0M405.9 113.1h0M389.0 121.0h0M404.3 114.3h0M388.6 122.1h0M405.1 104.8h0M387.1 108.9h0M385.7 104.4h0M387.2 92.3h0M407.2 104.6h0M386.4 118.6h0M405.1 105.9h0M403.7 121.1h0M388.9 120.5h0M406.7 100.1h0M387.0 88.9h0M404.1 100.2h0M406.8 102.0h0M388.9 116.5h0M405.6 122.0h0M403.5 105.1h0M386.8 109.8h0M406.1 110.2h0M387.2 93.6h0M387.5 106.4h0M387.1 104.3h0M403.7 112.5h0M405.5 104.5h0M404.7 108.5h0M406.3 93.6h0M386.0 114.1h0M406.4 104.3h0M403.9 105.6h0M387.5 106.5h0M403.5 106.3h0M404.8 118.4h0M387.5 112.4h0M382.9 101.2h0M410.3 88.2h0M406.8 93.1h0M407.0 120.2h0M388.7 91.0h0M388.2 111.1h0M388.2 102.3h0M407.4 111.1h0M405.0 91.9h0M387.2 107.1h0M406.5 91.8h0M388.2 88.4h0M403.7 109.7h0M389.3 114.6h0M404.5 100.8h0M406.2 96.6h0M387.5 116.0h0M389.4 117.2h0M404.8 98.8h0M388.0 88.0h0M385.1 89.1h0M408.3 91.1h0M406.8 88.4h0M389.2 111.4h0M387.8 115.3h0M387.7 102.5h0M405.0 85.6h0M405.7 118.8h0M404.1 102.2h0M404.7 97.3h0M388.0 117.3h0M405.1 96.8h0M407.0 112.7h0M405.3 100.8h0M389.0 99.5h0M386.8 100.0h0M404.1 87.4h0M384.2 84.4h0M388.3 119.2h0M405.0 93.7h0M388.4 109.6h0M388.7 106.5h0M403.5 114.6h0M385.8 108.4h0M404.7 105.3h0M389.0 100.9h0M404.7 116.5h0M387.9 95.2h0M388.9 98.3h0M385.7 121.2h0M387.6 116.9h0M404.5 110.0h0M389.3 111.8h0M389.1 108.3h0M404.0 100.7h0M405.6 92.0h0M387.6 109.1h0M388.2 106.8h0M406.0 117.6h0M386.6 109.8h0M405.0 105.1h0M405.1 110.2h0M385.6 109.8h0M404.9 115.8h0M404.5 111.1h0M388.8 110.0h0M385.9 97.4h0M405.6 112.6h0M405.0 93.3h0M403.4 117.1h0M405.2 102.1h0M388.6 93.1h0M386.6 110.3h0M404.9 88.0h0M387.2 117.3h0M404.7 86.1h0M403.9 115.7h0M403.3 110.9h0M386.1 110.7h0M404.6 113.1h0M406.8 88.8h0M404.1 115.2h0M389.3 108.7h0M387.7 108.5h0M405.3 84.9h0M385.3 113.7h0M404.8 88.5h0M386.3 106.2h0M387.1 104.8h0M387.4 116.3h0M407.4 91.0h0M406.7 101.3h0M387.9 90.6h0M388.1 110.5h0M384.5 88.3h0M385.3 88.3h0M385.2 105.2h0M403.9 111.2h0M387.1 91.1h0M387.6 108.1h0M406.1 92.4h0M406.2 92.7h0M386.5 109.0h0M386.5 101.1h0M388.2 106.0h0M388.6 95.7h0M386.2 99.8h0M389.4 122.1h0M387.0 86.4h0M403.7 108.1h0M405.8 96.6h0M404.2 102.5h0M404.0 106.4h0M404.0 92.5h0M398.6 78.9h0M399.3 79.1h0M389.0 86.3h0M398.0 79.5h0M403.1 83.6h0M400.2 78.9h0M402.6 84.2h0M400.4 81.0h0M397.8 78.2h0M393.1 77.3h0M402.1 83.2h0M401.4 82.1h0M403.2 83.7h0M392.4 79.8h0M400.3 79.3h0M400.9 81.4h0M397.3 78.2h0M400.3 80.8h0M391.0 80.5h0M401.6 80.8h0M401.8 82.1h0M401.5 81.0h0M400.1 80.2h0M388.9 85.3h0M393.3 77.6h0M389.8 84.4h0M394.4 78.9h0M390.9 80.2h0M392.1 79.8h0M391.6 80.9h0M392.1 79.8h0M393.3 78.5h0M402.8 84.0h0M403.0 84.7h0M389.1 85.1h0M398.7 79.3h0M395.2 79.2h0M396.1 77.3h0M397.5 78.0h0M391.1 82.6h0M393.1 80.2h0M395.3 79.1h0M398.6 78.2h0M397.2 79.0h0M398.7 78.0h0M392.7 80.0h0M403.8 83.9h0M391.9 80.5h0M392.8 80.4h0M392.1 80.4h0M400.2 79.5h0M402.8 84.2h0M395.4 77.7h0M394.5 77.6h0M389.5 84.1h0M393.6 77.8h0M393.4 80.0h0M398.7 79.5h0M399.7 78.4h0M398.0 78.5h0M402.7 81.9h0M396.0 79.0h0M394.4 79.0h0M395.2 79.0h0M391.2 81.8h0M397.0 79.3h0M402.5 82.7h0M389.0 86.2h0M394.6 79.6h0M393.3 80.1h0M395.7 79.1h0M396.3 79.2h0M388.9 85.8h0M394.5 77.4h0M392.9 80.4h0M392.0 80.9h0M394.4 76.5h0M394.6 79.3h0M402.9 83.8h0M397.6 79.5h0M390.9 81.7h0M391.4 80.0h0M395.8 78.3h0M389.6 84.6h0M396.2 79.2h0M394.2 78.1h0M402.6 83.0h0M395.5 79.0h0M402.7 84.2h0M391.5 80.0h0M399.3 79.2h0M395.4 77.9h0M401.3 79.4h0M396.4 75.9h0M400.4 80.5h0M398.5 79.1h0M400.5 80.0h0M401.9 82.6h0M398.5 78.0h0M395.5 76.7h0M397.3 78.0h0M392.2 80.7h0M390.4 83.0h0M394.1 79.3h0M392.6 80.5h0M395.6 77.0h0M391.3 80.9h0M389.4 84.7h0M396.1 77.0h0M391.8 80.5h0M400.5 79.0h0M389.3 84.3h0M393.7 79.8h0M401.5 81.6h0M389.3 85.6h0M398.3 79.1h0M393.3 80.1h0M401.7 80.4h0M392.3 80.6h0M392.5 79.7h0M399.1 78.9h0M390.2 80.3h0M395.2 77.9h0M394.9 79.5h0M395.4 79.3h0M389.7 84.8h0M394.8 79.5h0M399.3 79.0h0M389.9 83.4h0M395.4 79.0h0M390.1 82.5h0M398.1 79.1h0M398.1 79.4h0M393.9 78.6h0M390.8 82.1h0M391.3 81.8h0M399.7 78.3h0M401.9 81.0h0M402.7 83.2h0M390.7 83.1h0M389.1 85.1h0M390.5 82.5h0M396.0 79.0h0M398.6 78.9h0M401.4 81.4h0M389.0 85.5h0M401.1 78.9h0M394.3 79.0h0M399.4 79.6h0M389.0 86.2h0M398.2 78.4h0M396.3 78.8h0M389.6 85.0h0M402.5 82.6h0M401.4 81.4h0M399.5 79.4h0M399.4 79.8h0M401.5 80.8h0M395.5 79.1h0M392.1 81.3h0M403.1 84.3h0M396.4 77.2h0M402.8 84.2h0M399.3 78.9h0M395.3 77.3h0M399.2 80.1h0M392.9 80.5h0M394.8 78.7h0M391.8 81.3h0M392.4 80.6h0M392.4 80.1h0M395.7 78.0h0M398.7 79.2h0M401.3 79.4h0M391.5 79.8h0M400.2 80.8h0M401.2 81.4h0M400.9 80.7h0M397.9 78.3h0M392.0 80.5h0M389.8 83.1h0M401.5 81.0h0M390.7 81.9h0M395.3 77.5h0M398.0 78.0h0M403.6 83.5h0M390.1 83.9h0M393.5 79.0h0M395.2 78.4h0M398.9 78.6h0M396.7 78.3h0M401.1 80.2h0M394.5 79.0h0M400.2 78.7h0M403.2 84.8h0M402.7 84.2h0M399.8 79.9h0M399.8 80.0h0M389.7 85.1h0M401.0 80.7h0M398.9 77.9h0M393.4 79.2h0M399.1 79.0h0M390.1 83.7h0M392.6 79.6h0M398.7 78.9h0M391.9 80.9h0M389.3 85.3h0M396.8 78.2h0M400.1 79.9h0M402.9 83.0h0M401.1 80.3h0M392.1 80.7h0M393.9 79.9h0M398.1 76.8h0M397.6 78.1h0M395.7 79.0h0M394.9 79.4h0M394.2 79.6h0M392.8 80.2h0M396.8 77.0h0M403.4 85.7h0M394.4 78.6h0M390.1 83.5h0M397.0 79.4h0M399.2 79.9h0M391.9 80.4h0M400.6 77.3h0M395.2 78.8h0M396.0 79.2h0M399.1 79.5h0M389.2 84.9h0M402.6 83.6h0M391.6 81.7h0M393.6 80.0h0M397.2 79.2h0M390.0 82.9h0M393.3 79.4h0M389.5 84.5h0M393.5 79.1h0M402.7 83.1h0M395.5 78.0h0M395.2 78.0h0M389.9 84.4h0M390.3 82.2h0M401.4 81.1h0M390.4 83.1h0M394.5 77.9h0M401.0 80.2h0M402.5 82.9h0M391.9 81.1h0M402.3 80.7h0M392.3 79.2h0M397.9 78.3h0M401.5 82.1h0M392.4 80.9h0M398.8 79.9h0M401.2 81.9h0M397.9 78.2h0M403.7 84.8h0M388.2 79.2h0M386.0 109.0h0M386.6 101.1h0M383.9 78.0h0M387.0 87.2h0M382.2 84.6h0M386.0 88.4h0M381.1 89.1h0M383.7 103.6h0M382.1 105.6h0M387.0 80.1h0M385.7 87.9h0M384.8 87.1h0M387.7 117.4h0M385.8 107.1h0M388.8 100.5h0M387.1 88.2h0M382.1 80.4h0M386.8 94.0h0M388.4 87.5h0M381.9 89.9h0M386.4 104.4h0M380.9 97.7h0M387.0 76.3h0M384.9 91.1h0M386.3 90.9h0M381.3 84.0h0M388.4 91.0h0M386.4 109.9h0M384.2 93.6h0M388.4 78.3h0M388.7 77.1h0M383.6 83.0h0M383.6 99.7h0M386.4 86.1h0M384.3 88.4h0M388.2 81.8h0M386.4 86.8h0M383.9 89.2h0M380.8 78.0h0M384.4 85.4h0M380.6 96.7h0M383.7 77.3h0M387.0 77.0h0M388.1 80.9h0M384.4 84.9h0M386.6 91.2h0M388.8 83.5h0M384.1 85.2h0M380.5 115.5h0M383.3 78.0h0M386.2 80.7h0M387.0 80.5h0M381.7 85.6h0M385.8 82.1h0M387.2 79.5h0M383.0 77.6h0M386.1 98.5h0M381.2 90.1h0M384.3 78.5h0M383.0 76.8h0M384.8 101.9h0M386.6 88.2h0M380.7 93.3h0M386.2 81.5h0M387.4 86.9h0M388.2 83.3h0M381.3 82.1h0M383.8 77.5h0M384.5 80.6h0M387.7 76.4h0M383.3 85.5h0M382.9 81.6h0M380.8 99.5h0M388.0 86.0h0M386.0 92.4h0M387.5 80.3h0M388.1 103.2h0M388.6 89.5h0M382.6 77.1h0M385.9 86.5h0M382.8 99.9h0M388.5 76.4h0M385.6 102.3h0M382.5 110.7h0M382.4 77.0h0M381.9 91.1h0M385.4 95.4h0M386.5 107.0h0M384.9 107.1h0M386.0 83.9h0M387.7 78.9h0M384.5 82.7h0M381.6 77.6h0M380.7 105.4h0M383.3 89.1h0M385.6 81.6h0M382.9 97.6h0M381.4 82.8h0M388.8 110.5h0M385.6 77.1h0M386.7 80.9h0M381.5 87.9h0M386.2 91.6h0M388.6 96.1h0M385.1 100.9h0M384.4 109.2h0M385.9 104.3h0M387.5 78.4h0M381.3 80.9h0M384.9 100.2h0M383.5 113.7h0M382.1 88.5h0M383.8 89.8h0M386.5 90.9h0M385.3 89.6h0M381.5 79.6h0M383.9 78.5h0M381.1 89.1h0M382.7 78.7h0M381.6 87.6h0M385.9 103.8h0M383.9 98.2h0M388.7 81.4h0M381.2 98.8h0M388.3 100.2h0M380.6 83.3h0M381.9 94.1h0M386.5 78.3h0M387.0 86.2h0M382.3 104.3h0M388.3 117.7h0M384.0 95.1h0M382.9 90.8h0M388.9 96.2h0M384.8 102.2h0M387.7 87.0h0M383.5 76.5h0M383.6 96.8h0M383.3 97.2h0M388.4 82.8h0M387.2 94.5h0M384.4 90.9h0M381.0 77.8h0M387.3 95.5h0M384.9 116.0h0M386.2 111.5h0M380.7 85.5h0M388.1 78.1h0M386.5 106.2h0M380.6 83.1h0M382.7 98.1h0M382.9 81.7h0M387.2 97.5h0M387.4 88.6h0M382.3 104.5h0M381.4 88.6h0M383.7 91.3h0M380.8 89.6h0M383.5 104.1h0M381.6 89.9h0M383.6 80.3h0M384.3 79.4h0M382.9 77.1h0M384.3 112.9h0M388.8 80.8h0M388.2 78.2h0M387.9 80.6h0M380.9 91.4h0M406.2 93.6h0M409.1 105.6h0M404.1 91.6h0M405.8 107.1h0M404.7 120.6h0M407.7 116.7h0M405.0 103.1h0M406.9 113.8h0M408.4 112.6h0M404.7 118.5h0M404.5 105.5h0M406.9 98.3h0M405.7 119.9h0M405.8 109.3h0M404.5 97.9h0M405.5 80.9h0M406.8 110.5h0M407.5 88.4h0M408.6 116.3h0M407.5 101.7h0M405.6 99.1h0M412.7 93.0h0M407.3 116.5h0M404.5 102.9h0M406.9 118.1h0M407.4 105.1h0M405.5 94.6h0M404.4 100.4h0M405.9 116.6h0M407.5 110.3h0M404.3 118.3h0M405.8 116.7h0M408.6 99.1h0M404.5 81.6h0M410.3 113.4h0M349.5 62.3h0M364.6 54.6h0M369.2 50.3h0M368.5 62.0h0M372.3 58.5h0M411.2 48.0h0M394.6 51.5h0M396.9 54.6h0M394.6 57.7h0M397.7 58.5h0M401.5 57.7h0M403.8 56.2h0M391.5 62.3h0M393.8 61.5h0M399.2 62.3h0M403.1 62.3h0M385.4 66.2h0M390.8 66.9h0M394.6 67.7h0M406.2 66.9h0M385.4 70.3h0M390.0 70.8h0M393.0 70.3h0M396.9 71.5h0M401.5 71.5h0M405.4 71.8h0M407.7 68.5h0M397.5 64.5h0M395.5 60.0h0M400.5 60.5h0M402.5 67.6h0M402.1 69.0h0M401.2 69.9h0M399.9 70.1h0M398.7 69.5h0M398.0 68.3h0M398.0 66.9h0M398.7 65.7h0M399.9 65.1h0M401.2 65.3h0M402.1 66.2h0M398.4 70.4h0M395.2 71.6h0M399.4 64.5h0M398.6 66.3h0M403.8 70.1h0M398.7 68.2h0M393.3 69.0h0M394.9 65.8h0M392.4 72.5h0M397.2 72.7h0M397.1 70.3h0M393.5 71.6h0M388.9 65.5h0M394.4 71.0h0M394.3 72.1h0M392.6 66.3h0M399.1 73.2h0M393.8 68.4h0M398.3 72.2h0M394.0 68.5h0M396.6 68.8h0M396.8 70.9h0M400.8 72.8h0M396.9 73.1h0M397.6 68.4h0M390.6 69.4h0M395.7 70.5h0M399.2 69.7h0M401.8 72.8h0M391.9 68.2h0M393.5 72.9h0M395.3 70.6h0M409.1 65.9h0M399.5 72.2h0M399.9 72.9h0M397.1 66.7h0M396.1 68.0h0M398.3 73.0h0M396.9 72.6h0M398.2 69.4h0M399.9 66.8h0M401.3 72.7h0" stroke="#000" stroke-width="0.95" stroke-linecap="round" fill="none" opacity="0.9"/>
<path d="M339.7 11.2H447.9" stroke="#444" stroke-width="0.75" fill="none"/>
<path d="M447.9 11.2V122.8" stroke="#1a1a1a" stroke-width="0.85" fill="none"/>
<path d="M339.7 11.2V122.8H447.9" stroke="#111" stroke-width="0.9" fill="none"/>
<path d="M339.7 74.3L447.9 74.3" stroke="#000" stroke-width="0.95" fill="none"/>
<path d="M381.5 35.2L381.5 122.8" stroke="#000" stroke-width="0.95" fill="none"/>
<path d="M381.5 11.2L381.5 12.4" stroke="#333" stroke-width="0.8" fill="none"/>
<path d="M339.7 120.78h-2.6M343.48 122.8v3M339.7 117.32h-2.6M346.11 122.8v3M339.7 114.64h-2.6M348.27 122.8v3M339.7 112.45h-2.6M350.09 122.8v3M339.7 110.59h-2.6M351.66 122.8v3M339.7 108.98h-2.6M353.06 122.8v3M339.7 107.57h-2.6M354.3 122.8v4.7M339.7 106.3h-4.7M362.49 122.8v3M339.7 97.96h-2.6M367.28 122.8v3M339.7 93.08h-2.6M370.68 122.8v3M339.7 89.62h-2.6M373.31 122.8v3M339.7 86.94h-2.6M375.47 122.8v3M339.7 84.75h-2.6M377.29 122.8v3M339.7 82.89h-2.6M378.86 122.8v3M339.7 81.28h-2.6M380.26 122.8v3M339.7 79.87h-2.6M381.5 122.8v4.7M339.7 78.6h-4.7M389.69 122.8v3M339.7 70.26h-2.6M394.48 122.8v3M339.7 65.38h-2.6M397.88 122.8v3M339.7 61.92h-2.6M400.51 122.8v3M339.7 59.24h-2.6M402.67 122.8v3M339.7 57.05h-2.6M404.49 122.8v3M339.7 55.19h-2.6M406.06 122.8v3M339.7 53.58h-2.6M407.46 122.8v3M339.7 52.17h-2.6M408.7 122.8v4.7M339.7 50.9h-4.7M416.89 122.8v3M339.7 42.56h-2.6M421.68 122.8v3M339.7 37.68h-2.6M425.08 122.8v3M339.7 34.22h-2.6M427.71 122.8v3M339.7 31.54h-2.6M429.87 122.8v3M339.7 29.35h-2.6M431.69 122.8v3M339.7 27.49h-2.6M433.26 122.8v3M339.7 25.88h-2.6M434.66 122.8v3M339.7 24.47h-2.6M435.9 122.8v4.7M339.7 23.2h-4.7M444.09 122.8v3M339.7 14.86h-2.6" stroke="#000" stroke-width="0.95" fill="none"/>
<text x="353.1" y="136.2" font-size="6" text-anchor="middle" font-weight="normal" stroke="#111" stroke-width="0.25">10</text>
<text x="356.1" y="132" font-size="5.2" text-anchor="start" font-weight="normal" stroke="#111" stroke-width="0.1">2</text>
<g transform="translate(333.4 106.9) rotate(-90)" stroke="#111" stroke-width="0.25">
<text x="0" y="0" font-size="6" text-anchor="middle" font-weight="normal">10</text>
<text x="3.1" y="-3.6" font-size="5.2" text-anchor="start" font-weight="normal" stroke-width="0.1">2</text>
</g>
<text x="380.3" y="136.2" font-size="6" text-anchor="middle" font-weight="normal" stroke="#111" stroke-width="0.25">10</text>
<text x="383.3" y="132" font-size="5.2" text-anchor="start" font-weight="normal" stroke="#111" stroke-width="0.1">3</text>
<g transform="translate(333.4 79.2) rotate(-90)" stroke="#111" stroke-width="0.25">
<text x="0" y="0" font-size="6" text-anchor="middle" font-weight="normal">10</text>
<text x="3.1" y="-3.6" font-size="5.2" text-anchor="start" font-weight="normal" stroke-width="0.1">3</text>
</g>
<text x="407.5" y="136.2" font-size="6" text-anchor="middle" font-weight="normal" stroke="#111" stroke-width="0.25">10</text>
<text x="410.5" y="132" font-size="5.2" text-anchor="start" font-weight="normal" stroke="#111" stroke-width="0.1">4</text>
<g transform="translate(333.4 51.5) rotate(-90)" stroke="#111" stroke-width="0.25">
<text x="0" y="0" font-size="6" text-anchor="middle" font-weight="normal">10</text>
<text x="3.1" y="-3.6" font-size="5.2" text-anchor="start" font-weight="normal" stroke-width="0.1">4</text>
</g>
<text x="434.7" y="136.2" font-size="6" text-anchor="middle" font-weight="normal" stroke="#111" stroke-width="0.25">10</text>
<text x="437.7" y="132" font-size="5.2" text-anchor="start" font-weight="normal" stroke="#111" stroke-width="0.1">5</text>
<g transform="translate(333.4 23.8) rotate(-90)" stroke="#111" stroke-width="0.25">
<text x="0" y="0" font-size="6" text-anchor="middle" font-weight="normal">10</text>
<text x="3.1" y="-3.6" font-size="5.2" text-anchor="start" font-weight="normal" stroke-width="0.1">5</text>
</g>
<text x="342.3" y="30.3" font-size="20.5" text-anchor="start" font-weight="bold" stroke="#000" stroke-width="0.25" fill="#000">iii</text>
<text x="436.4" y="25.8" font-size="9.8" text-anchor="end" font-weight="normal">0.12%</text>
<text x="395.3" y="8.3" font-size="9" text-anchor="middle" font-weight="normal">allo-antigen stimulated</text>
<text x="1" y="68.4" font-size="9.3" text-anchor="start" font-weight="normal">CD154</text>
<text x="251.4" y="155.7" font-size="9.2" text-anchor="middle" font-weight="normal">CD4</text>
<path d="M45.4 193.5V347.3" stroke="#111" stroke-width="0.9" fill="none"/>
<path d="M40.8 346.9L45.4 346.9" stroke="#111" stroke-width="0.9" fill="none"/>
<text x="39.9" y="350.65" font-size="10.4" text-anchor="end" font-weight="normal">0.0</text>
<path d="M40.8 270.4L45.4 270.4" stroke="#111" stroke-width="0.9" fill="none"/>
<text x="39.9" y="274.15" font-size="10.4" text-anchor="end" font-weight="normal">0.1</text>
<path d="M40.8 193.9L45.4 193.9" stroke="#111" stroke-width="0.9" fill="none"/>
<text x="39.9" y="197.65" font-size="10.4" text-anchor="end" font-weight="normal">0.2</text>
<g transform="translate(16.1 271.8) rotate(-90)">
<text x="0" y="0" font-size="10.3" text-anchor="middle" font-weight="normal">CD154+ cells (%)</text>
</g>
<path d="M70.15 343.46V339.63M66.65 339.63h7" stroke="#111" stroke-width="0.8" fill="none"/>
<rect x="64" y="343.46" width="12.7" height="3.44" fill="#fff" stroke="#222" stroke-width="0.75"/>
<rect x="76.7" y="323.72" width="13.1" height="23.58" fill="#000"/>
<path d="M102.55 320.81V316.45M99.05 316.45h7" stroke="#111" stroke-width="0.8" fill="none"/>
<path d="M115.7 261.22V251.27M112.2 251.27h7" stroke="#111" stroke-width="0.8" fill="none"/>
<rect x="96.4" y="320.81" width="12.7" height="26.09" fill="#fff" stroke="#222" stroke-width="0.75"/>
<rect x="109.1" y="261.22" width="13.2" height="86.08" fill="#000"/>
<rect x="135.5" y="339.25" width="12.7" height="7.65" fill="#fff" stroke="#222" stroke-width="0.75"/>
<rect x="148.2" y="316.3" width="13.1" height="31" fill="#000"/>
<path d="M174.15 328V323.72M170.65 323.72h7" stroke="#111" stroke-width="0.8" fill="none"/>
<path d="M187.35 297.48V286.24M183.85 286.24h7" stroke="#111" stroke-width="0.8" fill="none"/>
<rect x="168" y="328" width="12.7" height="18.9" fill="#fff" stroke="#222" stroke-width="0.75"/>
<rect x="180.7" y="297.48" width="13.3" height="49.82" fill="#000"/>
<path d="M213.35 335.5V331.75M209.85 331.75h7" stroke="#111" stroke-width="0.8" fill="none"/>
<rect x="207.2" y="335.5" width="12.7" height="11.4" fill="#fff" stroke="#222" stroke-width="0.75"/>
<rect x="219.9" y="323.72" width="13.1" height="23.58" fill="#000"/>
<path d="M245.85 313.01V308.73M242.35 308.73h7" stroke="#111" stroke-width="0.8" fill="none"/>
<path d="M259.65 200.78V198.72M256.15 198.72h7" stroke="#111" stroke-width="0.8" fill="none"/>
<rect x="239.7" y="313.01" width="12.7" height="33.89" fill="#fff" stroke="#222" stroke-width="0.75"/>
<rect x="252.4" y="200.78" width="14.5" height="146.52" fill="#000"/>
<text x="75.9" y="363.6" font-size="10.4" text-anchor="middle" font-weight="normal">BFA</text>
<text x="147.3" y="363.6" font-size="10.4" text-anchor="middle" font-weight="normal">BFA</text>
<text x="217" y="363.6" font-size="10.4" text-anchor="middle" font-weight="normal">BFA</text>
<text transform="translate(92.3 363.7) scale(1.36 1)" font-size="8.7">α</text>
<text x="100.5" y="363.6" font-size="10.2" text-anchor="start" font-weight="normal">CD40</text>
<text transform="translate(163.1 363.7) scale(1.36 1)" font-size="8.7">α</text>
<text x="171.3" y="363.6" font-size="10.2" text-anchor="start" font-weight="normal">CD40</text>
<text transform="translate(233.1 363.7) scale(1.36 1)" font-size="8.7">α</text>
<text x="241.3" y="363.6" font-size="10.2" text-anchor="start" font-weight="normal">CD40</text>
<text x="93" y="385.6" font-size="10.4" text-anchor="middle" font-weight="normal">CD4</text>
<text x="168.8" y="385.6" font-size="10.4" text-anchor="middle" font-weight="normal">naive</text>
<text x="248.6" y="385.6" font-size="10.4" text-anchor="middle" font-weight="normal">mem</text>
<rect x="283.9" y="200.7" width="20.6" height="4.8" fill="#fff" stroke="#111" stroke-width="0.8"/>
<rect x="283.5" y="217.2" width="21.6" height="5.8" fill="#000"/>
<text x="308.3" y="206.7" font-size="10.3" text-anchor="start" font-weight="normal">without costimulation</text>
<text x="308.3" y="224" font-size="10.3" text-anchor="start" font-weight="normal">with costimulation</text>
<path d="M38 445.85V572.9" stroke="#111" stroke-width="0.95" fill="none"/>
<path d="M33.7 572.5L38 572.5" stroke="#111" stroke-width="0.95" fill="none"/>
<text transform="translate(32.4 575.3) scale(0.95 1)" font-size="7.9" text-anchor="end">0.00</text>
<path d="M33.7 547.25L38 547.25" stroke="#111" stroke-width="0.95" fill="none"/>
<text transform="translate(32.4 550.05) scale(0.95 1)" font-size="7.9" text-anchor="end">0.05</text>
<path d="M33.7 522L38 522" stroke="#111" stroke-width="0.95" fill="none"/>
<text transform="translate(32.4 524.8) scale(0.95 1)" font-size="7.9" text-anchor="end">0.10</text>
<path d="M33.7 496.75L38 496.75" stroke="#111" stroke-width="0.95" fill="none"/>
<text transform="translate(32.4 499.55) scale(0.95 1)" font-size="7.9" text-anchor="end">0.15</text>
<path d="M33.7 471.5L38 471.5" stroke="#111" stroke-width="0.95" fill="none"/>
<text transform="translate(32.4 474.3) scale(0.95 1)" font-size="7.9" text-anchor="end">0.20</text>
<path d="M33.7 446.25L38 446.25" stroke="#111" stroke-width="0.95" fill="none"/>
<text transform="translate(32.4 449.05) scale(0.95 1)" font-size="7.9" text-anchor="end">0.25</text>
<path d="M51.35 586.8H247.75" stroke="#111" stroke-width="0.95" fill="none"/>
<path d="M51.75 586.8L51.75 590.5" stroke="#111" stroke-width="0.95" fill="none"/>
<text transform="translate(51.75 598.7) scale(0.95 1)" font-size="7.9" text-anchor="middle">0</text>
<path d="M84.35 586.8L84.35 590.5" stroke="#111" stroke-width="0.95" fill="none"/>
<text transform="translate(84.35 598.7) scale(0.95 1)" font-size="7.9" text-anchor="middle">10</text>
<path d="M116.95 586.8L116.95 590.5" stroke="#111" stroke-width="0.95" fill="none"/>
<text transform="translate(116.95 598.7) scale(0.95 1)" font-size="7.9" text-anchor="middle">20</text>
<path d="M149.55 586.8L149.55 590.5" stroke="#111" stroke-width="0.95" fill="none"/>
<text transform="translate(149.55 598.7) scale(0.95 1)" font-size="7.9" text-anchor="middle">30</text>
<path d="M182.15 586.8L182.15 590.5" stroke="#111" stroke-width="0.95" fill="none"/>
<text transform="translate(182.15 598.7) scale(0.95 1)" font-size="7.9" text-anchor="middle">40</text>
<path d="M214.75 586.8L214.75 590.5" stroke="#111" stroke-width="0.95" fill="none"/>
<text transform="translate(214.75 598.7) scale(0.95 1)" font-size="7.9" text-anchor="middle">50</text>
<path d="M247.35 586.8L247.35 590.5" stroke="#111" stroke-width="0.95" fill="none"/>
<text transform="translate(247.35 598.7) scale(0.95 1)" font-size="7.9" text-anchor="middle">60</text>
<text x="150" y="613.4" font-size="7.6" text-anchor="middle" font-weight="normal">time (hours)</text>
<text x="162.8" y="422.1" font-size="10.2" text-anchor="middle" font-weight="normal">CD4+ T cell subset</text>
<g transform="translate(7.3 509.8) rotate(-90)">
<text x="0" y="0" font-size="7.5" text-anchor="middle">CD154<tspan font-size="5" dy="-2.6">+</tspan><tspan dy="2.6">CD4</tspan><tspan font-size="5" dy="-2.6">+</tspan><tspan dy="2.6"> T cells (%)</tspan></text>
</g>
<path d="M55.01 571.49L58.27 571.49L64.79 535.63L71.31 509.38L77.83 477.06L84.35 562.4L90.87 572.5L110.43 546.24L129.99 477.06L169.11 456.86L208.23 572.5" stroke="#111" stroke-width="0.85" fill="none" stroke-linejoin="round"/>
<path d="M55.01 571.49L58.27 571.49L64.79 535.63L71.31 515.43L77.83 482.11L84.35 566.95L90.87 572.5L110.43 546.75L129.99 506.85L169.11 562.4L208.23 572.5" stroke="#111" stroke-width="0.85" fill="none" stroke-linejoin="round"/>
<path d="M55.01 571.49L58.27 572L64.79 535.63L71.31 522L77.83 489.68L84.35 571.49L90.87 572.5L110.43 541.7L129.99 531.6L169.11 572.5L208.23 572.5" stroke="#111" stroke-width="0.85" fill="none" stroke-linejoin="round"/>
<circle cx="55.01" cy="571.49" r="2.1" fill="#000"/>
<circle cx="58.27" cy="571.49" r="2.1" fill="#000"/>
<circle cx="64.79" cy="535.63" r="2.1" fill="#000"/>
<circle cx="71.31" cy="509.38" r="2.1" fill="#000"/>
<circle cx="77.83" cy="477.06" r="2.1" fill="#000"/>
<circle cx="84.35" cy="562.4" r="2.1" fill="#000"/>
<circle cx="90.87" cy="572.5" r="2.1" fill="#000"/>
<circle cx="110.43" cy="546.24" r="2.1" fill="#000"/>
<circle cx="129.99" cy="477.06" r="2.1" fill="#000"/>
<circle cx="169.11" cy="456.86" r="2.1" fill="#000"/>
<circle cx="208.23" cy="572.5" r="2.1" fill="#000"/>
<path d="M52.81 569.99h4.4l-2.2 3.9z" fill="#000"/>
<path d="M56.07 570.5h4.4l-2.2 3.9z" fill="#000"/>
<path d="M62.59 534.13h4.4l-2.2 3.9z" fill="#000"/>
<path d="M69.11 520.5h4.4l-2.2 3.9z" fill="#000"/>
<path d="M75.63 488.18h4.4l-2.2 3.9z" fill="#000"/>
<path d="M82.15 569.99h4.4l-2.2 3.9z" fill="#000"/>
<path d="M88.67 571h4.4l-2.2 3.9z" fill="#000"/>
<path d="M108.23 540.2h4.4l-2.2 3.9z" fill="#000"/>
<path d="M127.79 530.1h4.4l-2.2 3.9z" fill="#000"/>
<path d="M166.91 571h4.4l-2.2 3.9z" fill="#000"/>
<path d="M206.03 571h4.4l-2.2 3.9z" fill="#000"/>
<rect x="52.96" y="569.44" width="4.1" height="4.1" fill="#000"/>
<rect x="56.22" y="569.44" width="4.1" height="4.1" fill="#000"/>
<rect x="62.74" y="533.59" width="4.1" height="4.1" fill="#000"/>
<rect x="69.26" y="513.38" width="4.1" height="4.1" fill="#000"/>
<rect x="75.78" y="480.06" width="4.1" height="4.1" fill="#000"/>
<rect x="82.3" y="564.9" width="4.1" height="4.1" fill="#000"/>
<rect x="88.82" y="570.45" width="4.1" height="4.1" fill="#000"/>
<rect x="108.38" y="544.7" width="4.1" height="4.1" fill="#000"/>
<rect x="127.94" y="504.8" width="4.1" height="4.1" fill="#000"/>
<rect x="167.06" y="560.35" width="4.1" height="4.1" fill="#000"/>
<rect x="206.18" y="570.45" width="4.1" height="4.1" fill="#000"/>
<path d="M304.5 451.07V577.7" stroke="#111" stroke-width="0.95" fill="none"/>
<path d="M300.4 577.3L304.5 577.3" stroke="#111" stroke-width="0.95" fill="none"/>
<text transform="translate(299 580.1) scale(0.95 1)" font-size="7.9" text-anchor="end">0.0</text>
<path d="M300.4 559.32L304.5 559.32" stroke="#111" stroke-width="0.95" fill="none"/>
<text transform="translate(299 562.12) scale(0.95 1)" font-size="7.9" text-anchor="end">0.5</text>
<path d="M300.4 541.35L304.5 541.35" stroke="#111" stroke-width="0.95" fill="none"/>
<text transform="translate(299 544.15) scale(0.95 1)" font-size="7.9" text-anchor="end">1.0</text>
<path d="M300.4 523.38L304.5 523.38" stroke="#111" stroke-width="0.95" fill="none"/>
<text transform="translate(299 526.17) scale(0.95 1)" font-size="7.9" text-anchor="end">1.5</text>
<path d="M300.4 505.4L304.5 505.4" stroke="#111" stroke-width="0.95" fill="none"/>
<text transform="translate(299 508.2) scale(0.95 1)" font-size="7.9" text-anchor="end">2.0</text>
<path d="M300.4 487.42L304.5 487.42" stroke="#111" stroke-width="0.95" fill="none"/>
<text transform="translate(299 490.22) scale(0.95 1)" font-size="7.9" text-anchor="end">2.5</text>
<path d="M300.4 469.45L304.5 469.45" stroke="#111" stroke-width="0.95" fill="none"/>
<text transform="translate(299 472.25) scale(0.95 1)" font-size="7.9" text-anchor="end">3.0</text>
<path d="M300.4 451.47L304.5 451.47" stroke="#111" stroke-width="0.95" fill="none"/>
<text transform="translate(299 454.27) scale(0.95 1)" font-size="7.9" text-anchor="end">3.5</text>
<path d="M318.35 591.5H514.35" stroke="#111" stroke-width="0.95" fill="none"/>
<path d="M318.75 591.5L318.75 595.4" stroke="#111" stroke-width="0.95" fill="none"/>
<text transform="translate(318.75 603.8) scale(0.95 1)" font-size="7.9" text-anchor="middle">0</text>
<path d="M367.55 591.5L367.55 595.4" stroke="#111" stroke-width="0.95" fill="none"/>
<text transform="translate(367.55 603.8) scale(0.95 1)" font-size="7.9" text-anchor="middle">10</text>
<path d="M416.35 591.5L416.35 595.4" stroke="#111" stroke-width="0.95" fill="none"/>
<text transform="translate(416.35 603.8) scale(0.95 1)" font-size="7.9" text-anchor="middle">20</text>
<path d="M465.15 591.5L465.15 595.4" stroke="#111" stroke-width="0.95" fill="none"/>
<text transform="translate(465.15 603.8) scale(0.95 1)" font-size="7.9" text-anchor="middle">30</text>
<path d="M513.95 591.5L513.95 595.4" stroke="#111" stroke-width="0.95" fill="none"/>
<text transform="translate(513.95 603.8) scale(0.95 1)" font-size="7.9" text-anchor="middle">40</text>
<text x="416.6" y="618.3" font-size="7.6" text-anchor="middle" font-weight="normal">time (hours)</text>
<g transform="translate(277.7 515.3) rotate(-90)">
<text x="0" y="0" font-size="7.5" text-anchor="middle">CD154<tspan font-size="5" dy="-2.6">+</tspan><tspan dy="2.6">CD4</tspan><tspan font-size="5" dy="-2.6">+</tspan><tspan dy="2.6"> T cells (%)</tspan></text>
</g>
<path d="M323.63 577.3L328.51 576.94L338.27 523.38L348.03 488.86L357.79 463.34L367.55 566.16L377.31 559.32L406.59 507.2L435.87 511.51L494.43 556.09" stroke="#111" stroke-width="0.85" fill="none" stroke-linejoin="round"/>
<path d="M323.63 577.3L328.51 576.94L338.27 552.13L348.03 533.8L357.79 519.78L367.55 571.91L377.31 570.83L406.59 549.26L435.87 528.05L494.43 574.06" stroke="#111" stroke-width="0.85" fill="none" stroke-linejoin="round"/>
<path d="M323.63 577.3L328.51 577.3L338.27 575.86L348.03 576.58L357.79 575.86L367.55 577.3L377.31 575.86L406.59 576.94L435.87 541.35L494.43 575.5" stroke="#111" stroke-width="0.85" fill="none" stroke-linejoin="round"/>
<circle cx="323.63" cy="577.3" r="2.1" fill="#000"/>
<circle cx="328.51" cy="576.94" r="2.1" fill="#000"/>
<circle cx="338.27" cy="523.38" r="2.1" fill="#000"/>
<circle cx="348.03" cy="488.86" r="2.1" fill="#000"/>
<circle cx="357.79" cy="463.34" r="2.1" fill="#000"/>
<circle cx="367.55" cy="566.16" r="2.1" fill="#000"/>
<circle cx="377.31" cy="559.32" r="2.1" fill="#000"/>
<circle cx="406.59" cy="507.2" r="2.1" fill="#000"/>
<circle cx="435.87" cy="511.51" r="2.1" fill="#000"/>
<circle cx="494.43" cy="556.09" r="2.1" fill="#000"/>
<path d="M321.43 575.8h4.4l-2.2 3.9z" fill="#000"/>
<path d="M326.31 575.8h4.4l-2.2 3.9z" fill="#000"/>
<path d="M336.07 574.36h4.4l-2.2 3.9z" fill="#000"/>
<path d="M345.83 575.08h4.4l-2.2 3.9z" fill="#000"/>
<path d="M355.59 574.36h4.4l-2.2 3.9z" fill="#000"/>
<path d="M365.35 575.8h4.4l-2.2 3.9z" fill="#000"/>
<path d="M375.11 574.36h4.4l-2.2 3.9z" fill="#000"/>
<path d="M404.39 575.44h4.4l-2.2 3.9z" fill="#000"/>
<path d="M433.67 539.85h4.4l-2.2 3.9z" fill="#000"/>
<path d="M492.23 574h4.4l-2.2 3.9z" fill="#000"/>
<rect x="321.38" y="575.05" width="4.5" height="4.5" fill="#000"/>
<rect x="326.26" y="574.69" width="4.5" height="4.5" fill="#000"/>
<rect x="336.02" y="549.88" width="4.5" height="4.5" fill="#000"/>
<rect x="345.78" y="531.55" width="4.5" height="4.5" fill="#000"/>
<rect x="355.54" y="517.53" width="4.5" height="4.5" fill="#000"/>
<rect x="365.3" y="569.66" width="4.5" height="4.5" fill="#000"/>
<rect x="375.06" y="568.58" width="4.5" height="4.5" fill="#000"/>
<rect x="404.34" y="547.01" width="4.5" height="4.5" fill="#000"/>
<rect x="433.62" y="525.8" width="4.5" height="4.5" fill="#000"/>
<rect x="492.18" y="571.81" width="4.5" height="4.5" fill="#000"/>
</g></svg></body></html>
